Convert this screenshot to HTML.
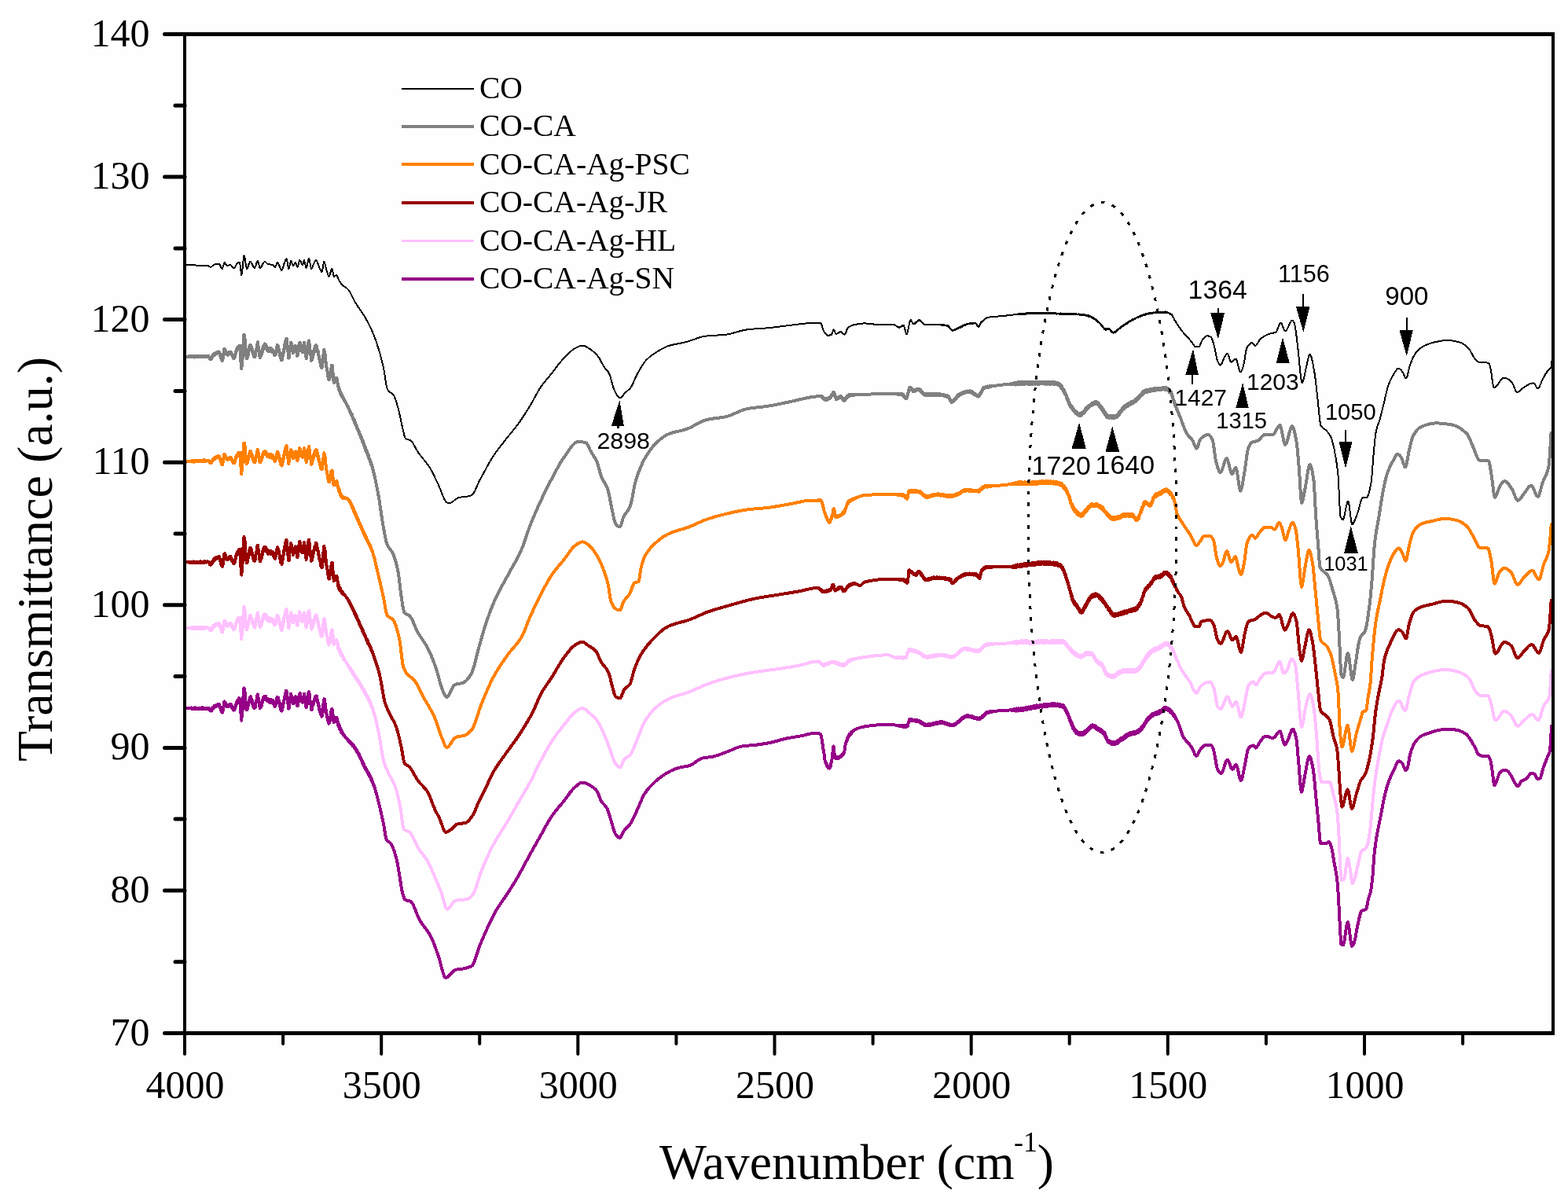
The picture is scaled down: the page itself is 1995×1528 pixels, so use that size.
<!DOCTYPE html>
<html><head><meta charset="utf-8"><title>FTIR</title>
<style>html,body{margin:0;padding:0;background:#fefefe;overflow:hidden}svg{display:block}</style>
</head><body>
<svg width="1995" height="1528" viewBox="0 0 1995 1528">
<rect width="1995" height="1528" fill="#fefefe"/>
<polyline points="235.0,900.7 236.0,900.8 237.0,900.8 238.0,900.8 238.6,900.9 239.0,900.8 239.2,901.0 239.8,900.8 240.0,901.0 240.4,900.8 241.0,901.2 241.0,900.8 241.6,901.2 242.0,900.6 242.2,901.4 242.8,900.8 243.0,901.4 243.4,900.5 244.0,901.7 244.0,900.5 244.6,901.6 245.0,900.6 245.2,901.8 245.8,900.8 246.0,901.8 246.4,900.7 247.0,902.0 247.0,900.8 247.6,901.9 248.0,900.4 248.2,901.7 248.8,900.4 249.0,902.0 249.4,900.9 250.0,902.0 250.0,900.9 250.6,901.9 251.0,900.6 251.2,901.7 251.8,900.7 252.0,902.0 252.4,900.7 253.0,901.7 253.0,900.5 253.6,901.9 254.0,900.5 254.2,901.7 254.8,900.7 255.0,902.0 255.4,900.6 256.0,901.9 256.0,900.8 256.6,901.6 257.0,900.4 257.2,901.7 257.8,900.4 258.0,901.8 258.4,900.4 259.0,901.8 259.0,900.4 259.6,901.9 260.0,900.8 260.2,902.0 260.8,900.6 261.0,901.9 261.4,900.8 262.0,901.6 262.0,900.8 262.6,901.6 262.6,900.8 263.0,901.7 263.2,901.0 263.2,901.8 263.8,901.1 263.8,901.6 264.0,900.9 264.4,901.6 264.4,901.0 265.0,901.7 265.0,900.9 265.0,901.8 265.6,901.2 265.6,902.1 266.0,901.9 266.2,903.0 266.2,901.9 266.8,903.8 266.8,902.8 267.0,904.1 267.4,903.2 267.4,904.5 267.8,903.6 268.0,904.5 268.0,903.6 268.6,904.6 269.0,902.4 269.2,904.2 269.8,901.6 270.0,903.2 270.4,900.8 271.0,901.6 271.0,899.9 271.6,900.6 272.0,899.0 272.2,900.5 272.8,897.9 273.0,899.5 273.4,897.8 274.0,898.9 274.0,897.4 274.6,898.8 275.0,897.2 275.2,898.8 275.8,896.7 276.0,898.1 276.4,896.6 277.0,897.5 277.0,896.4 277.6,897.6 278.0,895.7 278.2,897.9 278.4,896.0 278.8,897.8 279.0,896.3 279.4,899.1 280.0,898.8 280.0,900.6 280.6,900.6 281.0,903.5 281.2,902.2 281.8,905.5 282.0,904.1 282.4,906.7 282.8,905.4 283.0,906.2 283.0,905.1 283.6,904.1 284.0,900.4 284.2,900.2 284.8,895.3 285.0,895.9 285.4,892.5 285.6,894.2 286.0,892.9 286.0,894.5 286.6,893.7 287.0,896.6 287.2,894.8 287.8,898.2 288.0,896.8 288.4,899.2 289.0,897.9 289.0,899.6 289.6,897.7 290.0,899.5 290.2,897.5 290.8,898.9 291.0,897.2 291.4,898.4 292.0,896.7 292.0,897.7 292.6,896.1 293.0,897.7 293.2,895.8 293.8,897.8 294.0,896.7 294.4,898.9 295.0,898.2 295.0,900.1 295.6,899.4 296.0,901.9 296.2,900.5 296.6,902.8 296.8,901.6 297.0,903.2 297.2,901.8 297.4,903.3 297.8,902.0 297.8,903.7 298.0,901.9 298.0,903.3 298.4,901.7 298.6,902.2 299.0,900.2 299.0,900.9 299.2,899.4 299.6,899.4 299.8,897.1 300.0,897.9 300.2,895.6 300.4,896.1 300.8,893.8 301.0,895.3 301.0,893.2 301.4,894.7 301.6,892.2 302.0,893.7 302.0,891.5 302.2,894.1 302.6,890.9 302.8,893.3 303.0,890.3 303.2,892.2 303.4,889.7 303.8,891.6 304.0,888.2 304.4,891.6 305.0,888.9 305.0,891.0 305.6,893.2 306.0,901.2 306.2,901.7 306.8,913.4 307.0,911.2 307.3,916.8 307.4,913.3 308.0,912.0 308.0,908.1 308.6,902.8 309.0,892.8 309.2,893.0 309.8,880.5 310.0,881.6 310.4,875.5 310.6,878.5 311.0,876.8 311.0,879.8 311.6,880.1 312.0,887.8 312.2,887.0 312.8,897.2 313.0,895.4 313.4,902.2 314.0,900.6 314.0,903.6 314.6,900.0 315.0,901.3 315.2,898.3 315.8,898.3 316.0,895.2 316.4,895.9 317.0,890.1 317.0,892.6 317.6,888.4 318.0,890.8 318.2,887.3 318.4,889.7 318.8,886.2 319.0,889.7 319.4,887.8 320.0,892.6 320.0,889.6 320.6,893.3 321.0,891.3 321.2,895.9 321.8,894.6 322.0,898.1 322.4,896.3 323.0,901.0 323.0,896.7 323.6,900.7 324.0,898.2 324.2,900.9 324.8,896.8 325.0,899.4 325.4,893.7 326.0,893.5 326.0,890.9 326.6,890.6 327.0,885.8 327.2,888.4 327.8,883.3 327.9,886.7 328.0,883.8 328.4,887.5 329.0,888.7 329.0,892.3 329.6,892.9 330.0,898.8 330.2,896.4 330.7,901.0 330.8,897.3 331.0,900.5 331.4,897.5 332.0,900.0 332.0,896.3 332.6,898.7 333.0,894.3 333.2,896.8 333.8,891.4 334.0,894.0 334.4,889.1 335.0,890.7 335.0,887.9 335.6,889.5 336.0,886.2 336.2,889.4 336.8,885.5 336.8,889.0 337.0,886.1 337.4,889.5 338.0,885.5 338.0,889.6 338.6,887.4 339.0,891.0 339.2,888.2 339.8,891.7 340.0,889.6 340.4,892.0 341.0,890.3 341.0,892.6 341.6,889.5 342.0,893.0 342.2,889.7 342.8,892.8 343.0,890.9 343.4,893.0 344.0,889.8 344.0,894.1 344.6,891.2 345.0,894.4 345.2,891.0 345.8,893.7 346.0,890.7 346.4,893.7 347.0,890.5 347.0,894.2 347.6,891.7 348.0,895.8 348.2,893.2 348.8,897.7 349.0,893.9 349.4,898.5 350.0,896.2 350.0,899.2 350.6,894.4 351.0,896.3 351.2,892.0 351.8,892.4 352.0,888.9 352.4,890.5 352.9,887.1 353.0,889.9 353.0,887.0 353.6,890.1 354.0,887.5 354.2,891.9 354.8,890.9 355.0,894.7 355.4,892.1 356.0,898.9 356.0,894.8 356.6,900.4 357.0,898.7 357.2,902.7 357.8,901.4 358.0,904.6 358.4,901.4 358.5,904.7 359.0,900.3 359.0,903.3 359.6,898.5 360.0,899.8 360.2,895.1 360.8,894.6 361.0,891.5 361.4,892.2 362.0,886.6 362.0,889.2 362.6,884.3 363.0,885.2 363.2,882.1 363.8,883.4 364.0,878.8 364.4,882.7 364.6,878.9 365.0,882.5 365.0,880.1 365.6,887.9 366.0,888.9 366.2,894.4 366.8,896.0 367.0,901.4 367.4,898.7 367.4,901.6 368.0,896.2 368.0,900.5 368.6,892.8 369.0,891.6 369.2,887.0 369.8,887.4 370.0,882.6 370.1,885.8 370.4,883.9 371.0,888.4 371.0,885.2 371.6,891.5 372.0,889.6 372.2,893.7 372.8,892.4 373.0,895.6 373.4,891.7 374.0,894.4 374.0,891.0 374.6,891.6 375.0,887.9 375.2,890.2 375.8,886.3 376.0,888.9 376.4,886.5 377.0,893.0 377.0,890.1 377.6,896.4 378.0,894.9 378.2,897.9 378.5,895.3 378.8,898.0 379.0,894.6 379.4,895.6 380.0,887.5 380.0,890.8 380.6,884.5 381.0,885.7 381.2,882.5 381.3,885.8 381.8,882.0 382.0,886.5 382.4,884.1 383.0,889.6 383.0,886.2 383.6,891.4 384.0,890.1 384.2,892.7 384.8,890.9 385.0,894.0 385.4,889.6 386.0,890.1 386.0,886.7 386.6,887.0 387.0,882.6 387.2,885.1 387.8,886.1 388.0,890.5 388.4,891.3 389.0,898.3 389.0,895.1 389.6,900.5 389.6,897.7 390.0,899.6 390.2,896.0 390.8,896.3 391.0,891.3 391.4,891.4 392.0,882.9 392.0,886.6 392.6,880.2 393.0,882.8 393.2,880.3 393.8,885.8 394.0,883.2 394.4,890.8 395.0,892.7 395.0,895.8 395.6,896.7 396.0,901.6 396.2,899.9 396.3,903.4 396.8,898.8 397.0,902.2 397.4,897.3 398.0,897.8 398.0,895.2 398.6,896.5 399.0,892.5 399.2,894.7 399.8,889.3 400.0,892.0 400.4,888.9 401.0,889.5 401.0,886.6 401.6,889.5 402.0,885.8 402.2,888.9 402.4,885.5 402.8,888.8 403.0,885.7 403.4,890.1 404.0,890.1 404.0,893.8 404.6,893.0 405.0,898.0 405.2,895.1 405.8,901.1 406.0,898.2 406.4,903.4 407.0,902.7 407.0,905.1 407.6,904.9 408.0,908.8 408.2,906.5 408.8,910.6 409.0,908.2 409.4,911.9 409.6,908.4 410.0,910.3 410.0,907.1 410.6,906.3 411.0,898.8 411.2,899.8 411.8,891.7 412.0,893.8 412.4,889.2 412.4,891.9 413.0,889.8 413.0,893.3 413.6,894.2 414.0,899.6 414.2,898.0 414.8,905.3 415.0,903.1 415.4,908.5 416.0,909.0 416.0,912.2 416.6,911.7 417.0,916.9 417.2,914.7 417.8,919.7 418.0,916.8 418.4,920.9 418.5,918.4 419.0,920.1 419.0,917.1 419.6,917.7 420.0,913.0 420.2,915.1 420.8,908.1 421.0,910.0 421.4,904.5 422.0,905.4 422.0,902.0 422.4,904.3 422.6,902.0 423.0,906.9 423.2,905.1 423.8,912.3 424.0,912.1 424.4,917.5 425.0,916.3 425.0,919.2 425.6,916.4 426.0,918.3 426.2,914.8 426.8,917.6 427.0,913.3 427.4,915.7 428.0,913.0 428.0,916.0 428.6,913.0 429.0,917.8 429.2,914.7 429.8,920.8 430.0,918.6 430.4,923.4 431.0,921.3 431.0,924.7 431.6,923.1 432.0,927.5 432.2,923.6 432.8,928.4 433.0,926.2 433.4,929.2 434.0,928.1 434.0,931.0 434.6,929.9 435.0,932.7 435.2,930.7 435.8,933.8 436.0,932.0 436.4,934.1 437.0,934.0 437.0,935.3 437.6,935.0 438.0,936.1 438.2,935.6 438.8,937.2 439.0,937.0 439.4,937.7 440.0,938.3 440.6,939.0 441.0,939.6 441.2,939.7 441.8,940.6 442.0,940.4 442.4,941.2 443.0,941.3 443.0,942.0 443.6,941.9 444.0,943.3 444.2,942.6 444.8,944.3 445.0,943.3 445.4,944.9 446.0,944.4 446.0,945.4 446.6,944.8 447.0,946.9 447.2,945.4 447.8,947.8 448.0,946.0 448.4,948.4 449.0,947.7 449.0,949.2 449.6,947.7 450.0,950.0 450.2,948.9 450.8,951.6 451.0,949.9 451.4,951.9 452.0,951.3 452.0,952.8 452.6,952.5 453.0,954.5 453.2,953.4 453.8,955.9 454.0,954.1 454.4,956.7 455.0,955.8 455.0,957.9 455.6,957.1 456.0,959.9 456.2,958.3 456.8,961.8 457.0,959.8 457.4,962.4 458.0,961.8 458.0,963.7 458.6,963.2 459.0,965.7 459.2,964.8 459.8,967.5 460.0,966.3 460.4,968.9 461.0,968.5 461.0,970.1 461.6,969.9 462.0,972.8 462.2,971.0 462.8,974.1 463.0,972.5 463.4,975.7 463.5,973.8 464.0,976.2 464.0,974.9 464.6,977.4 465.0,976.7 465.2,979.0 465.8,977.9 466.0,979.9 466.4,979.4 467.0,981.9 467.0,980.0 467.6,983.1 468.0,982.0 468.2,984.0 468.8,983.4 469.0,985.7 469.4,984.7 470.0,987.6 470.0,985.5 470.6,988.5 471.0,987.6 471.2,989.5 471.8,989.4 472.0,991.1 472.4,990.8 473.0,993.2 473.0,991.6 473.6,994.9 474.0,994.2 474.2,996.3 474.8,996.5 475.0,997.9 475.3,997.6 475.4,999.1 476.0,999.7 476.0,1000.4 476.6,1001.7 477.0,1003.4 477.2,1003.5 477.8,1006.2 478.0,1006.4 478.4,1008.2 479.0,1010.1 479.0,1010.3 479.6,1012.4 480.0,1014.0 481.0,1017.9 482.0,1021.8 483.0,1025.8 484.0,1030.1 485.0,1034.5 486.0,1039.0 487.0,1043.7 488.0,1048.5 488.2,1049.5 489.0,1054.1 490.0,1060.6 491.0,1066.2 491.8,1068.7 492.0,1069.0 493.0,1070.1 494.0,1070.9 495.0,1071.4 496.0,1072.1 497.0,1072.9 497.3,1073.3 498.0,1074.3 499.0,1076.2 500.0,1078.5 501.0,1081.2 502.0,1084.3 503.0,1087.6 504.0,1091.2 504.6,1093.5 505.0,1095.1 506.0,1100.1 507.0,1105.9 508.0,1111.9 508.3,1113.6 509.0,1117.9 510.0,1124.6 511.0,1130.9 512.0,1135.6 513.0,1139.1 514.0,1142.1 515.0,1144.2 515.6,1144.8 516.0,1145.0 517.0,1145.4 518.0,1145.6 519.0,1145.8 520.0,1146.0 521.0,1146.2 522.0,1146.6 522.1,1146.6 523.0,1147.2 524.0,1148.4 525.0,1150.0 526.0,1151.9 527.0,1154.1 528.0,1156.5 529.0,1159.0 530.0,1161.6 531.0,1164.1 532.0,1166.4 533.0,1168.6 534.0,1170.5 535.0,1172.2 536.0,1173.7 537.0,1175.2 538.0,1176.6 539.0,1178.0 540.0,1179.3 541.0,1180.7 542.0,1182.0 543.0,1183.4 544.0,1184.8 545.0,1186.2 546.0,1187.8 547.0,1189.5 548.0,1191.3 548.6,1192.4 549.0,1193.2 550.0,1195.3 551.0,1197.7 552.0,1200.2 553.0,1202.8 554.0,1205.6 555.0,1208.4 556.0,1211.2 557.0,1214.1 557.8,1216.3 558.0,1216.9 559.0,1220.1 560.0,1223.8 561.0,1227.8 562.0,1231.7 563.0,1235.5 564.0,1238.8 565.0,1241.4 566.0,1243.2 567.0,1243.8 568.0,1243.6 569.0,1243.2 570.0,1242.5 571.0,1241.6 572.0,1240.6 573.0,1239.5 574.0,1238.4 575.0,1237.3 576.0,1236.2 577.0,1235.3 578.0,1234.5 579.0,1234.0 579.8,1233.7 580.0,1233.7 581.0,1233.5 582.0,1233.4 583.0,1233.3 584.0,1233.2 585.0,1233.1 586.0,1233.0 587.0,1232.8 587.1,1232.8 588.0,1232.6 589.0,1232.5 590.0,1232.3 591.0,1232.1 592.0,1231.9 593.0,1231.7 594.0,1231.4 595.0,1231.1 596.0,1230.8 597.0,1230.4 598.0,1230.0 599.0,1229.6 600.0,1229.1 601.0,1228.2 602.0,1226.7 603.0,1224.6 604.0,1222.1 605.0,1219.3 606.0,1216.3 607.0,1213.2 608.0,1210.0 609.0,1207.0 610.0,1204.1 611.0,1201.6 612.0,1199.3 613.0,1196.9 614.0,1194.6 615.0,1192.3 616.0,1189.9 617.0,1187.6 618.0,1185.3 619.0,1183.1 620.0,1180.8 621.0,1178.6 622.0,1176.4 623.0,1174.3 624.0,1172.2 625.0,1170.1 626.0,1168.1 627.0,1166.1 628.0,1164.2 629.0,1162.3 630.0,1160.5 631.0,1158.8 632.0,1157.1 633.0,1155.5 634.0,1153.9 635.0,1152.4 636.0,1150.9 637.0,1149.4 638.0,1148.0 639.0,1146.6 640.0,1145.1 641.0,1143.7 642.0,1142.3 643.0,1140.8 644.0,1139.3 645.0,1137.8 645.8,1136.6 646.0,1136.3 647.0,1134.7 648.0,1133.2 649.0,1131.6 650.0,1130.0 651.0,1128.5 652.0,1126.9 653.0,1125.3 654.0,1123.7 655.0,1122.0 656.0,1120.4 657.0,1118.7 658.0,1117.0 659.0,1115.3 660.0,1113.5 661.0,1111.7 662.0,1109.9 663.0,1108.1 664.0,1106.2 665.0,1104.3 666.0,1102.5 667.0,1100.6 668.0,1098.7 669.0,1096.8 670.0,1095.0 671.0,1093.1 672.0,1091.3 673.0,1089.4 673.3,1088.9 674.0,1087.6 675.0,1085.8 676.0,1084.1 677.0,1082.3 678.0,1080.5 679.0,1078.7 680.0,1076.9 681.0,1075.2 682.0,1073.4 683.0,1071.6 684.0,1069.9 685.0,1068.1 686.0,1066.4 686.5,1065.5 687.0,1064.6 688.0,1062.8 689.0,1061.0 690.0,1059.2 691.0,1057.4 692.0,1055.6 693.0,1053.7 694.0,1051.9 695.0,1050.1 696.0,1048.3 697.0,1046.6 698.0,1044.9 699.0,1043.2 700.0,1041.6 701.0,1040.0 702.0,1038.5 702.6,1037.6 703.0,1037.0 704.0,1035.6 705.0,1034.3 706.0,1033.0 707.0,1031.7 708.0,1030.4 709.0,1029.2 710.0,1028.0 711.0,1026.8 712.0,1025.7 713.0,1024.5 714.0,1023.3 715.0,1022.1 716.0,1020.9 717.0,1019.7 717.3,1019.3 718.0,1018.4 719.0,1017.1 720.0,1015.8 721.0,1014.4 722.0,1013.0 723.0,1011.6 724.0,1010.2 725.0,1008.8 726.0,1007.5 727.0,1006.2 728.0,1005.0 729.0,1003.9 730.0,1002.8 731.0,1001.9 732.0,1001.0 733.0,1000.2 734.0,999.4 735.0,998.5 736.0,997.8 737.0,997.0 738.0,996.4 739.0,995.9 740.0,995.6 741.0,995.5 741.1,995.5 742.0,995.6 743.0,995.7 744.0,996.0 745.0,996.4 746.0,996.8 747.0,997.3 748.0,997.9 749.0,998.4 750.0,998.9 750.3,999.1 751.0,999.5 752.0,1000.0 753.0,1000.6 754.0,1001.3 755.0,1002.0 756.0,1002.9 757.0,1003.8 758.0,1004.8 759.0,1005.9 759.5,1006.5 760.0,1007.2 761.0,1009.3 762.0,1011.9 763.0,1014.7 764.0,1017.3 765.0,1019.3 766.0,1020.8 767.0,1022.0 768.0,1023.1 769.0,1024.1 770.0,1025.2 771.0,1026.5 772.0,1028.0 772.3,1028.5 773.0,1030.0 774.0,1032.6 775.0,1035.8 776.0,1039.1 777.0,1042.5 777.8,1045.0 778.0,1045.6 779.0,1049.0 780.0,1052.5 781.0,1055.9 782.0,1058.9 783.0,1061.1 783.3,1061.5 784.0,1062.4 785.0,1063.6 786.0,1064.6 787.0,1065.4 788.0,1065.9 788.8,1066.0 789.0,1066.0 790.0,1064.9 791.0,1062.9 792.0,1060.6 793.0,1058.4 793.4,1057.8 794.0,1057.0 795.0,1055.8 796.0,1054.7 797.0,1053.7 798.0,1052.7 799.0,1051.7 800.0,1050.6 801.0,1049.4 801.6,1048.6 802.0,1048.0 803.0,1046.4 804.0,1044.6 805.0,1042.7 806.0,1040.6 807.0,1038.5 808.0,1036.3 809.0,1034.2 810.0,1032.0 810.8,1030.3 811.0,1029.9 812.0,1027.7 813.0,1025.3 814.0,1022.9 815.0,1020.5 816.0,1018.1 817.0,1015.9 818.0,1013.7 819.0,1011.8 820.0,1010.1 821.0,1008.6 822.0,1007.2 823.0,1005.8 824.0,1004.5 825.0,1003.3 826.0,1002.1 827.0,1001.0 828.0,999.9 829.0,998.9 830.0,997.9 831.0,996.9 832.0,995.9 833.0,995.0 834.0,994.1 834.6,993.6 835.0,993.3 836.0,992.4 837.0,991.6 838.0,990.7 839.0,989.9 840.0,989.2 841.0,988.4 842.0,987.7 843.0,987.0 844.0,986.3 845.0,985.6 846.0,985.0 847.0,984.3 848.0,983.7 849.0,983.2 850.0,982.6 851.0,982.1 852.0,981.5 853.0,981.0 854.0,980.5 855.0,980.0 856.0,979.6 857.0,979.1 858.0,978.7 859.0,978.3 860.0,977.9 861.0,977.6 862.0,977.2 862.5,977.1 863.0,977.0 864.0,976.7 865.0,976.5 866.0,976.3 867.0,976.1 868.0,975.9 869.0,975.7 870.0,975.5 871.0,975.4 872.0,975.2 873.0,975.0 874.0,974.8 875.0,974.6 876.0,974.4 877.0,974.1 877.6,973.9 878.0,973.8 879.0,973.4 880.0,972.9 881.0,972.3 882.0,971.7 883.0,971.0 884.0,970.3 885.0,969.6 886.0,968.8 887.0,968.1 888.0,967.4 889.0,966.8 890.0,966.1 891.0,965.6 892.0,965.1 893.0,964.7 893.9,964.5 894.0,964.5 895.0,964.3 896.0,964.1 897.0,963.9 898.0,963.8 899.0,963.7 900.0,963.6 901.0,963.5 902.0,963.3 903.0,963.2 904.0,963.1 905.0,962.9 906.0,962.8 906.4,962.7 907.0,962.6 908.0,962.4 909.0,962.1 910.0,961.8 911.0,961.5 912.0,961.2 913.0,960.9 914.0,960.6 915.0,960.2 916.0,959.8 917.0,959.5 918.0,959.1 919.0,958.7 920.0,958.3 921.0,957.9 922.0,957.6 923.0,957.2 924.0,956.8 925.0,956.5 925.2,956.4 926.0,956.1 927.0,955.7 928.0,955.3 929.0,954.9 930.0,954.5 931.0,954.1 932.0,953.6 933.0,953.2 934.0,952.8 935.0,952.3 936.0,951.9 937.0,951.5 938.0,951.1 939.0,950.8 940.0,950.5 941.0,950.2 942.0,949.9 943.0,949.7 944.0,949.5 945.0,949.3 946.0,949.2 947.0,949.1 948.0,949.0 949.0,948.9 950.0,948.8 951.0,948.7 952.0,948.6 953.0,948.5 954.0,948.4 955.0,948.3 956.0,948.3 957.0,948.2 958.0,948.1 959.0,948.0 960.0,947.9 961.0,947.8 962.0,947.7 962.8,947.6 963.0,947.6 964.0,947.4 965.0,947.3 966.0,947.2 967.0,947.0 968.0,946.9 969.0,946.7 970.0,946.6 971.0,946.4 972.0,946.3 973.0,946.1 974.0,945.9 975.0,945.8 976.0,945.6 977.0,945.4 978.0,945.2 979.0,945.0 980.0,944.8 981.0,944.6 981.6,944.5 982.0,944.4 983.0,944.2 984.0,944.0 985.0,943.7 986.0,943.4 987.0,943.2 988.0,942.9 989.0,942.6 990.0,942.3 991.0,942.0 992.0,941.7 993.0,941.4 994.0,941.1 995.0,940.8 996.0,940.6 997.0,940.3 998.0,940.0 999.0,939.8 1000.0,939.6 1000.4,939.5 1001.0,939.4 1002.0,939.2 1003.0,939.0 1004.0,938.8 1005.0,938.6 1006.0,938.5 1007.0,938.3 1008.0,938.1 1009.0,938.0 1010.0,937.8 1011.0,937.7 1012.0,937.5 1013.0,937.3 1014.0,937.2 1015.0,937.0 1016.0,936.9 1017.0,936.7 1018.0,936.5 1019.0,936.3 1019.2,936.3 1020.0,936.1 1021.0,935.9 1022.0,935.7 1023.0,935.5 1024.0,935.2 1025.0,935.0 1026.0,934.7 1027.0,934.4 1028.0,934.2 1029.0,933.9 1030.0,933.7 1031.0,933.5 1032.0,933.3 1033.0,933.1 1034.0,932.9 1035.0,932.8 1036.0,932.7 1037.0,932.6 1038.0,932.6 1039.0,932.6 1040.0,932.8 1040.6,933.0 1041.0,932.9 1041.2,933.2 1041.8,933.1 1042.0,933.5 1042.4,933.4 1043.0,934.1 1043.0,933.5 1043.6,934.5 1044.0,934.0 1044.2,934.7 1044.2,934.3 1044.8,936.5 1045.0,936.3 1045.4,939.5 1046.0,942.4 1046.0,943.4 1046.6,946.9 1047.0,950.8 1047.2,951.0 1047.4,953.0 1047.8,954.4 1048.0,957.1 1048.4,958.0 1049.0,963.7 1049.0,962.4 1049.6,967.6 1050.0,968.0 1050.2,970.0 1050.5,969.5 1050.8,971.3 1051.0,970.9 1051.4,972.6 1052.0,972.5 1052.0,974.0 1052.6,973.7 1053.0,975.8 1053.2,974.7 1053.8,977.1 1054.0,975.7 1054.4,977.1 1055.0,976.2 1055.0,977.4 1055.5,976.4 1055.6,977.7 1056.0,976.0 1056.2,977.0 1056.8,973.4 1057.0,974.4 1057.4,970.7 1058.0,969.3 1058.0,967.5 1058.6,965.8 1058.6,964.6 1059.0,962.6 1059.2,959.5 1059.8,954.3 1060.0,951.6 1060.4,950.8 1060.5,949.5 1061.0,953.3 1061.0,951.8 1061.6,959.4 1062.0,961.9 1062.2,964.3 1062.4,963.0 1062.8,964.3 1063.0,963.3 1063.4,964.7 1064.0,963.4 1064.0,964.8 1064.6,962.9 1065.0,964.8 1065.2,963.1 1065.5,964.8 1065.8,962.9 1066.0,964.9 1066.4,963.2 1067.0,964.5 1067.0,963.3 1067.6,964.5 1068.0,962.9 1068.2,963.9 1068.8,962.2 1069.0,963.4 1069.4,961.9 1070.0,962.7 1070.0,961.3 1070.6,962.3 1071.0,960.3 1071.2,961.7 1071.8,959.4 1072.0,960.4 1072.4,958.7 1073.0,959.6 1073.0,958.1 1073.6,958.5 1074.0,956.1 1074.2,957.0 1074.3,955.6 1074.8,954.2 1075.0,951.2 1075.4,949.6 1075.6,946.9 1076.0,946.8 1076.0,945.3 1076.6,944.8 1077.0,942.5 1077.2,943.4 1077.8,940.3 1078.0,941.3 1078.4,938.4 1079.0,938.8 1079.0,937.7 1079.6,937.7 1080.0,935.6 1080.2,936.9 1080.8,934.1 1081.0,935.4 1081.4,933.9 1081.8,934.8 1082.0,933.1 1082.0,934.5 1082.6,932.0 1083.0,933.2 1083.2,931.6 1083.8,931.9 1084.0,930.7 1084.4,931.4 1085.0,929.8 1085.0,930.7 1085.6,929.5 1086.0,930.0 1086.2,929.0 1086.8,929.3 1087.0,928.5 1087.4,928.7 1088.0,928.1 1088.0,928.4 1088.1,928.1 1088.6,928.1 1089.0,927.7 1089.2,927.7 1089.8,927.4 1090.0,927.3 1091.0,926.9 1092.0,926.5 1093.0,926.1 1094.0,925.8 1095.0,925.5 1096.0,925.2 1097.0,925.0 1098.0,924.8 1099.0,924.6 1100.0,924.4 1101.0,924.2 1102.0,924.1 1103.0,923.9 1104.0,923.8 1105.0,923.7 1106.0,923.5 1107.0,923.4 1108.0,923.3 1109.0,923.1 1110.0,923.0 1111.0,922.9 1112.0,922.8 1113.0,922.7 1114.0,922.6 1115.0,922.5 1116.0,922.4 1117.0,922.3 1118.0,922.2 1119.0,922.1 1120.0,922.0 1121.0,922.0 1122.0,921.9 1123.0,921.9 1124.0,921.8 1125.0,921.8 1126.0,921.7 1127.0,921.7 1128.0,921.7 1129.0,921.7 1129.5,921.7 1130.0,921.7 1131.0,921.7 1132.0,921.8 1133.0,921.8 1134.0,921.9 1135.0,922.0 1136.0,922.1 1137.0,922.2 1138.0,922.4 1139.0,922.5 1140.0,922.6 1140.6,922.8 1141.0,922.7 1141.2,922.9 1141.8,922.8 1142.0,923.1 1142.4,922.8 1143.0,923.4 1143.0,922.7 1143.6,923.6 1144.0,923.0 1144.2,923.5 1144.8,922.8 1145.0,923.8 1145.4,923.1 1146.0,924.0 1146.0,923.1 1146.6,924.0 1147.0,922.9 1147.2,924.4 1147.8,923.2 1148.0,924.5 1148.4,923.2 1149.0,924.8 1149.0,923.2 1149.6,924.6 1150.0,923.4 1150.2,924.6 1150.8,923.4 1151.0,924.9 1151.4,923.5 1152.0,924.8 1152.0,923.4 1152.6,925.0 1153.0,923.3 1153.2,924.8 1153.8,923.6 1154.0,924.6 1154.4,923.0 1155.0,923.3 1155.0,921.9 1155.6,920.9 1156.0,918.2 1156.2,918.5 1156.8,915.7 1157.0,916.9 1157.3,915.3 1157.4,916.9 1158.0,915.2 1158.0,916.6 1158.6,915.1 1159.0,917.0 1159.2,915.2 1159.8,916.6 1160.0,915.3 1160.4,916.6 1161.0,915.6 1161.0,916.9 1161.6,915.6 1162.0,917.2 1162.2,915.6 1162.8,917.2 1163.0,915.8 1163.4,917.4 1164.0,916.1 1164.0,917.6 1164.6,915.9 1165.0,917.8 1165.2,915.9 1165.8,917.9 1166.0,916.4 1166.4,918.1 1167.0,916.3 1167.0,917.9 1167.6,916.9 1168.0,918.4 1168.2,917.0 1168.7,918.1 1168.8,916.9 1169.0,918.6 1169.4,917.2 1170.0,918.6 1170.0,917.2 1170.6,919.1 1171.0,917.8 1171.2,919.5 1171.8,918.2 1172.0,920.1 1172.4,918.9 1173.0,920.5 1173.0,918.9 1173.6,921.2 1174.0,919.9 1174.2,921.3 1174.8,920.2 1175.0,921.8 1175.4,920.8 1176.0,922.6 1176.0,921.0 1176.6,922.9 1177.0,921.4 1177.2,922.8 1177.8,921.8 1178.0,923.3 1178.4,921.8 1178.5,923.4 1179.0,922.1 1179.0,923.5 1179.6,921.8 1180.0,923.0 1180.2,922.0 1180.8,922.8 1181.0,921.4 1181.4,923.2 1182.0,921.2 1182.0,923.1 1182.6,921.5 1183.0,922.6 1183.2,921.3 1183.8,922.5 1184.0,921.4 1184.4,922.5 1185.0,920.9 1185.0,922.6 1185.6,920.6 1186.0,921.8 1186.2,920.9 1186.8,922.0 1187.0,920.4 1187.4,922.1 1188.0,920.2 1188.0,921.6 1188.6,920.4 1189.0,921.3 1189.2,919.7 1189.8,920.9 1190.0,919.7 1190.4,921.3 1191.0,919.2 1191.0,920.6 1191.6,919.5 1192.0,920.5 1192.2,918.9 1192.8,920.7 1193.0,919.2 1193.4,920.3 1194.0,918.8 1194.0,920.0 1194.6,919.0 1195.0,920.3 1195.2,918.8 1195.8,919.9 1196.0,918.4 1196.4,920.1 1197.0,918.3 1197.0,920.1 1197.6,918.5 1198.0,919.7 1198.2,918.4 1198.2,919.9 1198.8,918.4 1199.0,920.0 1199.4,918.4 1200.0,919.8 1200.0,918.9 1200.6,920.4 1201.0,918.8 1201.2,920.6 1201.8,919.4 1202.0,920.6 1202.4,919.6 1203.0,920.7 1203.0,919.8 1203.6,920.9 1204.0,920.0 1204.2,921.1 1204.8,920.1 1205.0,921.7 1205.4,920.3 1206.0,922.3 1206.0,920.7 1206.6,922.1 1207.0,921.1 1207.2,922.6 1207.8,921.1 1208.0,922.8 1208.4,921.5 1209.0,922.7 1209.0,921.5 1209.6,923.3 1210.0,921.9 1210.2,923.3 1210.8,921.7 1211.0,923.1 1211.3,921.7 1211.4,923.5 1212.0,921.9 1212.0,923.0 1212.6,921.7 1213.0,922.8 1213.2,921.6 1213.8,922.8 1214.0,921.0 1214.4,922.5 1215.0,920.7 1215.0,922.4 1215.6,920.6 1216.0,921.7 1216.2,920.1 1216.8,921.3 1217.0,919.7 1217.4,920.4 1218.0,918.9 1218.0,920.1 1218.6,918.1 1219.0,919.2 1219.2,917.5 1219.8,918.8 1220.0,917.2 1220.4,918.2 1221.0,916.1 1221.0,917.4 1221.6,915.6 1222.0,916.8 1222.2,914.9 1222.8,915.9 1223.0,914.7 1223.4,915.6 1224.0,913.4 1224.0,914.8 1224.6,913.4 1225.0,914.0 1225.2,912.4 1225.8,913.9 1226.0,912.4 1226.4,913.5 1227.0,911.6 1227.0,912.7 1227.6,911.5 1228.0,912.3 1228.2,911.3 1228.8,912.0 1229.0,911.0 1229.4,911.8 1230.0,910.7 1230.0,911.8 1230.6,910.2 1230.9,912.0 1231.0,910.4 1231.2,911.5 1231.8,910.2 1232.0,911.6 1232.4,910.8 1233.0,912.1 1233.0,910.5 1233.6,912.2 1234.0,910.9 1234.2,912.4 1234.8,910.7 1235.0,912.1 1235.4,910.8 1236.0,912.8 1236.0,911.1 1236.6,912.9 1237.0,911.4 1237.2,913.3 1237.8,911.6 1238.0,913.2 1238.4,912.2 1239.0,913.7 1239.0,912.3 1239.6,914.1 1240.0,912.6 1240.2,913.8 1240.8,912.9 1241.0,914.5 1241.4,912.8 1242.0,914.3 1242.0,913.3 1242.6,914.6 1243.0,913.1 1243.2,914.8 1243.8,913.6 1244.0,914.7 1244.4,913.7 1245.0,915.0 1245.0,913.8 1245.6,914.8 1245.6,913.4 1246.0,915.1 1246.2,913.5 1246.8,914.6 1247.0,913.3 1247.4,914.7 1248.0,912.9 1248.0,914.1 1248.6,912.6 1249.0,913.4 1249.2,912.1 1249.8,912.9 1250.0,910.9 1250.4,911.9 1251.0,910.3 1251.0,911.9 1251.6,909.8 1252.0,910.8 1252.2,909.2 1252.8,909.8 1253.0,908.0 1253.4,909.4 1254.0,907.1 1254.0,908.6 1254.6,906.8 1255.0,907.7 1255.2,906.1 1255.8,907.5 1256.0,906.0 1256.4,907.1 1257.0,905.5 1257.0,906.8 1257.1,905.6 1257.6,907.0 1258.0,905.6 1258.2,906.8 1258.8,905.3 1259.0,906.3 1259.4,905.3 1260.0,905.9 1260.0,905.3 1260.6,905.9 1261.0,905.3 1261.2,905.7 1261.8,905.2 1262.0,905.6 1262.4,905.2 1263.0,905.4 1263.0,905.0 1263.6,905.3 1264.0,905.0 1264.2,905.1 1264.8,905.0 1265.0,904.9 1266.0,904.8 1267.0,904.7 1268.0,904.6 1269.0,904.5 1270.0,904.4 1271.0,904.4 1272.0,904.3 1273.0,904.2 1274.0,904.1 1275.0,904.1 1276.0,904.0 1277.0,903.9 1278.0,903.8 1279.0,903.8 1280.0,903.7 1281.0,903.6 1282.0,903.6 1283.0,903.5 1284.0,903.5 1285.0,903.4 1285.6,903.5 1286.0,903.2 1286.2,903.5 1286.8,903.1 1287.0,903.6 1287.4,903.1 1288.0,903.8 1288.0,902.9 1288.6,904.0 1289.0,902.5 1289.2,904.0 1289.8,902.3 1290.0,904.2 1290.4,902.1 1291.0,903.7 1291.0,902.4 1291.6,904.4 1292.0,902.0 1292.2,904.6 1292.8,901.9 1293.0,904.1 1293.4,901.5 1294.0,904.0 1294.0,901.9 1294.6,904.5 1295.0,901.9 1295.2,904.3 1295.8,902.1 1296.0,903.8 1296.4,901.2 1297.0,903.7 1297.0,902.0 1297.6,903.5 1298.0,902.0 1298.2,903.8 1298.8,901.4 1299.0,904.3 1299.4,901.0 1300.0,903.6 1300.0,901.4 1300.6,903.6 1301.0,901.3 1301.2,904.0 1301.8,901.3 1302.0,903.8 1302.4,900.7 1303.0,903.3 1303.0,901.2 1303.6,902.8 1304.0,900.6 1304.2,903.4 1304.8,900.5 1305.0,902.7 1305.4,900.3 1306.0,902.5 1306.0,900.1 1306.6,903.1 1307.0,900.3 1307.2,902.6 1307.8,900.0 1308.0,902.1 1308.4,899.4 1309.0,901.9 1309.0,899.4 1309.6,902.2 1310.0,899.8 1310.2,902.1 1310.8,899.4 1311.0,901.5 1311.4,899.2 1312.0,901.3 1312.0,899.1 1312.6,901.5 1313.0,899.0 1313.1,900.8 1313.2,898.5 1313.8,901.0 1314.0,898.6 1314.4,900.6 1315.0,898.3 1315.0,901.0 1315.6,898.2 1316.0,901.1 1316.2,898.7 1316.8,900.6 1317.0,898.6 1317.4,900.3 1318.0,897.8 1318.0,900.7 1318.6,898.1 1319.0,900.6 1319.2,897.3 1319.8,900.5 1320.0,897.7 1320.4,900.1 1321.0,897.5 1321.0,899.4 1321.6,897.6 1322.0,900.1 1322.2,897.6 1322.8,899.6 1323.0,897.0 1323.4,899.4 1324.0,897.0 1324.0,899.5 1324.6,897.4 1325.0,898.9 1325.2,896.9 1325.8,899.4 1326.0,896.8 1326.2,899.7 1326.4,897.1 1327.0,898.7 1327.0,896.4 1327.6,899.4 1328.0,896.1 1328.2,899.4 1328.8,896.6 1329.0,898.9 1329.4,896.3 1330.0,898.8 1330.0,896.5 1330.6,899.0 1331.0,896.0 1331.2,898.1 1331.8,895.8 1332.0,898.5 1332.4,895.9 1333.0,898.9 1333.0,895.9 1333.6,898.1 1334.0,895.8 1334.2,898.2 1334.8,896.2 1335.0,897.9 1335.4,895.6 1336.0,898.1 1336.0,895.8 1336.6,898.0 1337.0,895.6 1337.2,898.2 1337.8,895.3 1338.0,897.8 1338.4,895.5 1339.0,898.0 1339.0,896.0 1339.6,898.3 1340.0,895.4 1340.2,897.9 1340.8,895.5 1341.0,897.9 1341.4,895.6 1341.9,897.9 1342.0,895.2 1342.0,897.8 1342.6,895.3 1343.0,897.4 1343.2,895.7 1343.8,898.2 1344.0,895.4 1344.4,897.6 1345.0,895.8 1345.0,898.0 1345.6,895.4 1346.0,897.8 1346.2,896.2 1346.8,898.1 1347.0,896.1 1347.4,898.6 1348.0,896.3 1348.0,898.8 1348.6,896.6 1349.0,898.6 1349.2,896.2 1349.8,898.9 1350.0,896.6 1350.4,899.1 1351.0,897.4 1351.0,899.3 1351.6,897.6 1352.0,899.3 1352.2,897.1 1352.4,900.0 1352.8,897.1 1353.0,900.4 1353.4,898.2 1354.0,900.9 1354.0,899.1 1354.6,901.8 1355.0,899.9 1355.2,903.0 1355.8,901.8 1356.0,904.6 1356.4,903.4 1357.0,906.6 1357.0,904.7 1357.6,907.8 1357.6,905.6 1358.0,909.0 1358.2,906.4 1358.8,910.3 1359.0,908.8 1359.4,911.6 1360.0,911.3 1360.0,913.9 1360.6,912.7 1361.0,916.2 1361.2,914.4 1361.8,918.2 1362.0,916.3 1362.4,919.8 1362.8,918.3 1363.0,921.5 1363.0,918.7 1363.6,922.3 1364.0,920.8 1364.2,923.7 1364.8,923.0 1365.0,926.4 1365.4,924.0 1366.0,928.0 1366.0,925.7 1366.6,929.4 1367.0,927.8 1367.2,930.2 1367.8,928.5 1368.0,930.9 1368.1,928.6 1368.4,932.0 1369.0,930.1 1369.0,932.5 1369.6,930.1 1370.0,933.1 1370.2,930.5 1370.8,933.3 1371.0,931.5 1371.4,933.5 1372.0,932.1 1372.0,934.1 1372.6,931.8 1373.0,934.4 1373.2,931.8 1373.8,935.3 1374.0,932.8 1374.4,934.8 1375.0,933.0 1375.0,934.8 1375.6,932.6 1375.9,935.5 1376.0,932.3 1376.2,935.2 1376.8,932.8 1377.0,935.5 1377.4,932.9 1378.0,934.6 1378.0,932.4 1378.6,934.5 1379.0,931.7 1379.2,933.4 1379.8,930.5 1380.0,933.7 1380.4,930.1 1381.0,932.1 1381.0,930.2 1381.6,931.8 1382.0,929.4 1382.2,931.5 1382.5,928.6 1382.8,931.6 1383.0,928.3 1383.4,930.8 1384.0,927.6 1384.0,929.8 1384.6,926.5 1385.0,928.8 1385.2,925.8 1385.8,928.2 1386.0,925.6 1386.4,927.0 1387.0,924.1 1387.0,926.8 1387.6,923.6 1388.0,925.8 1388.2,923.4 1388.8,925.6 1389.0,922.7 1389.4,925.3 1390.0,922.0 1390.0,925.0 1390.3,922.7 1390.6,924.3 1391.0,922.5 1391.2,925.3 1391.8,923.0 1392.0,924.7 1392.4,923.3 1393.0,925.5 1393.0,923.2 1393.6,925.7 1394.0,923.8 1394.2,926.7 1394.8,924.6 1395.0,927.5 1395.4,925.3 1396.0,928.4 1396.0,925.6 1396.6,928.6 1396.9,925.9 1397.0,928.5 1397.2,926.1 1397.8,928.7 1398.0,926.8 1398.4,929.5 1399.0,927.8 1399.0,929.9 1399.6,927.3 1400.0,930.6 1400.2,928.3 1400.8,930.9 1401.0,928.3 1401.4,931.5 1402.0,929.0 1402.0,931.9 1402.6,929.7 1403.0,932.6 1403.2,930.1 1403.8,932.9 1404.0,930.9 1404.4,934.1 1404.7,931.3 1405.0,934.3 1405.0,931.4 1405.6,935.4 1406.0,933.7 1406.2,936.7 1406.8,935.8 1407.0,938.1 1407.4,937.3 1408.0,940.9 1408.0,938.3 1408.6,942.7 1409.0,941.2 1409.2,943.2 1409.8,942.3 1409.9,944.6 1410.0,941.7 1410.4,944.4 1411.0,942.9 1411.0,944.7 1411.6,942.8 1412.0,945.1 1412.2,943.6 1412.8,945.6 1413.0,943.0 1413.4,945.7 1414.0,943.7 1414.0,946.7 1414.6,943.7 1415.0,946.8 1415.2,944.3 1415.8,947.0 1416.0,944.1 1416.4,946.8 1417.0,944.5 1417.0,947.0 1417.6,945.1 1417.8,947.4 1418.0,944.3 1418.2,947.4 1418.8,944.8 1419.0,946.6 1419.4,944.3 1420.0,946.3 1420.0,944.4 1420.6,945.7 1421.0,943.9 1421.2,945.5 1421.8,943.1 1422.0,945.7 1422.4,943.1 1423.0,944.1 1423.0,941.7 1423.6,943.6 1424.0,941.8 1424.2,943.9 1424.8,940.7 1425.0,943.0 1425.4,939.9 1426.0,941.9 1426.0,939.9 1426.6,942.3 1427.0,938.9 1427.2,941.2 1427.8,938.7 1428.0,940.8 1428.4,938.6 1429.0,940.0 1429.0,938.4 1429.6,940.5 1430.0,937.5 1430.2,939.5 1430.8,936.6 1431.0,939.4 1431.4,936.0 1432.0,938.4 1432.0,935.5 1432.6,937.7 1433.0,934.9 1433.2,937.1 1433.8,934.5 1434.0,937.2 1434.4,934.1 1435.0,936.5 1435.0,933.5 1435.6,935.7 1436.0,933.4 1436.2,935.5 1436.8,933.1 1437.0,935.6 1437.4,932.5 1437.4,935.1 1438.0,933.0 1438.0,934.7 1438.6,932.3 1439.0,934.8 1439.2,931.9 1439.8,934.3 1440.0,931.9 1440.4,934.1 1441.0,931.5 1441.0,933.8 1441.6,931.7 1442.0,934.3 1442.2,931.3 1442.8,933.8 1443.0,931.3 1443.4,933.2 1444.0,931.5 1444.0,933.9 1444.6,931.2 1445.0,933.3 1445.2,931.0 1445.8,933.4 1446.0,930.4 1446.4,932.4 1446.6,930.1 1447.0,932.2 1447.0,930.3 1447.6,931.7 1448.0,929.6 1448.2,932.2 1448.8,928.9 1449.0,931.1 1449.4,928.5 1450.0,929.9 1450.0,927.6 1450.6,929.9 1451.0,927.2 1451.2,929.1 1451.8,925.9 1452.0,928.5 1452.4,925.8 1453.0,927.0 1453.0,924.5 1453.1,927.3 1453.6,924.1 1454.0,926.1 1454.2,923.6 1454.8,924.7 1455.0,922.2 1455.4,924.3 1456.0,920.9 1456.0,922.9 1456.6,919.3 1457.0,920.7 1457.2,918.8 1457.8,919.7 1458.0,917.0 1458.4,918.9 1459.0,915.3 1459.0,917.6 1459.6,914.5 1459.7,917.0 1460.0,914.4 1460.2,916.1 1460.8,912.9 1461.0,915.5 1461.4,912.9 1462.0,914.9 1462.0,912.3 1462.6,913.6 1463.0,911.5 1463.2,913.2 1463.8,910.3 1464.0,912.5 1464.4,909.6 1465.0,911.6 1465.0,909.6 1465.6,911.7 1466.0,908.4 1466.2,911.4 1466.8,908.5 1467.0,910.4 1467.4,908.5 1467.5,910.0 1468.0,908.0 1468.0,910.2 1468.6,907.8 1469.0,909.1 1469.2,906.8 1469.8,908.7 1470.0,906.6 1470.4,908.4 1471.0,906.4 1471.0,909.2 1471.6,906.3 1472.0,908.8 1472.2,905.7 1472.8,908.3 1473.0,905.8 1473.4,907.8 1474.0,905.3 1474.0,907.2 1474.6,904.5 1475.0,907.7 1475.2,904.8 1475.8,906.6 1476.0,904.1 1476.4,906.1 1476.7,904.4 1477.0,905.8 1477.0,903.7 1477.6,906.3 1478.0,903.1 1478.2,905.0 1478.8,902.5 1479.0,905.1 1479.4,902.4 1480.0,903.9 1480.0,901.7 1480.6,903.4 1481.0,900.4 1481.2,903.4 1481.8,900.4 1482.0,902.3 1482.4,900.5 1483.0,902.4 1483.0,900.1 1483.2,902.5 1483.6,900.2 1484.0,902.8 1484.2,900.3 1484.8,902.7 1485.0,900.9 1485.4,903.5 1486.0,901.0 1486.0,903.0 1486.6,901.7 1487.0,904.2 1487.2,901.8 1487.8,904.2 1488.0,902.1 1488.4,905.0 1489.0,902.9 1489.0,906.1 1489.6,903.4 1489.8,906.1 1490.0,904.1 1490.2,906.4 1490.8,904.8 1491.0,907.9 1491.4,905.7 1492.0,908.5 1492.0,906.9 1492.6,909.9 1493.0,908.3 1493.2,910.4 1493.8,909.0 1494.0,911.2 1494.4,910.5 1495.0,912.7 1495.0,911.2 1495.6,914.0 1496.0,913.3 1496.2,914.7 1496.3,913.8 1496.8,915.5 1497.0,915.3 1497.4,916.8 1498.0,917.4 1498.0,917.8 1498.6,918.7 1499.0,919.9 1499.2,920.2 1499.8,921.7 1500.0,922.2 1501.0,924.9 1502.0,928.0 1503.0,931.2 1504.0,934.1 1505.0,936.4 1505.1,936.6 1506.0,938.2 1507.0,939.7 1508.0,941.1 1509.0,942.4 1510.0,943.5 1511.0,944.6 1512.0,945.7 1513.0,946.8 1514.0,948.0 1515.0,949.2 1516.0,950.7 1516.1,950.8 1517.0,952.4 1518.0,954.6 1519.0,956.9 1520.0,959.1 1521.0,960.8 1522.0,961.7 1522.4,961.8 1523.0,961.5 1524.0,960.1 1525.0,958.0 1526.0,955.7 1527.0,954.0 1527.1,953.9 1528.0,952.8 1529.0,951.6 1530.0,950.5 1531.0,949.5 1532.0,948.8 1533.0,948.4 1533.4,948.4 1534.0,948.4 1535.0,948.4 1536.0,948.4 1537.0,948.4 1538.0,948.4 1539.0,948.4 1540.0,948.4 1541.0,948.4 1541.3,948.4 1542.0,948.9 1543.0,951.2 1544.0,954.2 1544.4,955.5 1545.0,957.8 1546.0,963.3 1547.0,969.6 1548.0,975.3 1549.0,978.8 1549.1,979.0 1550.0,980.5 1551.0,981.9 1552.0,982.9 1553.0,983.6 1553.8,983.8 1554.0,983.8 1555.0,982.7 1556.0,980.5 1557.0,977.6 1558.0,974.3 1559.0,971.2 1560.0,968.6 1561.0,966.9 1561.7,966.5 1562.0,966.6 1563.0,967.9 1564.0,970.3 1565.0,973.2 1566.0,976.0 1567.0,978.2 1568.0,979.0 1569.0,978.3 1570.0,976.6 1571.0,974.6 1572.0,973.2 1572.7,972.8 1573.0,972.9 1574.0,975.1 1575.0,979.1 1576.0,984.0 1577.0,988.6 1578.0,992.0 1578.9,993.2 1579.0,993.2 1580.0,991.5 1581.0,987.7 1582.0,982.8 1583.0,977.6 1583.7,974.3 1584.0,972.9 1585.0,967.6 1586.0,961.7 1587.0,956.5 1588.0,953.0 1588.4,952.3 1589.0,951.6 1590.0,950.7 1591.0,949.8 1592.0,949.2 1593.0,948.7 1594.0,948.5 1594.7,948.4 1595.0,948.5 1596.0,949.6 1597.0,951.1 1597.8,951.6 1598.0,951.6 1599.0,950.7 1600.0,949.1 1601.0,947.1 1602.0,945.2 1602.5,944.5 1603.0,943.9 1604.0,942.5 1605.0,941.2 1606.0,939.9 1607.0,938.7 1608.0,937.7 1609.0,937.0 1610.0,936.6 1610.4,936.6 1611.0,936.6 1612.0,936.8 1613.0,937.0 1614.0,937.4 1615.0,937.8 1616.0,938.1 1617.0,938.5 1618.0,938.8 1619.0,939.0 1619.8,939.0 1620.0,939.0 1621.0,938.5 1622.0,937.6 1623.0,936.3 1624.0,934.8 1625.0,933.4 1626.0,932.0 1627.0,931.0 1628.0,930.5 1628.4,930.4 1629.0,930.8 1630.0,933.2 1631.0,936.8 1632.0,940.8 1633.0,944.5 1634.0,947.0 1634.7,947.6 1635.0,947.5 1636.0,946.5 1637.0,944.7 1638.0,942.6 1638.6,941.4 1639.0,940.6 1640.0,938.1 1641.0,935.2 1642.0,932.4 1643.0,929.9 1644.0,928.3 1644.8,927.8 1645.0,927.8 1646.0,928.8 1647.0,931.1 1648.0,934.3 1649.0,938.2 1649.2,939.0 1650.0,944.5 1651.0,955.4 1652.0,967.6 1652.4,972.0 1653.0,979.1 1654.0,992.8 1655.0,1004.0 1655.8,1007.5 1656.0,1007.4 1657.0,1004.9 1658.0,999.7 1659.0,993.5 1660.0,987.6 1660.4,985.6 1661.0,982.7 1662.0,977.2 1663.0,971.5 1664.0,966.6 1665.0,963.2 1665.9,962.1 1666.0,962.1 1667.0,963.3 1668.0,966.1 1669.0,970.1 1670.0,974.8 1670.6,977.8 1671.0,980.2 1672.0,988.7 1673.0,999.5 1674.0,1010.8 1674.6,1017.1 1675.0,1021.1 1676.0,1031.1 1677.0,1041.3 1677.7,1048.5 1678.0,1052.0 1679.0,1065.7 1680.0,1073.0 1681.0,1073.0 1682.0,1073.0 1683.0,1073.0 1684.0,1073.0 1685.0,1073.0 1686.0,1072.9 1687.0,1072.9 1687.4,1072.9 1688.0,1072.8 1689.0,1072.1 1690.0,1071.4 1691.0,1071.0 1691.1,1071.0 1692.0,1071.9 1693.0,1074.6 1694.0,1078.1 1694.5,1080.0 1695.0,1082.2 1696.0,1088.3 1697.0,1094.7 1697.1,1095.3 1698.0,1100.1 1699.0,1105.0 1700.0,1110.4 1701.0,1117.3 1701.2,1118.9 1702.0,1127.6 1703.0,1142.4 1704.0,1162.3 1704.2,1166.0 1705.0,1181.6 1706.0,1198.2 1706.5,1201.3 1707.0,1201.7 1708.0,1202.3 1708.9,1202.5 1709.0,1202.5 1710.0,1199.8 1711.0,1194.0 1712.0,1186.7 1713.0,1179.6 1714.0,1174.6 1714.8,1173.1 1715.0,1173.2 1716.0,1177.1 1717.0,1184.5 1718.0,1193.1 1719.0,1200.3 1720.0,1203.7 1720.1,1203.7 1721.0,1203.1 1722.0,1201.3 1723.0,1199.0 1724.0,1195.5 1725.0,1190.3 1726.0,1184.4 1727.0,1178.7 1727.7,1175.4 1728.0,1174.1 1729.0,1169.7 1730.0,1165.4 1731.0,1161.7 1732.0,1159.4 1732.4,1158.9 1733.0,1158.5 1734.0,1158.1 1735.0,1157.9 1736.0,1157.7 1737.0,1157.4 1738.0,1156.8 1738.3,1156.6 1739.0,1154.5 1740.0,1148.5 1740.7,1144.8 1741.0,1143.7 1742.0,1140.5 1743.0,1137.7 1744.0,1133.9 1744.2,1133.0 1745.0,1127.9 1746.0,1119.1 1746.6,1113.0 1747.0,1108.0 1748.0,1093.0 1748.3,1089.4 1749.0,1082.7 1750.0,1074.7 1751.0,1067.8 1751.3,1065.9 1752.0,1061.7 1753.0,1056.2 1754.0,1051.3 1755.0,1046.5 1756.0,1041.6 1756.2,1040.6 1757.0,1036.5 1758.0,1031.2 1759.0,1025.9 1760.0,1020.7 1761.0,1015.8 1762.0,1011.3 1762.5,1009.2 1763.0,1007.3 1764.0,1003.6 1765.0,1000.1 1766.0,996.9 1767.0,994.0 1767.2,993.5 1768.0,991.4 1769.0,988.9 1770.0,986.6 1771.0,984.5 1772.0,982.4 1773.0,980.4 1773.5,979.4 1774.0,978.4 1775.0,976.1 1776.0,973.8 1777.0,971.6 1778.0,969.8 1779.0,968.6 1779.8,968.3 1780.0,968.3 1781.0,968.6 1782.0,969.2 1783.0,970.1 1784.0,971.1 1784.2,971.3 1785.0,972.6 1786.0,975.1 1787.0,977.8 1788.0,979.5 1788.5,979.8 1789.0,979.6 1790.0,978.2 1791.0,976.1 1792.0,971.8 1793.0,965.4 1794.0,960.1 1795.0,956.6 1796.0,953.6 1797.0,951.1 1798.0,948.9 1799.0,946.9 1800.0,945.1 1801.0,943.6 1802.0,942.2 1802.1,942.1 1803.0,941.1 1804.0,940.0 1805.0,939.0 1806.0,938.1 1807.0,937.3 1808.0,936.6 1809.0,936.1 1809.1,936.0 1810.0,935.5 1811.0,935.1 1812.0,934.7 1813.0,934.3 1814.0,933.9 1815.0,933.6 1816.0,933.3 1817.0,933.0 1818.0,932.7 1819.0,932.4 1820.0,932.0 1820.1,932.0 1821.0,931.7 1822.0,931.4 1823.0,931.0 1824.0,930.7 1825.0,930.3 1826.0,930.0 1827.0,929.7 1828.0,929.5 1829.0,929.2 1830.0,929.0 1830.1,929.0 1831.0,928.8 1832.0,928.7 1833.0,928.5 1834.0,928.3 1835.0,928.2 1836.0,928.0 1837.0,927.9 1838.0,927.7 1839.0,927.6 1840.0,927.6 1841.0,927.5 1842.0,927.5 1842.2,927.5 1843.0,927.5 1844.0,927.5 1845.0,927.6 1846.0,927.7 1847.0,927.8 1848.0,927.9 1849.0,928.1 1850.0,928.2 1851.0,928.4 1852.0,928.6 1853.0,928.8 1854.0,929.0 1854.2,929.0 1855.0,929.2 1856.0,929.4 1857.0,929.7 1858.0,930.1 1859.0,930.5 1860.0,931.0 1861.0,931.4 1862.0,932.0 1863.0,932.6 1864.0,933.2 1865.0,933.9 1865.2,934.0 1866.0,934.6 1867.0,935.7 1868.0,936.9 1869.0,938.3 1870.0,939.7 1871.0,941.3 1872.0,942.8 1872.2,943.1 1873.0,944.4 1874.0,946.1 1875.0,947.9 1876.0,949.8 1877.0,951.7 1877.2,952.1 1878.0,953.8 1879.0,956.2 1880.0,958.3 1881.0,959.9 1881.3,960.1 1882.0,960.5 1883.0,961.0 1884.0,961.3 1885.0,961.6 1885.3,961.6 1886.0,961.7 1887.0,961.7 1888.0,961.8 1889.0,961.8 1890.0,961.8 1891.0,961.9 1892.0,962.0 1893.0,962.1 1893.3,962.1 1894.0,962.5 1895.0,964.0 1896.0,966.3 1896.3,967.1 1897.0,970.1 1898.0,976.6 1898.8,982.2 1899.0,983.6 1900.0,992.3 1901.0,998.7 1901.3,999.2 1902.0,998.6 1903.0,996.5 1904.0,993.9 1904.3,993.2 1905.0,991.4 1906.0,988.5 1907.0,985.6 1908.0,983.6 1908.3,983.2 1909.0,982.5 1910.0,981.6 1911.0,980.8 1912.0,980.2 1913.0,979.8 1914.0,979.6 1914.3,979.6 1915.0,979.7 1916.0,980.0 1917.0,980.4 1918.0,981.0 1918.3,981.2 1919.0,981.7 1920.0,982.9 1921.0,984.3 1922.0,985.9 1923.0,987.5 1923.4,988.2 1924.0,989.3 1925.0,991.4 1926.0,993.7 1927.0,995.6 1927.4,996.2 1928.0,997.0 1929.0,998.4 1930.0,999.5 1931.0,1000.1 1931.4,1000.2 1932.0,999.9 1933.0,998.4 1934.0,996.4 1935.0,994.6 1935.4,994.2 1936.0,993.7 1937.0,993.1 1938.0,992.5 1939.0,992.1 1940.0,991.6 1941.0,991.1 1942.0,990.5 1942.4,990.2 1943.0,989.7 1944.0,988.4 1945.0,987.0 1946.0,985.6 1947.0,984.4 1948.0,983.8 1948.4,983.7 1949.0,983.7 1950.0,983.9 1951.0,984.2 1952.0,984.5 1952.4,984.7 1953.0,985.3 1954.0,987.2 1955.0,989.5 1956.0,991.0 1956.4,991.2 1957.0,991.2 1958.0,990.9 1959.0,990.4 1959.4,990.2 1960.0,989.4 1961.0,986.5 1962.0,982.6 1963.0,978.7 1963.5,977.1 1964.0,975.7 1965.0,973.0 1966.0,970.4 1967.0,967.9 1968.0,965.4 1968.5,964.1 1969.0,962.9 1970.0,961.0 1971.0,958.8 1972.0,955.1 1973.0,943.4 1974.0,924.0" fill="none" stroke="#960088" stroke-width="4" stroke-linejoin="round" stroke-linecap="round" shape-rendering="crispEdges"/>
<polyline points="235.0,798.9 236.0,798.9 237.0,798.9 238.0,799.0 238.6,799.0 239.0,798.9 239.2,799.1 239.8,798.9 240.0,799.2 240.4,798.8 241.0,799.3 241.0,798.8 241.6,799.4 242.0,798.7 242.2,799.5 242.8,798.7 243.0,799.4 243.4,798.5 244.0,799.7 244.0,798.6 244.6,799.8 245.0,798.3 245.2,799.5 245.8,798.4 246.0,799.8 246.4,798.2 247.0,799.8 247.0,798.6 247.6,799.7 248.0,798.4 248.2,799.7 248.8,798.2 249.0,799.6 249.4,798.6 250.0,799.7 250.0,798.4 250.6,799.9 251.0,798.4 251.2,799.6 251.8,798.2 252.0,799.7 252.4,798.3 253.0,799.7 253.0,798.6 253.6,799.8 254.0,798.2 254.2,799.5 254.8,798.4 255.0,799.5 255.4,798.5 256.0,799.4 256.0,798.1 256.6,799.8 257.0,798.4 257.2,799.7 257.8,798.5 258.0,799.8 258.4,798.2 259.0,799.7 259.0,798.4 259.6,799.4 260.0,798.3 260.2,799.7 260.8,798.3 261.0,799.4 261.4,798.1 262.0,799.4 262.0,798.4 262.6,799.1 262.6,798.3 263.0,799.0 263.2,798.4 263.2,799.3 263.8,798.3 263.8,799.0 264.0,798.6 264.4,799.1 264.4,798.5 265.0,799.0 265.0,798.5 265.0,799.0 265.6,798.7 265.6,799.5 266.0,799.1 266.2,800.2 266.2,799.4 266.8,801.3 266.8,800.3 267.0,801.5 267.4,800.9 267.4,802.1 267.8,801.0 268.0,802.0 268.0,801.2 268.6,801.7 269.0,800.2 269.2,801.3 269.8,799.2 270.0,800.4 270.4,797.9 271.0,798.7 271.0,796.9 271.6,798.2 272.0,795.8 272.2,797.1 272.8,795.6 273.0,797.0 273.4,795.1 274.0,796.4 274.0,794.6 274.6,795.8 275.0,793.8 275.2,795.3 275.8,793.8 276.0,795.1 276.4,793.4 277.0,795.2 277.0,793.0 277.6,795.0 278.0,792.9 278.2,794.3 278.4,793.1 278.8,794.9 279.0,793.2 279.4,795.8 280.0,795.8 280.0,797.7 280.6,797.8 281.0,800.8 281.2,799.5 281.8,802.9 282.0,801.5 282.4,803.8 282.8,802.7 283.0,804.2 283.0,801.9 283.6,801.8 284.0,797.5 284.2,797.8 284.8,791.9 285.0,792.5 285.4,789.6 285.6,791.0 286.0,789.5 286.0,791.3 286.6,790.4 287.0,793.2 287.2,792.1 287.8,795.6 288.0,793.7 288.4,796.6 289.0,795.0 289.0,796.9 289.6,794.9 290.0,796.5 290.2,794.5 290.8,796.2 291.0,794.3 291.4,795.7 292.0,793.8 292.0,795.4 292.6,793.0 293.0,794.7 293.2,793.0 293.8,795.5 294.0,793.7 294.4,796.3 295.0,795.5 295.0,797.0 295.6,796.7 296.0,798.9 296.2,797.8 296.6,800.2 296.8,798.5 297.0,800.6 297.2,799.0 297.4,801.0 297.8,799.5 297.8,800.6 298.0,799.4 298.0,800.5 298.4,798.8 298.6,799.8 299.0,797.2 299.0,798.6 299.2,796.7 299.6,796.6 299.8,794.2 300.0,795.1 300.2,792.6 300.4,793.5 300.8,790.9 301.0,791.8 301.0,790.0 301.4,791.9 301.6,789.5 302.0,791.0 302.0,788.7 302.2,791.0 302.6,787.9 302.8,790.0 303.0,786.4 303.2,789.5 303.4,786.1 303.8,789.4 304.0,785.4 304.4,789.1 305.0,785.7 305.0,789.1 305.6,789.6 306.0,799.3 306.2,798.5 306.8,811.1 307.0,808.9 307.3,813.4 307.4,810.1 308.0,809.1 308.0,805.7 308.6,800.1 309.0,790.3 309.2,789.5 309.8,777.0 310.0,777.9 310.4,772.1 310.6,775.2 311.0,772.8 311.0,776.4 311.6,777.0 312.0,785.0 312.2,783.1 312.8,794.1 313.0,791.9 313.4,798.5 314.0,797.6 314.0,801.5 314.6,796.3 315.0,798.6 315.2,795.4 315.8,795.3 316.0,791.3 316.4,792.3 317.0,786.4 317.0,789.7 317.6,784.1 318.0,786.5 318.2,782.8 318.4,786.3 318.8,784.1 319.0,786.4 319.4,783.8 320.0,788.4 320.0,786.0 320.6,791.2 321.0,788.7 321.2,792.6 321.8,791.0 322.0,794.9 322.4,792.2 323.0,796.7 323.0,794.3 323.6,798.1 324.0,794.9 324.2,798.6 324.8,794.2 325.0,795.3 325.4,791.1 326.0,790.3 326.0,786.9 326.6,787.5 327.0,781.5 327.2,784.4 327.8,780.2 327.9,782.8 328.0,779.5 328.4,785.0 329.0,784.3 329.0,788.5 329.6,789.0 330.0,795.5 330.2,792.8 330.7,797.5 330.8,794.1 331.0,798.0 331.4,793.9 332.0,796.7 332.0,792.8 332.6,794.4 333.0,791.0 333.2,792.8 333.8,788.3 334.0,791.1 334.4,786.0 335.0,787.9 335.0,783.8 335.6,786.6 336.0,781.8 336.2,785.3 336.8,781.3 336.8,785.5 337.0,781.8 337.4,785.4 338.0,781.8 338.0,785.3 338.6,783.9 339.0,787.1 339.2,783.7 339.8,788.3 340.0,785.7 340.4,789.7 341.0,786.3 341.0,789.4 341.6,787.0 342.0,789.7 342.2,786.0 342.8,789.9 343.0,786.4 343.4,790.6 344.0,787.6 344.0,790.4 344.6,787.5 345.0,790.3 345.2,786.6 345.8,790.3 346.0,787.0 346.4,790.4 347.0,787.5 347.0,791.2 347.6,788.3 348.0,792.1 348.2,789.2 348.8,793.5 349.0,791.4 349.4,795.5 350.0,792.3 350.0,794.9 350.6,791.0 351.0,793.5 351.2,789.3 351.8,789.7 352.0,785.8 352.4,787.5 352.9,782.8 353.0,785.8 353.0,783.4 353.6,786.7 354.0,784.6 354.2,788.3 354.8,787.0 355.0,790.5 355.4,789.7 356.0,794.6 356.0,791.4 356.6,797.0 357.0,795.4 357.2,798.9 357.8,797.5 358.0,801.1 358.4,798.3 358.5,801.9 359.0,797.8 359.0,801.0 359.6,794.3 360.0,796.2 360.2,791.4 360.8,791.8 361.0,786.9 361.4,788.3 362.0,782.4 362.0,786.2 362.6,779.8 363.0,781.2 363.2,778.2 363.8,779.3 364.0,775.5 364.4,778.9 364.6,775.2 365.0,779.0 365.0,775.9 365.6,783.7 366.0,784.7 366.2,790.3 366.8,793.8 367.0,797.8 367.4,795.9 367.4,799.3 368.0,794.1 368.0,796.7 368.6,788.7 369.0,788.6 369.2,784.3 369.8,783.3 370.0,780.1 370.1,782.1 370.4,779.2 371.0,784.5 371.0,782.2 371.6,786.9 372.0,785.7 372.2,790.8 372.8,788.3 373.0,792.4 373.4,788.8 374.0,790.5 374.0,786.9 374.6,788.3 375.0,783.9 375.2,787.4 375.8,782.7 376.0,786.1 376.4,784.0 377.0,789.1 377.0,786.3 377.6,792.4 378.0,790.6 378.2,795.7 378.5,792.8 378.8,795.1 379.0,791.5 379.4,792.3 380.0,784.0 380.0,787.4 380.6,780.8 381.0,782.0 381.2,778.3 381.3,782.2 381.8,779.7 382.0,782.3 382.4,780.8 383.0,786.7 383.0,782.4 383.6,788.5 384.0,785.8 384.2,790.1 384.8,787.7 385.0,791.1 385.4,787.6 386.0,787.5 386.0,783.2 386.6,783.5 387.0,779.6 387.2,782.4 387.8,782.1 388.0,787.5 388.4,788.6 389.0,795.6 389.0,792.6 389.6,798.6 389.6,795.0 390.0,797.1 390.2,793.0 390.8,792.6 391.0,788.4 391.4,788.2 392.0,780.3 392.0,784.1 392.6,777.3 393.0,779.9 393.2,776.8 393.8,783.0 394.0,780.5 394.4,787.2 395.0,789.6 395.0,793.9 395.6,795.1 396.0,799.3 396.2,797.3 396.3,800.7 396.8,797.2 397.0,799.1 397.4,795.3 398.0,796.6 398.0,792.7 398.6,794.2 399.0,789.4 399.2,792.5 399.8,787.5 400.0,790.1 400.4,786.3 401.0,788.2 401.0,784.8 401.6,786.8 402.0,782.5 402.2,786.2 402.4,782.5 402.8,786.3 403.0,783.7 403.4,787.5 404.0,787.5 404.0,791.0 404.6,790.7 405.0,795.9 405.2,792.2 405.8,798.2 406.0,796.1 406.4,800.5 407.0,799.9 407.0,803.0 407.6,802.9 408.0,807.8 408.2,805.1 408.8,809.8 409.0,806.3 409.4,809.6 409.6,806.4 410.0,809.1 410.0,805.4 410.6,804.1 411.0,797.1 411.2,797.4 411.8,789.7 412.0,791.2 412.4,787.0 412.4,789.5 413.0,788.7 413.0,791.5 413.6,792.4 414.0,797.3 414.2,796.0 414.8,803.0 415.0,801.5 415.4,807.4 416.0,807.6 416.0,810.1 416.6,810.9 417.0,816.2 417.2,813.5 417.8,818.5 418.0,816.0 418.4,820.6 418.5,816.5 419.0,819.0 419.0,815.5 419.6,817.2 420.0,811.8 420.2,813.1 420.8,806.7 421.0,808.2 421.4,804.0 422.0,804.8 422.0,801.0 422.4,804.2 422.6,801.2 423.0,806.7 423.2,804.0 423.8,812.4 424.0,811.3 424.4,818.4 425.0,816.8 425.0,820.1 425.6,816.3 426.0,818.8 426.2,815.4 426.8,818.3 427.0,814.7 427.4,817.8 428.0,814.1 428.0,817.0 428.6,815.1 429.0,818.7 429.2,817.3 429.8,822.8 430.0,819.3 430.4,825.1 431.0,823.8 431.0,826.6 431.6,824.5 432.0,829.0 432.2,826.5 432.8,831.0 433.0,828.5 433.4,831.3 434.0,830.6 434.0,833.3 434.6,831.3 435.0,834.4 435.2,832.8 435.8,835.7 436.0,834.6 436.4,836.7 437.0,836.8 437.0,838.0 437.6,837.9 438.0,839.3 438.2,839.0 438.8,840.6 439.0,840.3 439.4,841.3 440.0,842.1 440.6,843.0 441.0,843.8 441.2,843.9 441.8,845.1 442.0,844.9 442.4,846.2 443.0,846.5 443.0,847.1 443.6,847.3 444.0,848.8 444.2,848.3 444.8,850.1 445.0,849.2 445.4,851.1 446.0,850.6 446.0,852.1 446.6,851.3 447.0,853.4 447.2,852.5 447.8,854.9 447.8,853.3 448.0,855.5 448.4,854.4 449.0,857.3 449.0,855.6 449.6,857.8 450.0,857.1 450.2,858.7 450.8,858.0 451.0,860.4 451.4,859.1 452.0,861.9 452.0,860.1 452.6,862.8 453.0,861.8 453.2,863.5 453.8,863.1 454.0,865.0 454.4,863.5 455.0,866.6 455.0,864.3 455.6,867.3 456.0,866.4 456.2,868.1 456.8,867.2 457.0,869.6 457.4,868.2 458.0,870.8 458.0,869.6 458.6,872.3 459.0,871.2 459.2,873.1 459.8,872.3 460.0,874.7 460.4,873.6 460.9,876.2 461.0,874.5 461.0,876.3 461.6,875.7 462.0,878.0 462.2,876.3 462.8,879.5 463.0,877.6 463.4,880.4 464.0,879.6 464.0,881.5 464.6,880.9 465.0,883.3 465.2,881.9 465.8,884.5 466.0,883.1 466.4,885.3 467.0,885.1 467.0,886.9 467.6,885.9 468.0,888.6 468.2,887.0 468.8,890.1 469.0,888.7 469.4,891.3 470.0,890.6 470.0,892.3 470.6,891.8 471.0,894.4 471.2,893.5 471.8,897.0 472.0,895.5 472.4,897.9 473.0,898.1 473.0,899.7 473.6,899.7 474.0,901.9 474.2,901.3 474.8,904.1 475.0,903.7 475.4,906.0 476.0,907.0 476.0,908.0 476.6,909.3 477.0,911.5 477.2,911.7 477.8,914.7 478.0,915.1 478.4,917.1 479.0,919.4 479.0,919.6 479.6,922.1 480.0,923.9 481.0,928.5 481.9,932.7 482.0,933.2 483.0,938.5 484.0,944.7 485.0,951.2 486.0,957.5 487.0,963.2 488.0,967.9 488.4,969.4 489.0,971.3 490.0,974.2 491.0,976.6 492.0,978.9 493.0,980.9 494.0,983.0 495.0,985.1 496.0,987.2 497.0,989.0 498.0,990.8 499.0,992.6 500.0,994.5 501.0,996.5 502.0,998.8 502.8,1000.8 503.0,1001.4 504.0,1004.4 505.0,1007.9 506.0,1011.9 507.0,1016.1 508.0,1020.7 509.0,1025.5 509.3,1027.0 510.0,1031.2 511.0,1038.8 512.0,1046.6 513.0,1052.7 513.8,1055.0 514.0,1055.2 515.0,1056.0 516.0,1056.5 517.0,1056.9 518.0,1057.2 519.0,1057.6 520.0,1058.0 521.0,1058.6 521.1,1058.7 522.0,1059.6 523.0,1060.9 524.0,1062.5 525.0,1064.3 526.0,1066.3 527.0,1068.5 528.0,1070.7 529.0,1072.8 530.0,1074.9 531.0,1076.9 532.0,1078.6 532.1,1078.8 533.0,1080.2 534.0,1081.7 535.0,1083.1 536.0,1084.4 537.0,1085.7 538.0,1087.0 539.0,1088.2 540.0,1089.5 541.0,1090.9 542.0,1092.3 543.0,1093.8 544.0,1095.4 545.0,1097.1 546.0,1099.0 547.0,1101.1 548.0,1103.3 549.0,1105.7 550.0,1108.1 551.0,1110.5 552.0,1112.9 552.3,1113.6 553.0,1115.2 554.0,1117.5 555.0,1119.8 556.0,1122.1 557.0,1124.5 558.0,1126.9 559.0,1129.3 560.0,1131.8 561.0,1134.3 561.5,1135.6 562.0,1137.0 563.0,1140.4 564.0,1144.2 565.0,1148.0 566.0,1151.5 567.0,1154.4 568.0,1156.2 568.8,1156.7 569.0,1156.7 570.0,1156.4 571.0,1155.6 572.0,1154.6 573.0,1153.3 574.0,1151.9 575.0,1150.5 576.0,1149.1 577.0,1147.8 578.0,1146.8 579.0,1146.0 579.8,1145.7 580.0,1145.7 581.0,1145.5 582.0,1145.3 583.0,1145.2 584.0,1145.1 585.0,1145.0 586.0,1144.9 587.0,1144.8 588.0,1144.8 589.0,1144.7 590.0,1144.6 591.0,1144.5 592.0,1144.4 593.0,1144.2 594.0,1144.0 594.5,1143.9 595.0,1143.8 596.0,1143.3 597.0,1142.7 598.0,1141.9 599.0,1140.9 600.0,1139.9 601.0,1138.7 601.2,1138.5 602.0,1137.4 603.0,1135.5 604.0,1133.3 605.0,1130.6 606.0,1127.8 607.0,1124.7 608.0,1121.5 609.0,1118.3 610.0,1115.2 611.0,1112.2 612.0,1109.3 612.8,1107.3 613.0,1106.8 614.0,1104.4 615.0,1102.0 616.0,1099.6 617.0,1097.3 618.0,1095.0 619.0,1092.7 620.0,1090.5 621.0,1088.3 622.0,1086.1 623.0,1084.0 624.0,1081.9 625.0,1079.9 626.0,1077.9 627.0,1076.0 627.5,1075.0 628.0,1074.1 629.0,1072.2 630.0,1070.5 631.0,1068.7 632.0,1067.0 633.0,1065.4 634.0,1063.8 635.0,1062.2 636.0,1060.6 637.0,1059.0 638.0,1057.5 639.0,1055.9 640.0,1054.3 641.0,1052.8 642.0,1051.2 643.0,1049.6 644.0,1048.0 645.0,1046.3 645.8,1045.0 646.0,1044.7 647.0,1043.0 648.0,1041.2 649.0,1039.5 650.0,1037.8 651.0,1036.0 652.0,1034.2 653.0,1032.5 654.0,1030.7 655.0,1029.0 656.0,1027.2 657.0,1025.4 658.0,1023.7 659.0,1021.9 660.0,1020.2 660.5,1019.3 661.0,1018.4 662.0,1016.7 663.0,1015.0 664.0,1013.3 665.0,1011.7 666.0,1010.0 667.0,1008.3 668.0,1006.6 669.0,1004.9 670.0,1003.2 671.0,1001.4 672.0,999.7 673.0,997.9 673.3,997.3 674.0,996.0 675.0,994.1 676.0,992.1 677.0,990.2 678.0,988.1 679.0,986.1 680.0,984.0 681.0,982.0 682.0,979.9 683.0,977.9 684.0,975.8 685.0,973.8 686.0,971.8 687.0,969.9 688.0,968.0 689.0,966.1 690.0,964.3 691.0,962.4 692.0,960.5 693.0,958.7 694.0,956.9 695.0,955.1 696.0,953.3 697.0,951.5 698.0,949.8 699.0,948.1 700.0,946.4 701.0,944.8 702.0,943.2 702.6,942.3 703.0,941.7 704.0,940.2 705.0,938.7 706.0,937.3 707.0,935.9 708.0,934.5 709.0,933.1 710.0,931.8 711.0,930.5 712.0,929.2 713.0,927.9 714.0,926.6 715.0,925.4 716.0,924.1 717.0,922.9 718.0,921.6 719.0,920.4 719.1,920.3 720.0,919.2 721.0,917.9 722.0,916.6 723.0,915.3 724.0,914.1 725.0,912.8 726.0,911.6 727.0,910.4 728.0,909.3 729.0,908.3 730.0,907.3 731.0,906.4 732.0,905.7 733.0,905.0 734.0,904.3 735.0,903.6 736.0,903.0 737.0,902.4 738.0,901.9 739.0,901.5 740.0,901.2 741.0,901.1 741.1,901.1 742.0,901.2 743.0,901.6 744.0,902.1 745.0,902.8 746.0,903.6 747.0,904.5 748.0,905.4 749.0,906.4 750.0,907.2 750.3,907.5 751.0,908.1 752.0,908.9 753.0,909.8 754.0,910.7 755.0,911.6 756.0,912.6 757.0,913.7 758.0,914.8 759.0,916.1 759.5,916.7 760.0,917.4 761.0,918.9 762.0,920.5 763.0,922.4 764.0,924.3 765.0,926.3 766.0,928.5 767.0,930.7 768.0,932.9 769.0,935.2 770.0,937.5 770.5,938.7 771.0,939.9 772.0,942.4 773.0,945.1 774.0,947.9 775.0,950.6 776.0,953.3 777.0,956.0 778.0,958.9 779.0,961.8 780.0,964.7 781.0,967.3 782.0,969.5 783.0,971.2 783.3,971.6 784.0,972.5 785.0,973.6 786.0,974.7 787.0,975.5 788.0,976.1 788.8,976.2 789.0,976.2 790.0,975.2 791.0,973.2 792.0,970.8 793.0,968.4 794.0,966.5 794.3,966.1 795.0,965.4 796.0,964.6 797.0,963.9 798.0,963.3 799.0,962.7 800.0,962.1 801.0,961.2 801.6,960.6 802.0,960.1 803.0,958.7 804.0,956.8 805.0,954.7 806.0,952.4 807.0,949.9 808.0,947.4 809.0,944.9 810.0,942.4 810.8,940.5 811.0,940.0 812.0,937.6 813.0,935.1 814.0,932.5 815.0,929.9 816.0,927.3 817.0,924.8 818.0,922.5 819.0,920.3 820.0,918.5 821.0,916.8 822.0,915.3 823.0,913.7 824.0,912.3 825.0,910.9 826.0,909.6 827.0,908.3 828.0,907.0 829.0,905.9 830.0,904.8 831.0,903.7 832.0,902.7 833.0,901.7 834.0,900.7 834.6,900.2 835.0,899.8 836.0,899.0 837.0,898.1 838.0,897.3 839.0,896.5 840.0,895.8 841.0,895.0 842.0,894.3 843.0,893.6 844.0,893.0 845.0,892.3 846.0,891.7 847.0,891.2 848.0,890.6 849.0,890.1 850.0,889.6 851.0,889.1 852.0,888.7 853.0,888.3 854.0,887.8 855.0,887.4 856.0,887.1 857.0,886.7 858.0,886.3 859.0,886.0 860.0,885.7 861.0,885.3 862.0,885.0 863.0,884.7 864.0,884.4 865.0,884.1 866.0,883.8 867.0,883.5 868.0,883.2 869.0,882.9 870.0,882.6 871.0,882.3 872.0,881.9 873.0,881.6 874.0,881.3 875.0,880.9 876.0,880.6 877.0,880.2 877.5,880.0 878.0,879.8 879.0,879.4 880.0,879.0 881.0,878.6 882.0,878.2 883.0,877.7 884.0,877.3 885.0,876.8 886.0,876.4 887.0,875.9 888.0,875.5 889.0,875.0 890.0,874.6 891.0,874.1 892.0,873.7 893.0,873.3 894.0,872.8 895.0,872.4 896.0,872.0 897.0,871.5 898.0,871.1 899.0,870.8 900.0,870.4 901.0,870.0 901.3,869.9 902.0,869.7 903.0,869.3 904.0,869.0 905.0,868.6 906.0,868.3 907.0,867.9 908.0,867.6 909.0,867.3 910.0,867.0 911.0,866.6 912.0,866.3 913.0,866.0 914.0,865.7 915.0,865.4 916.0,865.1 917.0,864.8 918.0,864.5 919.0,864.2 920.0,863.9 921.0,863.6 922.0,863.4 923.0,863.1 924.0,862.8 925.0,862.6 926.0,862.3 927.0,862.0 928.0,861.8 928.8,861.6 929.0,861.6 930.0,861.3 931.0,861.1 932.0,860.8 933.0,860.6 934.0,860.4 935.0,860.1 936.0,859.9 937.0,859.7 938.0,859.5 939.0,859.2 940.0,859.0 941.0,858.8 942.0,858.6 943.0,858.4 944.0,858.2 945.0,858.0 946.0,857.8 947.0,857.6 948.0,857.4 949.0,857.2 950.0,857.0 951.0,856.8 952.0,856.6 953.0,856.4 954.0,856.2 955.0,856.1 956.0,855.9 957.0,855.7 958.0,855.5 959.0,855.4 960.0,855.2 961.0,855.0 962.0,854.9 963.0,854.7 964.0,854.6 965.0,854.4 966.0,854.3 967.0,854.1 968.0,854.0 969.0,853.8 970.0,853.7 971.0,853.6 972.0,853.4 973.0,853.3 974.0,853.2 975.0,853.0 976.0,852.9 977.0,852.8 978.0,852.6 979.0,852.5 980.0,852.4 981.0,852.3 982.0,852.1 983.0,852.0 984.0,851.9 985.0,851.7 986.0,851.6 987.0,851.5 988.0,851.3 989.0,851.2 990.0,851.0 991.0,850.9 992.0,850.7 993.0,850.6 994.0,850.4 995.0,850.3 996.0,850.1 997.0,850.0 998.0,849.8 999.0,849.7 1000.0,849.5 1001.0,849.4 1002.0,849.2 1003.0,849.1 1004.0,848.9 1005.0,848.7 1006.0,848.6 1007.0,848.4 1008.0,848.2 1009.0,848.1 1010.0,847.9 1011.0,847.7 1012.0,847.5 1013.0,847.4 1014.0,847.2 1015.0,847.0 1016.0,846.8 1017.0,846.6 1018.0,846.4 1019.0,846.1 1020.0,845.9 1021.0,845.6 1022.0,845.3 1023.0,845.0 1024.0,844.7 1025.0,844.5 1026.0,844.2 1027.0,843.9 1028.0,843.6 1029.0,843.3 1030.0,843.1 1031.0,842.8 1032.0,842.6 1033.0,842.4 1034.0,842.2 1035.0,842.0 1036.0,841.8 1037.0,841.7 1038.0,841.6 1039.0,841.5 1040.0,841.5 1040.6,841.6 1041.0,841.4 1041.2,841.7 1041.8,841.6 1042.0,842.2 1042.4,842.0 1043.0,843.0 1043.0,842.3 1043.6,843.3 1044.0,843.2 1044.2,844.0 1044.8,843.7 1045.0,844.8 1045.4,844.2 1046.0,845.7 1046.0,844.6 1046.6,846.1 1047.0,845.4 1047.2,846.7 1047.8,845.3 1048.0,846.4 1048.4,845.5 1049.0,846.9 1049.0,844.9 1049.6,846.5 1050.0,845.1 1050.2,846.3 1050.8,844.8 1051.0,846.0 1051.4,844.4 1052.0,845.4 1052.0,843.9 1052.6,845.1 1053.0,844.0 1053.2,845.1 1053.8,843.4 1054.0,844.8 1054.4,843.2 1055.0,844.2 1055.0,843.0 1055.6,844.1 1056.0,842.5 1056.2,843.9 1056.8,842.2 1057.0,843.4 1057.4,841.9 1058.0,843.4 1058.0,841.9 1058.6,843.2 1058.9,841.5 1059.0,842.9 1059.2,841.7 1059.8,843.4 1060.0,841.9 1060.4,843.0 1061.0,841.8 1061.0,843.5 1061.6,841.8 1062.0,843.5 1062.2,842.3 1062.8,843.4 1063.0,842.4 1063.4,843.7 1064.0,842.6 1064.0,844.2 1064.6,842.8 1065.0,844.3 1065.2,842.8 1065.8,844.9 1066.0,843.3 1066.4,845.1 1067.0,843.5 1067.0,845.1 1067.6,843.8 1068.0,845.5 1068.2,844.3 1068.8,846.1 1069.0,844.7 1069.4,846.0 1070.0,844.6 1070.0,846.3 1070.6,845.0 1071.0,846.6 1071.2,845.2 1071.8,846.6 1072.0,845.2 1072.4,846.4 1073.0,845.5 1073.0,846.9 1073.6,845.5 1073.6,847.0 1074.0,845.3 1074.2,846.9 1074.8,844.8 1075.0,846.3 1075.4,844.4 1076.0,845.3 1076.0,844.1 1076.6,845.1 1077.0,843.0 1077.2,844.3 1077.8,842.6 1078.0,843.8 1078.4,841.5 1079.0,842.4 1079.0,840.9 1079.6,841.8 1080.0,840.4 1080.2,841.9 1080.8,840.1 1080.9,841.3 1081.0,839.6 1081.4,841.2 1082.0,839.1 1082.0,840.5 1082.6,839.1 1083.0,840.4 1083.2,839.1 1083.8,839.9 1084.0,838.7 1084.4,839.7 1085.0,838.6 1085.0,839.5 1085.6,838.5 1086.0,839.3 1086.2,838.5 1086.8,838.9 1087.0,838.3 1087.4,838.7 1088.0,838.0 1088.0,838.4 1088.6,837.9 1089.0,838.1 1089.2,837.8 1089.8,837.8 1090.0,837.7 1091.0,837.5 1092.0,837.3 1093.0,837.1 1094.0,836.9 1095.0,836.8 1096.0,836.6 1097.0,836.4 1098.0,836.3 1099.0,836.1 1100.0,836.0 1101.0,835.9 1102.0,835.7 1103.0,835.6 1104.0,835.5 1105.0,835.3 1106.0,835.2 1107.0,835.1 1108.0,834.9 1109.0,834.8 1110.0,834.7 1111.0,834.6 1112.0,834.4 1113.0,834.3 1114.0,834.2 1115.0,834.1 1116.0,834.0 1117.0,833.9 1118.0,833.8 1119.0,833.8 1120.0,833.7 1121.0,833.6 1122.0,833.5 1123.0,833.5 1124.0,833.4 1125.0,833.4 1126.0,833.4 1127.0,833.3 1128.0,833.3 1129.0,833.3 1129.5,833.3 1130.0,833.3 1131.0,833.5 1132.0,833.8 1133.0,834.3 1134.0,834.7 1135.0,835.3 1136.0,835.7 1137.0,836.1 1138.0,836.4 1139.0,836.6 1139.3,836.6 1140.0,836.6 1140.6,836.5 1141.0,836.7 1141.2,836.5 1141.8,836.8 1142.0,836.4 1142.4,836.8 1143.0,836.2 1143.0,836.9 1143.6,836.2 1144.0,836.8 1144.2,836.3 1144.8,836.9 1145.0,836.1 1145.4,837.0 1146.0,835.9 1146.0,837.1 1146.6,836.1 1147.0,837.1 1147.2,836.1 1147.8,837.3 1148.0,835.9 1148.4,837.6 1149.0,836.0 1149.0,837.1 1149.6,835.7 1150.0,837.6 1150.2,835.9 1150.8,837.1 1151.0,835.9 1151.4,837.1 1152.0,836.0 1152.0,837.3 1152.4,836.2 1152.6,837.2 1153.0,835.3 1153.2,836.1 1153.8,833.4 1154.0,833.9 1154.4,830.9 1155.0,830.6 1155.0,828.8 1155.6,828.3 1156.0,826.5 1156.2,827.3 1156.4,826.3 1156.8,827.7 1157.0,826.4 1157.4,827.5 1158.0,826.4 1158.0,827.7 1158.6,826.1 1159.0,827.8 1159.2,826.2 1159.8,827.6 1160.0,826.7 1160.4,827.7 1161.0,826.9 1161.0,827.9 1161.6,826.7 1162.0,828.6 1162.2,826.9 1162.8,828.5 1163.0,827.4 1163.4,828.9 1164.0,827.8 1164.0,828.9 1164.6,827.7 1165.0,829.4 1165.2,828.1 1165.8,829.5 1166.0,828.2 1166.4,829.8 1167.0,828.8 1167.0,830.2 1167.6,829.2 1168.0,830.8 1168.2,829.3 1168.7,831.0 1168.8,829.3 1169.0,830.7 1169.4,830.0 1170.0,831.4 1170.0,829.9 1170.6,831.6 1171.0,830.5 1171.2,832.1 1171.8,831.4 1172.0,832.6 1172.4,832.0 1173.0,833.7 1173.0,832.1 1173.6,833.8 1174.0,832.8 1174.2,834.6 1174.8,833.6 1175.0,835.1 1175.4,834.2 1176.0,836.0 1176.0,834.1 1176.6,835.8 1177.0,834.9 1177.2,836.1 1177.8,835.1 1178.0,836.4 1178.4,834.8 1178.5,836.6 1179.0,834.8 1179.0,836.7 1179.6,835.3 1180.0,836.6 1180.2,835.0 1180.8,836.2 1181.0,835.0 1181.4,836.5 1182.0,835.1 1182.0,836.5 1182.6,834.5 1183.0,836.5 1183.2,835.0 1183.8,836.0 1184.0,834.8 1184.4,835.7 1185.0,834.4 1185.0,835.8 1185.6,834.3 1186.0,835.9 1186.2,834.3 1186.8,835.7 1187.0,833.9 1187.4,835.7 1188.0,834.2 1188.0,835.2 1188.6,833.5 1189.0,835.3 1189.2,833.9 1189.8,835.2 1190.0,833.3 1190.4,835.0 1191.0,833.6 1191.0,834.9 1191.6,833.6 1192.0,834.6 1192.2,833.1 1192.8,834.6 1193.0,833.1 1193.4,834.4 1194.0,833.0 1194.0,834.0 1194.6,832.9 1195.0,834.3 1195.2,832.6 1195.8,833.9 1196.0,833.0 1196.4,834.3 1197.0,832.5 1197.0,833.8 1197.6,832.6 1198.0,833.8 1198.2,832.5 1198.2,834.2 1198.8,832.7 1199.0,834.2 1199.4,832.9 1200.0,834.0 1200.0,832.8 1200.6,834.2 1201.0,832.9 1201.2,834.6 1201.8,833.2 1202.0,834.3 1202.4,833.0 1203.0,834.8 1203.0,833.3 1203.6,834.9 1204.0,833.6 1204.2,835.3 1204.8,834.0 1205.0,835.3 1205.4,834.2 1206.0,835.6 1206.0,834.3 1206.6,835.7 1207.0,834.6 1207.2,835.8 1207.8,834.6 1208.0,835.9 1208.4,834.9 1209.0,836.0 1209.0,835.0 1209.6,836.2 1210.0,835.0 1210.2,836.3 1210.8,834.8 1211.0,836.6 1211.3,835.3 1211.4,836.8 1212.0,834.8 1212.0,836.2 1212.6,834.8 1213.0,836.4 1213.2,835.0 1213.8,835.6 1214.0,834.5 1214.4,835.6 1215.0,833.7 1215.0,834.9 1215.6,833.5 1216.0,834.1 1216.2,832.8 1216.8,833.6 1217.0,832.2 1217.4,833.4 1218.0,831.2 1218.0,832.5 1218.6,830.7 1219.0,831.7 1219.2,829.8 1219.8,830.8 1220.0,829.1 1220.4,830.4 1221.0,828.2 1221.0,829.8 1221.6,827.7 1222.0,828.8 1222.2,827.4 1222.8,828.2 1223.0,826.8 1223.4,827.8 1224.0,826.0 1224.0,827.3 1224.6,825.4 1225.0,826.6 1225.2,825.0 1225.8,826.6 1226.0,824.8 1226.4,826.1 1227.0,824.5 1227.0,825.7 1227.6,824.7 1227.6,826.1 1228.0,824.7 1228.2,825.8 1228.8,824.3 1229.0,826.3 1229.4,824.6 1230.0,825.9 1230.0,824.5 1230.6,826.5 1231.0,824.9 1231.2,826.5 1231.8,825.2 1232.0,826.7 1232.4,825.5 1233.0,827.0 1233.0,825.3 1233.6,826.9 1234.0,825.5 1234.2,827.0 1234.8,825.9 1235.0,827.1 1235.4,825.9 1236.0,827.8 1236.0,826.0 1236.6,827.6 1237.0,826.3 1237.2,828.1 1237.8,826.9 1238.0,828.1 1238.4,826.8 1239.0,828.5 1239.0,827.2 1239.6,828.5 1240.0,827.2 1240.2,828.8 1240.8,827.3 1241.0,829.0 1241.4,827.5 1242.0,829.0 1242.0,827.8 1242.6,829.2 1243.0,827.4 1243.2,829.2 1243.8,827.6 1244.0,829.1 1244.4,827.4 1245.0,829.1 1245.0,827.3 1245.6,828.4 1246.0,827.0 1246.2,828.2 1246.8,826.8 1247.0,827.7 1247.4,826.0 1248.0,826.7 1248.0,825.8 1248.6,826.5 1249.0,824.6 1249.2,825.8 1249.8,824.0 1250.0,824.7 1250.4,823.2 1251.0,824.1 1251.0,822.6 1251.6,823.4 1252.0,821.7 1252.2,822.6 1252.8,820.8 1253.0,822.0 1253.4,820.4 1254.0,821.3 1254.0,820.2 1254.6,820.9 1255.0,819.8 1255.2,821.1 1255.4,819.6 1255.8,821.0 1256.0,819.4 1256.4,821.2 1257.0,819.4 1257.0,820.8 1257.6,819.2 1258.0,820.3 1258.2,819.4 1258.8,820.4 1259.0,819.3 1259.4,820.1 1260.0,819.4 1260.0,820.4 1260.6,819.4 1261.0,820.1 1261.2,819.3 1261.8,819.8 1262.0,819.4 1262.4,819.8 1263.0,819.4 1263.0,819.6 1263.6,819.3 1264.0,819.5 1264.2,819.4 1264.8,819.4 1265.0,819.4 1266.0,819.3 1267.0,819.3 1268.0,819.2 1269.0,819.2 1270.0,819.1 1271.0,819.1 1272.0,819.1 1273.0,819.0 1274.0,819.0 1275.0,818.9 1276.0,818.9 1277.0,818.8 1278.0,818.7 1279.0,818.7 1280.0,818.6 1281.0,818.5 1282.0,818.4 1283.0,818.3 1284.0,818.2 1285.0,818.1 1285.6,818.0 1286.0,818.2 1286.2,817.8 1286.8,818.2 1287.0,817.7 1287.4,818.1 1288.0,817.3 1288.0,818.4 1288.6,817.3 1289.0,818.3 1289.2,817.0 1289.8,818.4 1290.0,816.8 1290.4,818.5 1291.0,816.5 1291.0,818.5 1291.6,816.6 1292.0,818.7 1292.2,815.8 1292.8,818.5 1293.0,816.3 1293.4,818.0 1294.0,815.7 1294.0,818.7 1294.6,816.3 1295.0,818.1 1295.2,816.1 1295.8,818.1 1296.0,816.0 1296.4,817.7 1297.0,815.5 1297.0,817.6 1297.6,816.0 1298.0,818.0 1298.2,815.4 1298.8,818.2 1299.0,815.4 1299.4,817.9 1300.0,815.0 1300.0,818.3 1300.6,815.0 1301.0,818.2 1301.2,815.5 1301.8,817.7 1302.0,815.5 1302.4,817.5 1303.0,815.5 1303.0,817.2 1303.6,815.3 1304.0,817.8 1304.2,815.0 1304.5,817.8 1304.8,815.6 1305.0,817.7 1305.4,815.3 1306.0,817.5 1306.0,815.1 1306.6,817.5 1307.0,815.7 1307.2,818.4 1307.8,815.4 1308.0,818.4 1308.4,815.9 1309.0,818.5 1309.0,816.1 1309.6,818.3 1310.0,816.0 1310.2,818.7 1310.8,816.5 1311.0,819.0 1311.4,816.6 1312.0,819.0 1312.0,816.5 1312.6,818.3 1313.0,815.9 1313.1,818.6 1313.2,816.0 1313.8,818.5 1314.0,816.6 1314.4,818.4 1315.0,816.2 1315.0,819.1 1315.6,816.3 1316.0,818.5 1316.2,816.6 1316.8,818.4 1317.0,816.2 1317.4,818.2 1318.0,815.8 1318.0,818.6 1318.6,816.1 1319.0,818.0 1319.2,815.7 1319.8,818.4 1320.0,815.5 1320.4,817.5 1321.0,815.0 1321.0,817.6 1321.6,815.2 1322.0,818.1 1322.2,815.8 1322.8,817.8 1323.0,814.9 1323.4,817.7 1324.0,815.0 1324.0,817.2 1324.6,814.6 1325.0,816.9 1325.2,814.6 1325.8,817.7 1326.0,814.6 1326.2,816.9 1326.4,814.6 1327.0,817.7 1327.0,814.7 1327.6,817.2 1328.0,815.3 1328.2,817.0 1328.8,814.8 1329.0,817.8 1329.4,815.5 1330.0,817.1 1330.0,815.3 1330.6,817.2 1331.0,815.2 1331.2,817.8 1331.8,814.9 1332.0,817.3 1332.4,815.4 1333.0,817.3 1333.0,815.5 1333.6,817.4 1334.0,815.8 1334.2,817.6 1334.8,815.8 1335.0,817.4 1335.4,815.9 1336.0,818.0 1336.0,815.9 1336.6,817.6 1337.0,815.2 1337.2,817.8 1337.8,815.9 1338.0,818.5 1338.4,815.1 1339.0,818.0 1339.0,815.8 1339.3,818.3 1339.6,815.2 1340.0,817.9 1340.2,815.3 1340.8,818.4 1341.0,816.1 1341.4,818.4 1342.0,816.0 1342.0,817.8 1342.6,815.1 1343.0,818.3 1343.2,815.8 1343.8,817.7 1344.0,815.2 1344.4,818.2 1345.0,815.1 1345.0,817.7 1345.6,814.9 1346.0,817.6 1346.2,815.4 1346.8,818.1 1347.0,815.5 1347.4,817.1 1348.0,815.4 1348.0,817.8 1348.6,815.1 1349.0,817.0 1349.2,815.4 1349.8,817.8 1350.0,814.7 1350.4,817.4 1351.0,815.3 1351.0,817.5 1351.6,815.5 1352.0,817.3 1352.2,814.8 1352.4,817.7 1352.8,815.3 1353.0,817.0 1353.4,815.4 1354.0,818.1 1354.0,815.7 1354.6,818.3 1355.0,816.9 1355.2,819.3 1355.8,818.0 1356.0,820.2 1356.4,818.9 1357.0,821.6 1357.0,819.3 1357.6,822.8 1358.0,820.1 1358.2,822.6 1358.8,821.6 1358.9,823.5 1359.0,821.8 1359.4,824.2 1360.0,823.1 1360.0,824.8 1360.6,823.5 1361.0,826.5 1361.2,823.8 1361.8,827.1 1362.0,825.3 1362.4,828.1 1363.0,826.5 1363.0,828.9 1363.6,826.3 1364.0,829.1 1364.2,827.8 1364.8,830.4 1365.0,828.0 1365.4,830.9 1366.0,828.9 1366.0,831.8 1366.6,830.1 1367.0,832.4 1367.2,830.5 1367.8,833.4 1368.0,830.3 1368.1,833.2 1368.4,831.0 1369.0,833.8 1369.0,831.7 1369.6,834.1 1370.0,832.2 1370.2,834.2 1370.8,832.4 1371.0,835.1 1371.4,832.9 1372.0,835.2 1372.0,833.1 1372.6,835.6 1373.0,833.8 1373.2,836.0 1373.8,834.0 1374.0,836.2 1374.4,833.5 1375.0,836.7 1375.0,834.3 1375.6,836.6 1375.9,834.0 1376.0,835.9 1376.2,834.4 1376.8,835.7 1377.0,833.9 1377.4,835.6 1378.0,832.9 1378.0,835.3 1378.6,832.5 1379.0,834.7 1379.2,831.5 1379.8,834.1 1380.0,831.0 1380.4,833.3 1381.0,830.7 1381.0,832.7 1381.2,830.7 1381.6,832.8 1382.0,830.2 1382.2,833.5 1382.8,831.0 1383.0,833.2 1383.4,830.5 1384.0,833.3 1384.0,830.6 1384.6,833.1 1385.0,830.3 1385.2,833.0 1385.8,831.2 1386.0,833.4 1386.4,830.4 1387.0,832.6 1387.0,830.8 1387.6,833.2 1388.0,831.0 1388.2,833.4 1388.8,831.1 1389.0,833.1 1389.4,830.4 1390.0,834.0 1390.0,831.7 1390.6,834.2 1391.0,833.2 1391.2,835.4 1391.8,833.8 1392.0,836.6 1392.4,835.7 1393.0,839.0 1393.0,836.7 1393.6,839.9 1394.0,838.1 1394.2,840.5 1394.2,838.3 1394.8,841.5 1395.0,839.2 1395.4,842.3 1396.0,840.3 1396.0,842.4 1396.6,840.4 1397.0,843.2 1397.2,841.1 1397.8,844.0 1398.0,841.9 1398.4,844.6 1399.0,842.8 1399.0,845.2 1399.6,842.6 1400.0,845.2 1400.2,843.0 1400.8,846.5 1401.0,844.0 1401.4,846.9 1402.0,845.5 1402.0,847.4 1402.1,844.6 1402.6,847.7 1403.0,846.6 1403.2,849.4 1403.8,848.2 1404.0,850.3 1404.4,849.4 1405.0,853.5 1405.0,850.4 1405.6,854.9 1406.0,853.4 1406.2,855.5 1406.8,854.1 1407.0,857.8 1407.4,855.6 1408.0,858.3 1408.0,856.3 1408.6,859.7 1408.6,857.0 1409.0,859.9 1409.2,857.7 1409.8,860.2 1410.0,858.1 1410.4,860.7 1411.0,858.2 1411.0,860.8 1411.6,858.9 1412.0,861.1 1412.2,859.1 1412.8,861.2 1413.0,858.9 1413.4,861.7 1414.0,859.3 1414.0,861.2 1414.6,859.2 1415.0,861.3 1415.2,859.8 1415.8,861.9 1416.0,859.5 1416.4,861.5 1416.5,859.9 1417.0,862.1 1417.0,859.3 1417.6,861.5 1418.0,858.7 1418.2,861.0 1418.8,858.3 1419.0,860.4 1419.4,857.7 1420.0,860.1 1420.0,857.8 1420.6,859.1 1421.0,857.1 1421.2,858.8 1421.8,855.7 1422.0,858.3 1422.4,855.5 1423.0,857.0 1423.0,854.6 1423.6,856.7 1424.0,854.6 1424.2,856.9 1424.3,854.1 1424.8,856.3 1425.0,854.1 1425.4,856.6 1426.0,853.5 1426.0,855.5 1426.6,853.5 1427.0,856.0 1427.2,853.5 1427.8,855.3 1428.0,853.3 1428.4,855.4 1429.0,852.7 1429.0,855.2 1429.6,852.1 1430.0,854.8 1430.2,852.8 1430.8,854.5 1430.9,852.4 1431.0,855.0 1431.4,852.6 1432.0,854.4 1432.0,852.6 1432.6,854.7 1433.0,852.0 1433.2,855.1 1433.8,852.2 1434.0,855.0 1434.4,851.9 1435.0,854.8 1435.0,851.9 1435.6,854.7 1436.0,852.3 1436.2,854.7 1436.8,852.7 1437.0,854.3 1437.4,852.1 1438.0,854.2 1438.0,852.3 1438.6,855.2 1439.0,852.4 1439.2,854.9 1439.8,852.4 1440.0,854.5 1440.4,852.1 1441.0,855.0 1441.0,852.6 1441.6,854.9 1442.0,852.5 1442.2,854.2 1442.8,852.4 1443.0,854.9 1443.4,852.4 1444.0,854.9 1444.0,852.1 1444.6,854.6 1445.0,852.0 1445.2,854.3 1445.8,851.3 1446.0,854.3 1446.4,851.9 1447.0,853.8 1447.0,850.7 1447.6,853.3 1448.0,850.2 1448.2,851.9 1448.8,849.2 1449.0,851.5 1449.4,848.9 1450.0,850.3 1450.0,847.7 1450.5,850.0 1450.6,847.9 1451.0,849.6 1451.2,846.5 1451.8,848.7 1452.0,845.4 1452.4,848.0 1453.0,843.8 1453.0,846.9 1453.6,842.8 1454.0,844.8 1454.2,841.9 1454.8,843.4 1455.0,840.7 1455.4,842.6 1456.0,839.3 1456.0,841.6 1456.6,838.4 1457.0,839.6 1457.1,837.2 1457.2,839.7 1457.8,836.1 1458.0,838.2 1458.4,835.1 1459.0,837.4 1459.0,834.7 1459.6,836.3 1460.0,832.8 1460.2,835.5 1460.8,831.9 1461.0,833.9 1461.4,831.9 1462.0,833.6 1462.0,830.8 1462.6,832.5 1463.0,829.7 1463.2,831.6 1463.8,828.8 1464.0,831.5 1464.4,827.7 1465.0,829.7 1465.0,827.6 1465.6,829.6 1466.0,827.3 1466.2,828.9 1466.2,827.0 1466.8,828.5 1467.0,826.0 1467.4,828.9 1468.0,825.7 1468.0,828.7 1468.6,825.1 1469.0,827.5 1469.2,825.2 1469.8,827.2 1470.0,824.9 1470.4,827.2 1471.0,824.5 1471.0,827.4 1471.6,824.0 1472.0,826.4 1472.2,824.6 1472.8,826.5 1473.0,824.0 1473.4,826.2 1474.0,823.5 1474.0,825.5 1474.6,823.5 1475.0,825.2 1475.2,822.6 1475.4,825.0 1475.8,822.1 1476.0,825.1 1476.4,821.8 1477.0,824.1 1477.0,821.8 1477.6,823.2 1478.0,820.9 1478.2,823.6 1478.8,820.7 1479.0,822.5 1479.4,819.5 1480.0,822.1 1480.0,819.2 1480.6,821.2 1481.0,818.9 1481.2,820.7 1481.8,818.6 1482.0,820.7 1482.4,818.1 1483.0,820.5 1483.0,817.5 1483.5,819.7 1483.6,818.0 1484.0,820.3 1484.2,817.9 1484.8,820.6 1485.0,817.7 1485.4,820.4 1486.0,818.7 1486.0,820.7 1486.6,819.2 1487.0,821.9 1487.2,820.2 1487.8,822.5 1488.0,820.2 1488.4,823.4 1489.0,821.7 1489.0,824.0 1489.6,822.1 1490.0,824.8 1490.2,823.1 1490.8,825.8 1491.0,823.9 1491.4,827.0 1491.5,825.1 1492.0,827.8 1492.0,825.4 1492.6,829.3 1493.0,827.4 1493.2,830.5 1493.8,829.8 1494.0,831.7 1494.4,831.2 1495.0,834.1 1495.0,833.1 1495.6,835.9 1496.0,835.4 1496.2,837.4 1496.8,837.9 1497.0,839.3 1497.3,838.8 1497.4,839.9 1498.0,840.5 1498.0,841.1 1498.6,841.9 1499.0,843.1 1499.2,843.3 1499.8,844.7 1500.0,845.1 1501.0,847.2 1502.0,849.3 1503.0,851.2 1504.0,853.1 1505.0,854.8 1505.1,855.0 1506.0,856.4 1507.0,857.9 1508.0,859.3 1509.0,860.6 1510.0,861.9 1511.0,863.2 1512.0,864.5 1513.0,866.0 1514.0,867.7 1515.0,869.7 1516.0,871.9 1517.0,874.1 1518.0,876.3 1519.0,878.2 1520.0,879.8 1521.0,881.0 1522.0,881.6 1522.4,881.7 1523.0,881.4 1524.0,880.0 1525.0,877.8 1526.0,875.6 1527.0,873.9 1527.1,873.8 1528.0,872.9 1529.0,872.0 1530.0,871.1 1531.0,870.4 1532.0,869.8 1533.0,869.3 1533.4,869.1 1534.0,868.9 1535.0,868.5 1536.0,868.2 1537.0,867.9 1538.0,867.7 1539.0,867.5 1539.7,867.5 1540.0,867.5 1541.0,868.3 1542.0,869.9 1543.0,872.0 1544.0,874.4 1544.4,875.4 1545.0,877.5 1546.0,883.0 1547.0,889.4 1548.0,895.2 1549.0,898.7 1549.1,898.9 1550.0,900.1 1551.0,901.1 1552.0,901.8 1553.0,902.1 1554.0,901.5 1555.0,900.0 1556.0,897.8 1557.0,895.2 1558.0,892.5 1559.0,890.0 1560.0,888.0 1561.0,886.7 1561.7,886.4 1562.0,886.5 1563.0,887.8 1564.0,890.2 1565.0,893.1 1566.0,895.9 1567.0,898.1 1568.0,898.9 1569.0,898.2 1570.0,896.5 1571.0,894.5 1572.0,893.1 1572.7,892.7 1573.0,892.8 1574.0,894.9 1575.0,898.8 1576.0,903.4 1577.0,907.9 1578.0,911.2 1578.9,912.3 1579.0,912.3 1580.0,910.7 1581.0,907.1 1582.0,902.4 1583.0,897.4 1583.7,894.2 1584.0,892.9 1585.0,887.6 1586.0,881.8 1587.0,876.6 1588.0,873.0 1588.4,872.2 1589.0,871.4 1590.0,870.3 1591.0,869.3 1592.0,868.5 1593.0,867.9 1594.0,867.6 1594.7,867.5 1595.0,867.6 1596.0,869.0 1597.0,870.8 1597.8,871.5 1598.0,871.5 1599.0,870.6 1600.0,869.0 1601.0,867.0 1602.0,865.1 1602.5,864.4 1603.0,863.8 1604.0,862.5 1605.0,861.2 1606.0,859.9 1607.0,858.8 1608.0,857.8 1609.0,857.0 1610.0,856.6 1610.4,856.5 1611.0,856.4 1612.0,856.3 1613.0,856.3 1614.0,856.2 1615.0,856.2 1616.0,856.1 1617.0,856.1 1618.0,856.0 1619.0,855.9 1619.8,855.8 1620.0,855.7 1621.0,854.9 1622.0,853.3 1623.0,851.2 1624.0,848.8 1625.0,846.4 1626.0,844.2 1627.0,842.6 1628.0,841.7 1628.4,841.6 1629.0,842.3 1630.0,845.6 1631.0,850.2 1632.0,854.4 1633.0,856.5 1633.1,856.5 1634.0,856.3 1635.0,855.6 1636.0,854.6 1637.0,853.5 1637.1,853.4 1638.0,851.8 1639.0,849.0 1640.0,845.7 1641.0,842.5 1642.0,839.9 1643.0,838.6 1643.3,838.5 1644.0,838.7 1645.0,839.5 1646.0,840.9 1647.0,842.8 1648.0,845.2 1648.1,845.5 1649.0,851.0 1650.0,861.8 1651.0,873.4 1651.2,875.4 1652.0,884.3 1653.0,897.3 1654.0,909.9 1655.0,919.9 1656.0,924.8 1656.2,925.0 1657.0,923.6 1658.0,919.0 1659.0,912.5 1660.0,905.7 1661.0,900.1 1661.2,899.3 1662.0,896.1 1663.0,892.1 1664.0,888.3 1665.0,885.2 1666.0,883.2 1666.7,882.8 1667.0,882.9 1668.0,884.5 1669.0,887.8 1670.0,892.1 1671.0,897.2 1671.4,899.3 1672.0,903.2 1673.0,912.1 1674.0,923.1 1675.0,935.0 1675.3,938.5 1676.0,948.1 1677.0,964.3 1678.0,978.2 1678.5,982.5 1679.0,985.6 1680.0,991.0 1681.0,994.5 1681.6,995.1 1682.0,995.1 1683.0,995.1 1684.0,995.1 1685.0,995.1 1686.0,995.1 1687.0,995.1 1688.0,995.1 1689.0,995.1 1690.0,995.1 1691.0,995.1 1691.8,995.1 1692.0,995.2 1693.0,996.8 1694.0,1000.1 1695.0,1004.3 1696.0,1008.8 1696.5,1010.8 1697.0,1012.7 1698.0,1016.3 1699.0,1020.2 1700.0,1024.8 1701.0,1030.7 1701.3,1032.8 1702.0,1039.5 1703.0,1053.8 1703.6,1064.2 1704.0,1073.5 1704.4,1083.6 1705.0,1098.0 1705.5,1107.1 1706.0,1113.0 1707.0,1120.0 1707.1,1120.1 1708.0,1120.0 1709.0,1119.5 1710.0,1118.9 1711.0,1115.4 1712.0,1108.2 1713.0,1100.1 1714.0,1093.7 1714.8,1091.8 1715.0,1091.9 1716.0,1095.1 1717.0,1100.7 1717.7,1104.8 1718.0,1106.7 1719.0,1115.1 1720.0,1122.6 1720.6,1124.2 1721.0,1124.0 1722.0,1122.3 1723.0,1119.3 1724.0,1116.0 1724.2,1115.4 1725.0,1112.6 1726.0,1108.4 1727.0,1103.8 1728.0,1099.1 1728.9,1095.3 1729.0,1094.9 1730.0,1090.5 1731.0,1086.1 1732.0,1083.0 1732.4,1082.4 1733.0,1081.9 1734.0,1081.4 1735.0,1081.1 1736.0,1080.7 1737.0,1080.1 1737.1,1080.0 1738.0,1078.9 1739.0,1076.8 1740.0,1074.1 1740.7,1071.8 1741.0,1070.6 1742.0,1064.8 1743.0,1057.3 1743.3,1055.0 1744.0,1048.9 1745.0,1038.3 1746.0,1026.7 1747.0,1015.1 1748.0,1004.9 1748.4,1001.4 1749.0,996.6 1750.0,989.3 1751.0,982.6 1752.0,976.4 1753.0,970.5 1753.1,969.9 1754.0,964.8 1755.0,959.2 1756.0,953.9 1757.0,948.9 1758.0,944.3 1759.0,940.0 1759.4,938.5 1760.0,936.3 1761.0,933.0 1762.0,929.9 1763.0,927.0 1764.0,924.2 1765.0,921.4 1765.6,919.7 1766.0,918.5 1767.0,915.5 1768.0,912.5 1769.0,909.5 1770.0,906.7 1771.0,904.2 1771.9,902.4 1772.0,902.2 1773.0,900.4 1774.0,898.5 1775.0,896.7 1776.0,895.1 1777.0,893.7 1778.0,892.6 1779.0,892.0 1779.8,891.8 1780.0,891.8 1781.0,892.5 1782.0,894.0 1783.0,895.9 1784.0,898.1 1785.0,900.3 1786.0,902.2 1787.0,903.5 1788.0,904.0 1789.0,902.4 1790.0,898.4 1791.0,893.3 1792.0,888.5 1792.5,886.5 1793.0,884.7 1794.0,881.0 1795.0,877.4 1796.0,873.9 1797.0,870.8 1798.0,868.4 1798.8,867.0 1799.0,866.7 1800.0,865.5 1801.0,864.4 1802.0,863.5 1803.0,862.6 1804.0,861.8 1805.0,861.1 1806.0,860.5 1807.0,859.9 1808.0,859.4 1809.0,858.9 1809.3,858.8 1810.0,858.5 1811.0,858.0 1812.0,857.6 1813.0,857.3 1814.0,856.9 1815.0,856.6 1816.0,856.2 1817.0,855.9 1818.0,855.7 1819.0,855.4 1820.0,855.1 1821.0,854.9 1821.9,854.7 1822.0,854.7 1823.0,854.4 1824.0,854.2 1825.0,854.0 1826.0,853.8 1827.0,853.5 1828.0,853.3 1829.0,853.1 1830.0,852.9 1831.0,852.7 1832.0,852.5 1833.0,852.4 1834.0,852.2 1835.0,852.1 1836.0,852.0 1837.0,851.9 1838.0,851.9 1838.6,851.9 1839.0,851.9 1840.0,851.9 1841.0,852.0 1842.0,852.1 1843.0,852.1 1844.0,852.3 1845.0,852.4 1846.0,852.6 1847.0,852.7 1848.0,852.9 1849.0,853.1 1850.0,853.4 1851.0,853.6 1852.0,853.8 1853.0,854.1 1854.0,854.3 1855.0,854.6 1855.4,854.7 1856.0,854.9 1857.0,855.2 1858.0,855.6 1859.0,856.0 1860.0,856.5 1861.0,857.0 1862.0,857.5 1863.0,858.2 1864.0,858.8 1865.0,859.5 1866.0,860.3 1867.0,861.1 1868.0,862.0 1869.0,863.1 1870.0,864.7 1871.0,866.6 1872.0,868.7 1873.0,870.9 1874.0,873.1 1875.0,875.3 1876.0,877.3 1877.0,879.0 1878.0,880.4 1878.4,880.8 1879.0,881.4 1880.0,882.3 1881.0,883.2 1882.0,884.0 1883.0,884.6 1884.0,884.9 1884.7,885.0 1885.0,885.0 1886.0,885.0 1887.0,885.0 1888.0,885.0 1889.0,885.0 1890.0,885.0 1891.0,885.0 1892.0,885.0 1893.0,885.0 1893.1,885.0 1894.0,885.8 1895.0,888.1 1896.0,891.2 1897.0,894.6 1897.3,895.5 1898.0,898.1 1899.0,903.1 1900.0,908.5 1901.0,913.1 1902.0,916.0 1902.5,916.4 1903.0,916.3 1904.0,915.9 1905.0,915.0 1906.0,913.9 1907.0,912.5 1908.0,911.0 1909.0,909.5 1910.0,908.1 1911.0,906.8 1912.0,905.8 1913.0,905.1 1914.0,904.9 1915.0,905.0 1916.0,905.3 1917.0,905.8 1918.0,906.5 1919.0,907.2 1920.0,908.0 1921.0,908.9 1922.0,909.8 1922.4,910.2 1923.0,910.9 1924.0,912.4 1925.0,914.4 1926.0,916.6 1927.0,918.8 1928.0,920.8 1929.0,922.5 1930.0,923.5 1930.8,923.8 1931.0,923.8 1932.0,923.5 1933.0,922.9 1934.0,922.0 1935.0,920.9 1936.0,919.8 1937.0,918.6 1938.0,917.5 1939.0,916.6 1939.2,916.4 1940.0,915.7 1941.0,914.9 1942.0,913.9 1943.0,913.0 1944.0,912.1 1945.0,911.2 1946.0,910.5 1947.0,909.9 1948.0,909.4 1949.0,909.1 1949.6,909.1 1950.0,909.2 1951.0,909.8 1952.0,910.9 1953.0,912.3 1954.0,913.8 1955.0,915.1 1956.0,916.0 1957.0,916.4 1958.0,915.7 1959.0,913.8 1960.0,911.0 1961.0,907.7 1962.0,904.3 1963.0,901.0 1964.0,898.3 1964.3,897.6 1965.0,896.3 1966.0,894.9 1967.0,893.8 1968.0,892.7 1969.0,891.3 1970.0,889.5 1971.0,887.0 1971.6,885.0 1972.0,882.2 1973.0,866.7 1973.7,853.6" fill="none" stroke="#FFC0FF" stroke-width="4" stroke-linejoin="round" stroke-linecap="round" shape-rendering="crispEdges"/>
<polyline points="235.0,715.4 236.0,715.4 237.0,715.4 238.0,715.4 238.6,715.4 239.0,715.3 239.2,715.5 239.8,715.3 240.0,715.5 240.4,715.2 241.0,715.6 241.0,715.2 241.6,715.7 242.0,715.2 242.2,715.7 242.8,715.0 243.0,715.8 243.4,714.9 244.0,716.0 244.0,714.7 244.6,715.8 245.0,714.8 245.2,716.1 245.8,714.9 246.0,715.8 246.4,714.5 247.0,715.9 247.0,714.9 247.6,716.2 248.0,714.7 248.2,716.0 248.8,714.6 249.0,715.8 249.4,714.7 250.0,716.0 250.0,715.0 250.6,716.1 251.0,714.5 251.2,715.9 251.8,714.7 252.0,715.9 252.4,714.6 253.0,716.1 253.0,714.9 253.6,716.1 254.0,714.6 254.2,716.0 254.8,714.5 255.0,715.9 255.4,714.5 256.0,716.0 256.0,714.8 256.6,716.0 257.0,714.6 257.2,715.8 257.8,714.7 258.0,715.8 258.4,714.6 259.0,715.9 259.0,714.5 259.6,715.7 260.0,714.4 260.2,715.7 260.8,714.5 261.0,715.4 261.4,714.3 262.0,715.5 262.0,714.4 262.6,715.5 262.6,714.6 263.0,715.4 263.2,714.6 263.2,715.4 263.8,714.5 263.8,715.2 264.0,714.4 264.4,715.2 264.4,714.5 265.0,715.0 265.0,714.6 265.0,715.1 265.6,715.0 265.6,715.5 266.0,715.3 266.2,716.5 266.2,715.8 266.8,717.8 266.8,716.6 267.0,718.3 267.4,717.4 267.4,718.5 267.8,717.6 268.0,719.0 268.0,717.9 268.6,718.6 269.0,716.6 269.2,717.8 269.8,715.0 270.0,716.5 270.4,713.9 271.0,714.5 271.0,713.0 271.6,713.6 272.0,711.7 272.2,713.0 272.8,710.8 273.0,712.6 273.4,710.5 274.0,711.3 274.0,709.9 274.6,711.0 275.0,709.1 275.2,710.7 275.8,708.9 276.0,710.7 276.4,708.6 277.0,709.9 277.0,708.4 277.6,709.8 278.0,708.4 278.2,709.8 278.4,707.8 278.8,710.1 279.0,708.5 279.4,711.6 280.0,711.2 280.0,713.3 280.6,713.5 281.0,717.2 281.2,716.2 281.8,719.6 282.0,718.5 282.4,720.7 282.8,719.4 283.0,720.7 283.0,719.1 283.6,718.1 284.0,713.7 284.2,713.4 284.8,707.2 285.0,707.7 285.4,704.6 285.6,705.5 286.0,704.3 286.0,705.9 286.6,705.4 287.0,708.1 287.2,707.4 287.8,710.9 288.0,709.6 288.4,711.7 289.0,711.0 289.0,712.4 289.6,710.9 290.0,712.1 290.2,710.0 290.8,711.1 291.0,709.6 291.4,710.9 292.0,708.4 292.0,710.7 292.6,708.6 293.0,709.9 293.2,708.0 293.8,710.1 294.0,709.0 294.4,711.2 295.0,710.8 295.0,713.0 295.6,712.4 296.0,714.6 296.2,714.0 296.6,716.0 296.8,714.7 297.0,716.5 297.2,715.3 297.4,717.0 297.8,716.0 297.8,717.2 298.0,715.9 298.0,716.9 298.4,714.9 298.6,715.7 299.0,712.9 299.0,714.2 299.2,712.3 299.6,711.6 299.8,709.0 300.0,710.0 300.2,707.1 300.4,708.0 300.8,705.4 301.0,707.0 301.0,704.6 301.4,706.1 301.6,703.3 302.0,705.4 302.0,702.4 302.2,704.8 302.6,701.4 302.8,704.0 303.0,701.0 303.2,703.5 303.4,700.0 303.8,703.1 304.0,699.4 304.4,701.6 305.0,698.8 305.0,702.6 305.6,703.8 306.0,714.4 306.2,715.1 306.8,728.4 307.0,727.3 307.3,731.7 307.4,728.4 308.0,727.4 308.0,723.0 308.6,715.7 309.0,705.1 309.2,704.2 309.8,689.4 310.0,689.3 310.4,683.0 310.6,685.8 311.0,684.0 311.0,686.7 311.6,688.6 312.0,697.4 312.2,697.2 312.8,708.3 313.0,707.1 313.4,714.1 314.0,713.5 314.0,716.5 314.6,712.2 315.0,714.2 315.2,710.4 315.8,710.2 316.0,706.1 316.4,707.8 317.0,700.2 317.0,703.4 317.6,698.0 318.0,700.8 318.2,697.2 318.4,699.8 318.8,696.6 319.0,700.7 319.4,698.0 320.0,703.0 320.0,699.3 320.6,704.6 321.0,702.9 321.2,707.2 321.8,705.9 322.0,710.2 322.4,708.5 323.0,713.1 323.0,709.4 323.6,713.7 324.0,711.6 324.2,713.6 324.8,708.7 325.0,712.1 325.4,706.3 326.0,704.8 326.0,702.3 326.6,701.3 327.0,695.8 327.2,698.5 327.8,693.8 327.9,697.1 328.0,693.5 328.4,698.5 329.0,698.9 329.0,703.1 329.6,704.8 330.0,711.4 330.2,709.2 330.7,713.6 330.8,710.8 331.0,714.5 331.4,709.7 332.0,711.6 332.0,708.8 332.6,710.3 333.0,706.4 333.2,707.9 333.8,702.6 334.0,706.1 334.4,700.8 335.0,701.9 335.0,698.8 335.6,700.8 336.0,696.0 336.2,698.6 336.8,696.0 336.8,699.3 337.0,695.7 337.4,699.3 338.0,696.2 338.0,700.0 338.6,697.2 339.0,701.5 339.2,699.0 339.8,702.4 340.0,699.2 340.4,703.0 341.0,700.7 341.0,704.7 341.6,701.5 342.0,703.9 342.2,701.4 342.8,704.4 343.0,701.5 343.4,704.6 344.0,701.0 344.0,704.3 344.6,701.1 345.0,704.4 345.2,701.2 345.8,704.9 346.0,701.7 346.4,704.7 347.0,702.4 347.0,705.8 347.6,702.9 348.0,707.6 348.2,704.9 348.8,709.1 349.0,706.3 349.4,709.8 350.0,707.3 350.0,710.8 350.6,706.8 351.0,707.5 351.2,703.3 351.8,702.7 352.0,699.4 352.4,700.3 352.9,696.8 353.0,700.0 353.0,696.3 353.6,701.0 354.0,698.0 354.2,701.9 354.8,701.5 355.0,704.9 355.4,704.4 356.0,710.3 356.0,706.6 356.6,712.7 357.0,711.6 357.2,715.7 357.8,713.2 358.0,716.8 358.4,715.1 358.5,718.1 359.0,713.6 359.0,716.7 359.6,710.3 360.0,711.3 360.2,706.9 360.8,706.3 361.0,700.8 361.4,702.6 362.0,696.2 362.0,699.1 362.6,692.8 363.0,693.7 363.2,689.9 363.8,691.4 364.0,687.1 364.4,690.2 364.6,686.9 365.0,691.5 365.0,688.3 365.6,696.4 366.0,698.3 366.2,704.2 366.8,708.5 367.0,712.1 367.4,710.4 367.4,713.4 368.0,709.0 368.0,712.2 368.6,702.4 369.0,701.6 369.2,697.0 369.8,696.0 370.0,691.3 370.1,695.1 370.4,691.9 371.0,697.4 371.0,693.4 371.6,700.6 372.0,700.1 372.2,703.1 372.8,702.2 373.0,706.1 373.4,702.0 374.0,704.1 374.0,700.8 374.6,701.4 375.0,697.2 375.2,699.3 375.8,695.3 376.0,698.6 376.4,696.2 377.0,701.6 377.0,698.5 377.6,705.7 378.0,704.9 378.2,709.3 378.5,705.3 378.8,708.2 379.0,704.9 379.4,705.0 380.0,696.6 380.0,699.7 380.6,691.7 381.0,693.2 381.2,688.9 381.3,692.1 381.8,689.6 382.0,692.9 382.4,692.3 383.0,696.9 383.0,694.8 383.6,700.7 384.0,698.9 384.2,702.6 384.8,700.7 385.0,703.6 385.4,700.2 386.0,698.1 386.0,694.8 386.6,694.0 387.0,690.0 387.2,693.1 387.8,693.8 388.0,699.6 388.4,700.5 389.0,709.3 389.0,706.3 389.6,712.0 389.6,708.5 390.0,711.1 390.2,706.3 390.8,706.2 391.0,701.1 391.4,699.7 392.0,691.9 392.0,694.3 392.6,687.1 393.0,690.1 393.2,686.8 393.8,692.9 394.0,691.6 394.4,699.5 395.0,703.1 395.0,706.4 395.6,709.0 396.0,713.5 396.2,710.8 396.3,713.8 396.8,711.0 397.0,713.1 397.4,707.9 398.0,708.4 398.0,705.7 398.6,704.9 399.0,700.1 399.2,702.8 399.8,698.0 400.0,699.4 400.4,695.8 401.0,697.3 401.0,694.2 401.6,695.4 402.0,690.9 402.2,694.8 402.4,691.5 402.8,695.2 403.0,692.8 403.4,697.2 404.0,697.5 404.0,700.9 404.6,700.0 405.0,705.9 405.2,703.3 405.8,709.4 406.0,706.0 406.4,711.7 407.0,711.4 407.0,714.2 407.6,714.7 408.0,719.2 408.2,717.0 408.8,721.3 409.0,718.9 409.4,722.2 409.6,718.5 410.0,721.3 410.0,717.7 410.6,714.9 411.0,706.9 411.2,707.7 411.8,697.1 412.0,698.7 412.4,694.9 412.4,697.3 413.0,696.9 413.0,700.1 413.6,700.4 414.0,708.6 414.2,707.2 414.8,715.0 415.0,712.8 415.4,719.2 416.0,720.7 416.0,724.1 416.6,724.5 417.0,730.5 417.2,729.0 417.8,734.7 418.0,733.1 418.4,736.6 418.5,733.7 419.0,736.2 419.0,732.7 419.6,732.7 420.0,727.4 420.2,729.2 420.8,722.9 421.0,724.9 421.4,719.1 422.0,719.1 422.0,716.4 422.4,718.4 422.6,715.8 423.0,721.2 423.2,721.0 423.8,730.8 424.0,729.1 424.4,736.8 425.0,735.1 425.0,739.2 425.6,736.0 426.0,738.3 426.2,735.2 426.8,736.4 427.0,733.1 427.4,736.1 428.0,732.5 428.0,736.1 428.6,733.4 429.0,738.8 429.2,735.7 429.8,742.8 430.0,740.2 430.4,746.3 431.0,744.6 431.0,748.0 431.6,746.2 432.0,750.3 432.2,747.7 432.8,751.3 433.0,748.7 433.4,752.1 434.0,751.0 434.0,752.7 434.6,751.4 435.0,754.6 435.2,752.3 435.8,755.3 436.0,753.6 436.4,755.4 437.0,754.8 437.0,756.2 437.6,755.7 438.0,757.0 438.2,756.5 438.8,757.8 439.0,757.5 439.4,758.4 440.0,759.0 440.6,759.6 441.0,760.4 441.2,760.4 441.8,761.6 442.0,761.5 442.4,762.5 442.6,762.4 443.0,763.5 443.0,763.0 443.6,764.6 444.0,764.8 444.2,765.8 444.8,765.7 445.0,767.6 445.4,767.1 446.0,769.3 446.0,768.3 446.6,770.7 447.0,769.9 447.2,772.3 447.8,771.6 448.0,774.0 448.4,772.5 449.0,776.1 449.0,774.2 449.6,777.1 450.0,776.4 450.2,778.5 450.8,778.2 451.0,780.1 451.4,779.4 452.0,782.3 452.0,780.7 452.6,783.2 453.0,782.7 453.2,784.8 453.8,784.3 454.0,786.3 454.4,785.6 455.0,788.6 455.0,787.2 455.6,790.0 456.0,789.0 456.2,791.3 456.8,790.8 457.0,793.4 457.4,792.7 458.0,795.3 458.0,793.8 458.6,796.9 459.0,796.0 459.2,798.3 459.8,798.1 460.0,799.9 460.4,799.4 461.0,802.5 461.0,800.4 461.6,803.6 462.0,802.5 462.2,804.8 462.8,805.0 463.0,806.8 463.4,805.8 463.5,808.4 464.0,807.3 464.0,808.8 464.6,808.5 465.0,810.9 465.2,809.7 465.8,812.9 466.0,811.9 466.4,814.0 467.0,813.5 467.0,815.9 467.6,815.2 468.0,818.1 468.2,816.0 468.8,819.2 469.0,818.3 469.4,820.4 470.0,820.2 470.0,821.7 470.6,821.7 471.0,824.0 471.2,822.6 471.8,825.7 472.0,824.4 472.4,827.4 473.0,827.1 473.0,828.9 473.6,828.6 474.0,831.1 474.2,830.6 474.8,833.3 475.0,832.7 475.4,834.8 476.0,835.6 476.0,836.2 476.6,837.2 477.0,839.2 477.2,838.9 477.8,841.3 478.0,841.3 478.4,843.1 479.0,844.6 479.0,844.7 479.6,846.5 480.0,847.9 481.0,851.2 482.0,854.8 483.0,858.6 483.2,859.4 484.0,863.0 485.0,868.4 486.0,874.3 487.0,880.3 488.0,886.0 489.0,890.8 489.7,893.5 490.0,894.5 491.0,897.4 492.0,899.9 493.0,902.2 494.0,904.3 495.0,906.5 496.0,908.6 497.0,910.6 498.0,912.4 499.0,914.2 500.0,916.0 501.0,917.8 502.0,919.9 503.0,922.1 504.0,924.6 504.1,924.9 505.0,927.6 506.0,931.0 507.0,934.9 508.0,939.0 509.0,943.4 510.0,947.9 510.7,951.0 511.0,952.4 512.0,958.3 513.0,964.4 514.0,969.2 514.6,970.7 515.0,971.3 516.0,972.3 517.0,973.1 518.0,973.7 519.0,974.3 520.0,974.9 521.0,975.8 521.1,975.9 522.0,976.9 523.0,978.3 524.0,979.9 525.0,981.5 526.0,983.3 527.0,985.1 528.0,987.0 529.0,988.8 530.0,990.5 531.0,992.0 531.6,992.9 532.0,993.4 533.0,994.7 534.0,995.9 535.0,997.0 536.0,998.1 537.0,999.1 538.0,1000.1 539.0,1001.2 540.0,1002.3 541.0,1003.4 542.0,1004.6 543.0,1006.0 544.0,1007.5 544.7,1008.6 545.0,1009.1 546.0,1011.2 547.0,1013.5 548.0,1016.2 549.0,1018.9 550.0,1021.7 551.0,1024.4 552.0,1026.8 552.3,1027.5 553.0,1029.0 554.0,1031.1 555.0,1033.1 556.0,1035.0 557.0,1037.0 558.0,1038.9 559.0,1040.9 559.6,1042.2 560.0,1043.1 561.0,1045.7 562.0,1048.6 563.0,1051.6 564.0,1054.3 565.0,1056.6 566.0,1058.1 567.0,1058.7 568.0,1058.6 569.0,1058.3 570.0,1057.8 571.0,1057.2 572.0,1056.6 573.0,1055.9 574.0,1055.2 574.3,1055.0 575.0,1054.5 576.0,1053.6 577.0,1052.5 578.0,1051.4 579.0,1050.4 580.0,1049.5 581.0,1048.8 581.6,1048.6 582.0,1048.5 583.0,1048.2 584.0,1048.0 585.0,1047.9 586.0,1047.8 587.0,1047.7 588.0,1047.6 589.0,1047.4 590.0,1047.3 591.0,1047.1 592.0,1046.9 592.6,1046.7 593.0,1046.6 594.0,1046.0 595.0,1045.3 596.0,1044.4 597.0,1043.3 598.0,1042.1 599.0,1040.8 600.0,1039.3 601.0,1037.9 601.8,1036.7 602.0,1036.4 603.0,1034.6 604.0,1032.5 605.0,1030.1 606.0,1027.7 607.0,1025.1 608.0,1022.7 609.0,1020.4 609.1,1020.2 610.0,1018.3 611.0,1016.3 612.0,1014.3 613.0,1012.3 614.0,1010.3 615.0,1008.4 616.0,1006.4 617.0,1004.4 618.0,1002.4 618.3,1001.8 619.0,1000.3 620.0,998.2 621.0,996.0 622.0,993.9 623.0,991.7 624.0,989.5 625.0,987.4 626.0,985.4 627.0,983.5 627.5,982.6 628.0,981.7 629.0,980.0 630.0,978.4 631.0,976.8 632.0,975.2 633.0,973.7 634.0,972.3 635.0,970.8 636.0,969.4 637.0,968.0 638.0,966.6 639.0,965.1 640.0,963.7 641.0,962.3 642.0,960.9 642.2,960.6 643.0,959.4 644.0,958.0 645.0,956.6 646.0,955.2 647.0,953.9 648.0,952.5 649.0,951.2 650.0,949.8 651.0,948.4 652.0,947.1 653.0,945.7 654.0,944.4 655.0,943.0 656.0,941.6 657.0,940.2 658.0,938.7 659.0,937.3 660.0,935.8 660.5,935.0 661.0,934.2 662.0,932.7 663.0,931.2 664.0,929.6 665.0,928.0 666.0,926.5 667.0,924.9 668.0,923.2 669.0,921.6 670.0,919.9 671.0,918.3 672.0,916.5 673.0,914.8 674.0,913.0 675.0,911.2 676.0,909.4 677.0,907.5 678.0,905.5 679.0,903.4 680.0,901.2 681.0,899.0 682.0,896.7 683.0,894.3 684.0,892.0 685.0,889.7 686.0,887.5 687.0,885.4 688.0,883.4 689.0,881.5 690.0,879.7 691.0,878.1 692.0,876.5 693.0,874.9 694.0,873.4 695.0,871.9 696.0,870.5 697.0,869.0 698.0,867.6 699.0,866.2 700.0,864.7 701.0,863.2 702.0,861.7 702.6,860.8 703.0,860.2 704.0,858.6 705.0,856.9 706.0,855.2 707.0,853.5 708.0,851.8 709.0,850.1 710.0,848.4 711.0,846.7 712.0,845.0 713.0,843.4 714.0,841.8 715.0,840.3 716.0,838.8 717.0,837.4 717.3,837.0 718.0,836.1 719.0,834.7 720.0,833.4 721.0,832.0 722.0,830.7 723.0,829.4 724.0,828.2 725.0,827.0 726.0,825.8 727.0,824.7 728.0,823.7 729.0,822.7 730.0,821.9 731.0,821.1 732.0,820.5 733.0,819.9 734.0,819.3 735.0,818.8 736.0,818.3 737.0,817.8 738.0,817.4 739.0,817.1 740.0,816.9 741.0,816.8 741.1,816.8 742.0,816.9 743.0,817.3 744.0,817.9 745.0,818.6 746.0,819.5 747.0,820.3 748.0,821.1 748.5,821.4 749.0,821.7 750.0,822.3 751.0,822.9 752.0,823.5 753.0,824.1 754.0,824.8 755.0,825.5 756.0,826.3 757.0,827.2 757.6,827.8 758.0,828.3 759.0,829.8 760.0,831.7 761.0,833.9 762.0,836.1 763.0,838.4 764.0,840.6 765.0,842.4 766.0,843.9 767.0,845.3 768.0,846.5 769.0,847.7 770.0,848.9 771.0,850.1 772.0,851.5 773.0,853.2 774.0,855.1 774.1,855.3 775.0,857.7 776.0,861.2 777.0,865.2 778.0,869.4 779.0,873.3 779.6,875.4 780.0,876.8 781.0,880.5 782.0,883.9 783.0,886.1 783.3,886.4 784.0,886.8 785.0,887.4 786.0,887.8 787.0,888.1 788.0,888.3 788.8,888.3 789.0,888.3 790.0,887.2 791.0,885.1 792.0,882.5 793.0,879.9 794.0,877.8 794.3,877.3 795.0,876.4 796.0,875.4 797.0,874.6 798.0,873.8 799.0,873.0 800.0,872.1 801.0,870.9 801.6,870.0 802.0,869.3 803.0,866.5 804.0,862.9 805.0,859.0 806.0,855.1 807.0,851.9 807.1,851.6 808.0,849.2 809.0,846.7 810.0,844.2 811.0,841.9 812.0,839.7 813.0,837.6 814.0,835.6 815.0,833.7 816.0,832.0 816.3,831.5 817.0,830.4 818.0,828.8 819.0,827.3 820.0,825.9 821.0,824.5 822.0,823.2 823.0,821.9 824.0,820.7 825.0,819.5 826.0,818.4 827.0,817.3 828.0,816.2 829.0,815.1 829.1,815.0 830.0,814.1 831.0,813.0 832.0,812.0 833.0,810.9 834.0,809.9 835.0,808.9 836.0,807.9 837.0,806.9 838.0,805.9 839.0,805.0 840.0,804.1 841.0,803.2 842.0,802.4 843.0,801.5 844.0,800.8 845.0,800.0 846.0,799.3 847.0,798.7 848.0,798.1 849.0,797.5 850.0,797.0 851.0,796.5 852.0,796.1 853.0,795.7 854.0,795.3 855.0,794.9 856.0,794.6 857.0,794.2 858.0,793.9 859.0,793.6 860.0,793.3 861.0,793.0 862.0,792.7 863.0,792.5 864.0,792.2 865.0,791.9 866.0,791.7 867.0,791.4 868.0,791.2 869.0,790.9 870.0,790.6 871.0,790.4 872.0,790.1 873.0,789.8 874.0,789.5 875.0,789.2 876.0,788.8 877.0,788.5 877.5,788.3 878.0,788.1 879.0,787.7 880.0,787.3 881.0,786.9 882.0,786.5 883.0,786.1 884.0,785.7 885.0,785.2 886.0,784.8 887.0,784.3 888.0,783.9 889.0,783.4 890.0,782.9 891.0,782.5 892.0,782.0 893.0,781.6 894.0,781.1 895.0,780.7 896.0,780.3 897.0,779.9 898.0,779.4 899.0,779.1 900.0,778.7 901.0,778.3 901.3,778.2 902.0,778.0 903.0,777.6 904.0,777.3 905.0,776.9 906.0,776.6 907.0,776.3 908.0,776.0 909.0,775.7 910.0,775.4 911.0,775.1 912.0,774.8 913.0,774.5 914.0,774.2 915.0,773.9 916.0,773.6 917.0,773.3 918.0,773.0 919.0,772.7 920.0,772.5 921.0,772.2 922.0,771.9 923.0,771.6 924.0,771.3 925.0,771.1 926.0,770.8 927.0,770.5 928.0,770.2 928.8,770.0 929.0,769.9 930.0,769.7 931.0,769.4 932.0,769.1 933.0,768.8 934.0,768.5 935.0,768.2 936.0,767.9 937.0,767.7 938.0,767.4 939.0,767.1 940.0,766.8 941.0,766.5 942.0,766.2 943.0,765.9 944.0,765.7 945.0,765.4 946.0,765.1 947.0,764.8 948.0,764.6 949.0,764.3 950.0,764.0 951.0,763.8 952.0,763.5 953.0,763.3 954.0,763.0 955.0,762.8 956.0,762.6 957.0,762.3 958.0,762.1 959.0,761.9 960.0,761.7 961.0,761.5 962.0,761.3 963.0,761.1 964.0,760.9 965.0,760.7 966.0,760.5 967.0,760.4 968.0,760.2 969.0,760.0 970.0,759.8 971.0,759.7 972.0,759.5 973.0,759.3 974.0,759.2 975.0,759.0 976.0,758.9 977.0,758.7 978.0,758.5 979.0,758.4 980.0,758.2 981.0,758.1 982.0,757.9 983.0,757.8 984.0,757.6 985.0,757.5 986.0,757.3 987.0,757.2 988.0,757.0 989.0,756.8 990.0,756.7 991.0,756.5 992.0,756.4 993.0,756.2 994.0,756.0 995.0,755.9 996.0,755.7 997.0,755.5 998.0,755.4 999.0,755.2 1000.0,755.1 1001.0,754.9 1002.0,754.7 1003.0,754.6 1004.0,754.4 1005.0,754.3 1006.0,754.1 1007.0,753.9 1008.0,753.8 1009.0,753.6 1010.0,753.4 1011.0,753.3 1012.0,753.1 1013.0,752.9 1014.0,752.8 1015.0,752.6 1016.0,752.4 1017.0,752.2 1018.0,752.0 1019.0,751.8 1020.0,751.6 1021.0,751.4 1022.0,751.1 1023.0,750.9 1024.0,750.6 1025.0,750.4 1026.0,750.2 1027.0,749.9 1028.0,749.7 1029.0,749.5 1030.0,749.3 1031.0,749.1 1032.0,748.9 1033.0,748.7 1034.0,748.5 1035.0,748.4 1036.0,748.3 1037.0,748.2 1038.0,748.1 1039.0,748.0 1040.0,748.0 1040.6,748.1 1041.0,747.9 1041.2,748.2 1041.8,748.2 1042.0,748.6 1042.4,748.6 1043.0,749.4 1043.0,748.8 1043.6,749.9 1044.0,749.8 1044.2,750.4 1044.8,750.3 1045.0,751.4 1045.4,750.8 1046.0,752.5 1046.0,751.2 1046.6,752.8 1047.0,751.7 1047.2,753.1 1047.8,752.2 1048.0,753.1 1048.4,751.8 1049.0,753.1 1049.0,751.9 1049.6,753.3 1050.0,751.7 1050.2,753.0 1050.8,751.8 1051.0,752.8 1051.4,751.4 1052.0,752.9 1052.0,751.6 1052.6,752.4 1053.0,751.3 1053.2,752.4 1053.8,750.9 1054.0,752.3 1054.4,750.6 1055.0,751.7 1055.0,750.2 1055.6,751.6 1056.0,749.6 1056.2,751.3 1056.8,749.2 1057.0,750.3 1057.1,749.2 1057.4,750.3 1058.0,747.6 1058.0,749.0 1058.6,746.1 1059.0,746.3 1059.2,744.4 1059.8,745.3 1059.9,743.9 1060.0,744.9 1060.4,744.0 1061.0,747.3 1061.0,745.9 1061.6,749.3 1062.0,749.4 1062.2,750.9 1062.6,749.8 1062.8,751.6 1063.0,750.1 1063.4,751.4 1064.0,749.5 1064.0,751.2 1064.6,749.6 1065.0,750.3 1065.2,748.7 1065.8,749.8 1066.0,748.3 1066.4,749.6 1067.0,747.5 1067.0,748.8 1067.6,747.0 1068.0,748.7 1068.2,747.1 1068.8,748.2 1069.0,746.9 1069.4,748.1 1070.0,746.5 1070.0,747.9 1070.6,746.6 1071.0,748.4 1071.2,747.3 1071.8,749.8 1072.0,749.2 1072.4,751.1 1073.0,750.7 1073.0,752.1 1073.6,751.1 1073.6,752.4 1074.0,750.7 1074.2,752.5 1074.8,750.5 1075.0,751.6 1075.4,749.9 1076.0,750.8 1076.0,749.0 1076.6,750.0 1077.0,748.0 1077.2,749.0 1077.8,746.7 1078.0,748.0 1078.4,746.3 1079.0,746.5 1079.0,745.4 1079.6,746.0 1080.0,744.2 1080.2,745.2 1080.8,743.6 1080.9,745.1 1081.0,743.7 1081.4,745.0 1082.0,743.4 1082.0,744.3 1082.6,742.9 1083.0,744.2 1083.2,742.7 1083.8,744.0 1084.0,742.7 1084.4,743.7 1085.0,742.4 1085.0,743.4 1085.6,742.4 1086.0,743.2 1086.2,742.4 1086.8,742.9 1087.0,742.3 1087.4,742.8 1088.0,742.4 1088.0,742.7 1088.3,742.4 1088.6,742.6 1089.0,742.5 1089.2,742.8 1089.8,743.0 1090.0,743.1 1091.0,743.8 1092.0,744.5 1093.0,745.0 1093.8,745.2 1094.0,745.2 1095.0,744.8 1096.0,744.0 1097.0,743.0 1098.0,742.0 1099.0,741.1 1100.0,740.6 1101.0,740.3 1102.0,740.1 1103.0,739.9 1104.0,739.6 1105.0,739.4 1106.0,739.2 1107.0,739.0 1108.0,738.8 1109.0,738.6 1110.0,738.5 1111.0,738.3 1112.0,738.1 1113.0,738.0 1114.0,737.8 1115.0,737.7 1116.0,737.6 1117.0,737.5 1118.0,737.4 1119.0,737.3 1120.0,737.2 1121.0,737.1 1122.0,737.0 1123.0,737.0 1124.0,736.9 1125.0,736.9 1126.0,736.9 1127.0,736.8 1128.0,736.8 1129.0,736.8 1129.5,736.8 1130.0,736.8 1131.0,736.8 1132.0,736.8 1133.0,736.8 1134.0,736.8 1135.0,736.9 1136.0,736.9 1137.0,736.9 1138.0,736.9 1139.0,737.0 1140.0,737.0 1140.6,737.1 1141.0,737.0 1141.2,737.1 1141.8,736.9 1142.0,737.3 1142.4,736.9 1143.0,737.4 1143.0,736.9 1143.6,737.6 1144.0,736.7 1144.2,737.4 1144.8,737.0 1145.0,737.6 1145.4,737.0 1146.0,737.7 1146.0,736.6 1146.6,737.8 1147.0,736.8 1147.2,738.3 1147.8,736.8 1148.0,738.1 1148.4,737.0 1149.0,738.2 1149.0,737.0 1149.1,738.3 1149.6,737.1 1150.0,738.3 1150.2,737.1 1150.8,739.4 1151.0,737.8 1151.4,739.3 1152.0,738.4 1152.0,740.0 1152.6,739.2 1153.0,740.7 1153.2,739.3 1153.8,741.5 1154.0,740.2 1154.4,741.5 1154.8,740.2 1155.0,740.9 1155.0,739.5 1155.6,734.5 1156.0,728.1 1156.2,727.7 1156.4,725.3 1156.8,726.8 1157.0,725.3 1157.4,727.3 1158.0,725.8 1158.0,727.1 1158.6,726.3 1159.0,728.0 1159.2,726.6 1159.8,728.2 1160.0,727.1 1160.4,728.9 1161.0,728.2 1161.0,729.3 1161.6,728.8 1162.0,730.1 1162.2,729.3 1162.8,731.1 1163.0,729.8 1163.4,731.1 1164.0,730.2 1164.0,731.5 1164.6,730.4 1165.0,732.0 1165.2,730.6 1165.4,732.1 1165.8,730.3 1166.0,731.8 1166.4,729.8 1167.0,730.0 1167.0,728.6 1167.6,729.2 1168.0,727.3 1168.2,728.9 1168.7,727.3 1168.8,728.4 1169.0,727.1 1169.4,728.9 1170.0,727.4 1170.0,729.0 1170.6,728.0 1171.0,730.0 1171.2,728.9 1171.8,731.1 1172.0,729.5 1172.4,731.5 1173.0,731.0 1173.0,732.6 1173.6,731.9 1174.0,733.7 1174.2,733.2 1174.8,735.0 1175.0,734.3 1175.4,736.0 1176.0,735.2 1176.0,736.8 1176.6,735.7 1177.0,737.7 1177.2,736.5 1177.8,737.9 1178.0,736.6 1178.4,738.4 1178.5,736.6 1179.0,738.5 1179.0,737.1 1179.6,738.3 1180.0,736.8 1180.2,738.3 1180.8,736.8 1181.0,738.0 1181.4,736.3 1182.0,737.5 1182.0,736.4 1182.6,737.5 1183.0,736.1 1183.2,737.1 1183.8,735.9 1184.0,736.8 1184.4,735.5 1185.0,736.6 1185.0,735.0 1185.6,736.5 1186.0,734.9 1186.2,736.4 1186.8,734.6 1187.0,736.1 1187.4,734.4 1188.0,736.2 1188.0,734.5 1188.4,736.2 1188.6,734.4 1189.0,735.8 1189.2,734.5 1189.8,736.0 1190.0,734.6 1190.4,736.2 1191.0,734.6 1191.0,736.0 1191.6,734.3 1192.0,736.1 1192.2,734.4 1192.8,736.1 1193.0,734.4 1193.4,736.0 1194.0,734.6 1194.0,736.2 1194.6,734.8 1195.0,735.8 1195.2,734.8 1195.8,735.9 1196.0,734.4 1196.4,736.1 1197.0,734.5 1197.0,736.2 1197.6,735.0 1198.0,736.5 1198.2,734.6 1198.8,736.1 1199.0,734.8 1199.4,736.4 1200.0,735.2 1200.0,736.3 1200.6,735.0 1201.0,736.4 1201.2,735.1 1201.8,736.7 1202.0,735.3 1202.4,736.6 1203.0,735.2 1203.0,736.9 1203.6,735.4 1204.0,737.1 1204.2,735.7 1204.8,737.3 1205.0,735.8 1205.4,737.5 1206.0,736.0 1206.0,737.2 1206.6,736.1 1207.0,737.6 1207.2,736.0 1207.8,737.7 1208.0,736.2 1208.4,737.7 1209.0,736.9 1209.0,738.0 1209.6,736.8 1209.6,738.4 1210.0,737.6 1210.2,739.5 1210.8,740.0 1211.0,741.9 1211.3,740.8 1211.4,742.3 1212.0,740.8 1212.0,742.5 1212.6,740.7 1213.0,741.6 1213.2,740.4 1213.8,741.1 1214.0,739.9 1214.4,740.6 1215.0,738.6 1215.0,740.0 1215.6,737.8 1216.0,739.3 1216.2,737.2 1216.8,738.3 1217.0,736.7 1217.4,737.7 1218.0,735.8 1218.0,736.7 1218.6,735.3 1219.0,736.0 1219.2,734.5 1219.4,735.6 1219.8,734.3 1220.0,735.6 1220.4,733.7 1221.0,735.0 1221.0,733.7 1221.6,734.4 1222.0,733.0 1222.2,734.4 1222.8,732.3 1223.0,733.9 1223.4,732.4 1224.0,733.0 1224.0,732.1 1224.6,732.8 1225.0,731.3 1225.2,732.4 1225.8,730.9 1226.0,732.1 1226.4,730.5 1227.0,731.8 1227.0,730.3 1227.6,731.5 1228.0,730.0 1228.2,731.6 1228.8,730.1 1229.0,731.5 1229.4,729.7 1230.0,731.3 1230.0,729.8 1230.6,731.0 1230.9,729.5 1231.0,731.1 1231.2,729.5 1231.8,731.2 1232.0,729.8 1232.4,731.1 1233.0,729.7 1233.0,731.3 1233.6,729.4 1234.0,731.0 1234.2,729.7 1234.8,731.3 1235.0,729.4 1235.4,731.3 1236.0,729.5 1236.0,731.4 1236.6,729.8 1237.0,731.1 1237.2,730.1 1237.8,731.2 1238.0,730.1 1238.4,731.5 1239.0,729.9 1239.0,731.6 1239.6,729.9 1240.0,731.3 1240.2,730.2 1240.8,731.6 1241.0,730.2 1241.4,731.9 1242.0,730.3 1242.0,731.7 1242.3,730.5 1242.6,731.9 1243.0,731.0 1243.2,732.4 1243.8,731.5 1244.0,733.7 1244.4,732.6 1245.0,734.9 1245.0,733.5 1245.6,735.6 1246.0,734.4 1246.2,736.0 1246.4,734.2 1246.8,735.5 1247.0,733.5 1247.4,732.8 1248.0,728.5 1248.0,730.3 1248.6,726.1 1248.9,727.1 1249.0,725.5 1249.2,726.4 1249.8,724.2 1250.0,725.9 1250.4,723.9 1251.0,724.9 1251.0,723.3 1251.6,724.4 1252.0,722.5 1252.2,723.9 1252.8,721.7 1253.0,723.2 1253.4,721.5 1254.0,723.0 1254.0,721.6 1254.6,722.3 1255.0,721.0 1255.2,722.3 1255.8,720.8 1256.0,722.4 1256.4,720.8 1257.0,721.9 1257.0,720.9 1257.1,721.8 1257.6,720.6 1258.0,721.7 1258.2,720.5 1258.8,722.0 1259.0,721.0 1259.4,721.9 1260.0,721.0 1260.0,721.7 1260.6,721.0 1261.0,721.6 1261.2,721.0 1261.8,721.7 1262.0,721.1 1262.4,721.5 1263.0,721.1 1263.0,721.5 1263.6,721.2 1264.0,721.4 1264.2,721.2 1264.8,721.3 1265.0,721.3 1266.0,721.3 1267.0,721.3 1268.0,721.3 1269.0,721.3 1270.0,721.3 1271.0,721.3 1272.0,721.3 1273.0,721.3 1274.0,721.3 1275.0,721.3 1276.0,721.3 1277.0,721.3 1278.0,721.3 1279.0,721.3 1280.0,721.3 1281.0,721.3 1282.0,721.3 1283.0,721.2 1284.0,721.2 1285.0,721.1 1285.6,721.0 1286.0,721.2 1286.2,720.9 1286.8,721.2 1287.0,720.7 1287.4,721.5 1288.0,720.6 1288.0,721.2 1288.6,720.3 1289.0,721.6 1289.2,720.1 1289.8,721.7 1290.0,720.1 1290.4,721.8 1291.0,719.9 1291.0,721.7 1291.6,719.7 1292.0,721.8 1292.2,719.8 1292.8,721.3 1293.0,718.7 1293.4,721.7 1294.0,719.0 1294.0,721.3 1294.6,718.5 1295.0,720.9 1295.2,719.2 1295.8,720.7 1296.0,718.6 1296.4,721.5 1297.0,719.0 1297.0,721.3 1297.6,718.3 1298.0,720.5 1298.2,718.4 1298.8,720.8 1299.0,718.8 1299.4,721.1 1300.0,718.6 1300.0,720.2 1300.6,717.9 1301.0,720.4 1301.2,717.7 1301.8,720.5 1302.0,718.3 1302.4,720.2 1303.0,717.3 1303.0,720.0 1303.6,718.0 1304.0,720.4 1304.2,718.1 1304.5,719.9 1304.8,717.1 1305.0,720.3 1305.4,717.9 1306.0,719.4 1306.0,717.4 1306.6,719.9 1307.0,717.0 1307.2,719.3 1307.8,717.2 1308.0,719.5 1308.4,717.3 1309.0,719.5 1309.0,716.9 1309.6,719.2 1310.0,716.5 1310.2,719.0 1310.8,716.6 1311.0,719.3 1311.4,716.8 1312.0,718.4 1312.0,717.1 1312.6,719.1 1313.0,716.1 1313.1,719.0 1313.2,716.9 1313.8,718.5 1314.0,715.8 1314.4,718.7 1315.0,716.3 1315.0,719.0 1315.6,715.6 1316.0,718.2 1316.2,715.8 1316.8,718.7 1317.0,715.6 1317.4,718.7 1318.0,715.6 1318.0,717.8 1318.6,715.9 1319.0,717.8 1319.2,715.5 1319.8,718.0 1320.0,715.1 1320.4,717.7 1321.0,715.9 1321.0,717.4 1321.6,715.7 1322.0,718.2 1322.2,715.3 1322.8,717.4 1323.0,715.2 1323.4,717.8 1324.0,715.4 1324.0,717.1 1324.6,715.0 1325.0,717.6 1325.2,715.6 1325.8,717.5 1326.0,715.5 1326.4,717.4 1327.0,714.9 1327.0,717.6 1327.5,715.3 1327.6,717.8 1328.0,715.4 1328.2,717.6 1328.8,715.3 1329.0,717.6 1329.4,715.1 1330.0,717.6 1330.0,714.8 1330.6,717.9 1331.0,714.7 1331.2,717.3 1331.8,714.7 1332.0,717.8 1332.4,715.6 1333.0,717.1 1333.0,715.5 1333.6,717.6 1334.0,715.2 1334.2,718.1 1334.8,715.0 1335.0,718.2 1335.4,715.0 1336.0,718.2 1336.0,714.9 1336.6,718.1 1337.0,715.9 1337.2,718.0 1337.8,715.6 1338.0,718.1 1338.4,715.8 1339.0,718.5 1339.0,715.9 1339.6,718.1 1340.0,716.1 1340.2,718.6 1340.6,715.4 1340.8,718.7 1341.0,716.1 1341.4,718.1 1342.0,715.6 1342.0,718.8 1342.6,716.5 1343.0,718.5 1343.2,716.7 1343.8,719.1 1344.0,716.1 1344.4,719.4 1345.0,716.4 1345.0,719.1 1345.6,717.1 1346.0,719.7 1346.2,717.3 1346.8,720.3 1347.0,717.6 1347.4,720.1 1348.0,717.6 1348.0,720.2 1348.6,718.5 1349.0,720.5 1349.2,718.3 1349.7,721.4 1349.8,719.1 1350.0,722.0 1350.4,719.2 1351.0,722.5 1351.0,720.8 1351.6,724.1 1352.0,721.6 1352.2,724.9 1352.8,723.5 1353.0,726.0 1353.4,725.0 1354.0,728.4 1354.0,726.8 1354.6,729.8 1355.0,728.8 1355.2,731.8 1355.8,731.0 1356.0,734.1 1356.4,733.2 1357.0,736.8 1357.0,735.0 1357.6,739.2 1358.0,737.9 1358.2,741.0 1358.8,740.7 1359.0,744.0 1359.4,743.5 1360.0,747.4 1360.0,745.0 1360.2,747.8 1360.6,747.3 1361.0,750.8 1361.2,749.3 1361.8,753.8 1362.0,752.7 1362.4,755.8 1363.0,755.5 1363.0,758.4 1363.6,757.6 1364.0,762.1 1364.2,759.8 1364.8,764.3 1365.0,762.1 1365.4,765.1 1365.4,762.6 1366.0,766.3 1366.0,764.3 1366.6,767.5 1367.0,765.8 1367.2,768.9 1367.8,766.5 1368.0,769.8 1368.4,767.3 1369.0,770.6 1369.0,768.7 1369.6,771.5 1370.0,769.7 1370.2,771.9 1370.7,771.1 1370.8,773.0 1371.0,771.5 1371.4,773.9 1372.0,773.1 1372.0,774.9 1372.6,773.8 1373.0,776.8 1373.2,774.4 1373.8,777.8 1374.0,776.0 1374.4,779.2 1375.0,777.5 1375.0,779.4 1375.6,777.7 1375.9,779.2 1376.0,776.9 1376.2,779.8 1376.8,776.9 1377.0,779.4 1377.4,775.8 1378.0,777.8 1378.0,775.4 1378.6,776.1 1379.0,773.0 1379.2,775.8 1379.8,772.3 1380.0,773.8 1380.4,771.0 1381.0,772.6 1381.0,769.9 1381.2,771.4 1381.6,768.4 1382.0,770.3 1382.2,768.2 1382.8,768.7 1383.0,766.7 1383.4,768.0 1384.0,764.8 1384.0,767.1 1384.6,763.1 1385.0,764.8 1385.2,762.9 1385.8,764.1 1386.0,760.9 1386.4,763.2 1387.0,760.0 1387.0,762.2 1387.6,759.1 1388.0,760.5 1388.2,758.3 1388.8,760.5 1389.0,757.3 1389.4,760.1 1390.0,757.3 1390.0,759.4 1390.6,757.1 1391.0,758.7 1391.2,756.1 1391.8,758.2 1392.0,755.7 1392.4,758.9 1393.0,755.9 1393.0,758.3 1393.6,755.3 1394.0,758.3 1394.2,755.4 1394.2,758.3 1394.8,756.2 1395.0,758.5 1395.4,755.7 1396.0,758.4 1396.0,756.6 1396.6,758.7 1397.0,756.7 1397.2,759.2 1397.8,757.3 1398.0,759.8 1398.4,757.7 1399.0,761.3 1399.0,759.0 1399.6,761.6 1400.0,759.2 1400.2,761.6 1400.8,760.3 1401.0,763.2 1401.4,760.7 1402.0,763.8 1402.0,761.7 1402.1,763.5 1402.6,762.1 1403.0,765.3 1403.2,762.5 1403.8,766.2 1404.0,763.9 1404.4,766.6 1405.0,765.6 1405.0,767.4 1405.6,766.5 1406.0,768.8 1406.2,767.3 1406.8,770.8 1407.0,768.6 1407.4,771.8 1408.0,769.9 1408.0,772.6 1408.6,770.2 1408.6,772.7 1409.0,771.3 1409.2,773.5 1409.8,772.7 1410.0,775.2 1410.4,773.7 1411.0,776.6 1411.0,773.7 1411.6,777.4 1412.0,775.5 1412.2,778.0 1412.8,776.6 1413.0,779.8 1413.4,777.6 1414.0,781.3 1414.0,778.4 1414.6,781.7 1415.0,780.1 1415.2,782.5 1415.8,780.5 1416.0,783.1 1416.4,780.8 1417.0,783.1 1417.0,781.1 1417.6,784.0 1417.8,781.1 1418.0,783.2 1418.2,781.2 1418.8,784.0 1419.0,781.6 1419.4,783.0 1420.0,780.7 1420.0,783.5 1420.6,780.6 1421.0,783.0 1421.2,780.7 1421.8,782.6 1422.0,781.0 1422.4,782.9 1423.0,779.9 1423.0,782.7 1423.6,780.6 1424.0,781.8 1424.2,779.6 1424.8,781.9 1425.0,779.9 1425.4,781.6 1426.0,778.9 1426.0,781.7 1426.6,779.5 1427.0,781.0 1427.2,779.4 1427.8,781.6 1428.0,778.7 1428.3,780.9 1428.4,779.0 1429.0,780.6 1429.0,778.1 1429.6,781.0 1430.0,778.2 1430.2,780.3 1430.8,777.5 1431.0,780.1 1431.4,778.0 1432.0,779.6 1432.0,777.6 1432.6,780.2 1433.0,777.3 1433.2,780.0 1433.8,777.3 1434.0,779.6 1434.4,777.2 1435.0,779.1 1435.0,776.9 1435.6,778.7 1436.0,776.2 1436.2,778.5 1436.8,776.2 1437.0,778.4 1437.4,775.6 1437.4,778.1 1438.0,776.0 1438.0,778.4 1438.6,775.9 1439.0,778.2 1439.2,775.0 1439.8,777.6 1440.0,775.3 1440.4,777.1 1441.0,774.7 1441.0,777.3 1441.6,774.8 1442.0,776.8 1442.2,774.5 1442.8,776.9 1443.0,773.9 1443.4,777.1 1444.0,774.0 1444.0,776.1 1444.6,774.0 1445.0,776.0 1445.2,773.2 1445.3,776.2 1445.8,772.7 1446.0,775.6 1446.4,772.6 1447.0,774.4 1447.0,772.2 1447.6,773.7 1448.0,770.8 1448.2,772.8 1448.8,770.0 1449.0,771.2 1449.4,768.4 1450.0,769.8 1450.0,767.8 1450.6,769.3 1451.0,766.2 1451.2,768.2 1451.8,763.9 1451.8,766.1 1452.0,763.4 1452.4,765.5 1453.0,761.6 1453.0,763.9 1453.6,759.1 1454.0,760.2 1454.2,757.9 1454.8,757.8 1455.0,754.8 1455.4,755.9 1456.0,752.6 1456.0,754.2 1456.6,750.4 1457.0,752.1 1457.1,749.3 1457.2,751.5 1457.8,748.7 1458.0,750.4 1458.4,748.2 1459.0,749.2 1459.0,747.0 1459.6,748.5 1460.0,746.1 1460.2,748.5 1460.8,745.0 1461.0,746.8 1461.4,744.8 1462.0,746.4 1462.0,744.1 1462.6,745.3 1463.0,743.3 1463.2,744.9 1463.8,741.9 1464.0,744.1 1464.4,741.6 1464.9,742.6 1465.0,740.7 1465.0,743.2 1465.6,739.9 1466.0,740.6 1466.2,738.7 1466.8,739.4 1467.0,737.1 1467.4,738.0 1468.0,735.1 1468.0,737.2 1468.6,734.3 1468.8,736.8 1469.0,734.2 1469.2,736.0 1469.8,733.4 1470.0,735.7 1470.4,733.9 1471.0,735.2 1471.0,732.9 1471.6,735.8 1472.0,733.0 1472.2,735.1 1472.8,732.7 1473.0,734.9 1473.4,732.7 1474.0,735.5 1474.0,732.9 1474.6,734.8 1475.0,732.1 1475.2,734.5 1475.8,732.6 1476.0,734.9 1476.4,732.1 1476.7,734.2 1477.0,732.2 1477.0,734.3 1477.6,731.1 1478.0,734.1 1478.2,731.5 1478.8,733.2 1479.0,730.3 1479.4,731.9 1480.0,729.2 1480.0,731.1 1480.6,728.3 1481.0,730.8 1481.2,728.3 1481.8,729.6 1482.0,727.4 1482.4,730.4 1482.6,727.9 1483.0,730.4 1483.0,727.5 1483.6,729.8 1484.0,727.5 1484.2,730.6 1484.8,728.4 1485.0,730.8 1485.4,728.9 1486.0,731.6 1486.0,729.4 1486.6,731.9 1487.0,729.7 1487.2,732.9 1487.8,730.6 1488.0,733.8 1488.4,731.1 1488.5,734.0 1489.0,731.9 1489.0,734.1 1489.6,733.5 1490.0,735.9 1490.2,733.9 1490.8,738.3 1491.0,736.2 1491.4,739.7 1492.0,737.9 1492.0,740.2 1492.6,739.6 1493.0,742.5 1493.2,740.9 1493.7,743.9 1493.8,742.5 1494.0,744.6 1494.4,743.8 1495.0,746.6 1495.0,744.9 1495.6,747.3 1496.0,747.1 1496.2,748.6 1496.8,748.6 1497.0,750.3 1497.4,750.2 1498.0,751.9 1498.0,751.2 1498.6,752.9 1499.0,753.2 1499.2,753.8 1499.8,754.6 1500.0,754.9 1501.0,756.1 1502.0,757.2 1502.5,758.0 1503.0,759.1 1504.0,762.3 1505.0,766.2 1506.0,769.8 1506.7,771.8 1507.0,772.5 1508.0,774.5 1509.0,776.3 1510.0,778.0 1511.0,779.5 1512.0,781.1 1513.0,782.8 1514.0,784.8 1515.0,787.1 1516.0,789.5 1517.0,791.8 1518.0,793.9 1519.0,795.6 1520.0,796.6 1520.8,796.9 1521.0,796.9 1522.0,796.9 1523.0,796.9 1524.0,796.9 1525.0,796.9 1525.5,796.9 1526.0,796.5 1527.0,794.2 1528.0,791.5 1528.7,790.6 1529.0,790.5 1530.0,790.2 1531.0,790.0 1532.0,789.8 1533.0,789.6 1534.0,789.5 1535.0,789.3 1536.0,789.2 1537.0,789.2 1538.0,789.1 1539.0,789.1 1539.7,789.1 1540.0,789.1 1541.0,789.7 1542.0,791.0 1543.0,792.6 1544.0,794.5 1544.4,795.3 1545.0,796.9 1546.0,801.1 1547.0,806.1 1548.0,810.8 1549.0,814.0 1549.1,814.2 1550.0,815.8 1551.0,817.4 1552.0,818.5 1553.0,818.9 1554.0,818.3 1555.0,816.8 1556.0,814.6 1557.0,812.0 1558.0,809.3 1559.0,806.8 1560.0,804.8 1561.0,803.5 1561.7,803.2 1562.0,803.3 1563.0,804.4 1564.0,806.5 1565.0,809.1 1566.0,811.6 1567.0,813.5 1568.0,814.2 1569.0,813.7 1570.0,812.6 1571.0,811.4 1572.0,810.4 1572.7,810.2 1573.0,810.3 1574.0,812.4 1575.0,816.3 1576.0,821.0 1577.0,825.5 1578.0,828.8 1578.9,829.9 1579.0,829.9 1580.0,827.5 1581.0,822.4 1582.0,815.9 1583.0,809.7 1583.7,806.3 1584.0,805.1 1585.0,800.8 1586.0,796.7 1587.0,793.2 1588.0,791.0 1588.4,790.6 1589.0,790.3 1590.0,789.9 1591.0,789.6 1592.0,789.4 1593.0,789.2 1594.0,789.0 1595.0,788.7 1596.0,788.4 1596.2,788.3 1597.0,787.9 1598.0,787.2 1599.0,786.4 1600.0,785.5 1601.0,784.7 1602.0,783.9 1602.5,783.6 1603.0,783.3 1604.0,782.6 1605.0,781.9 1606.0,781.3 1607.0,780.7 1608.0,780.2 1609.0,779.8 1610.0,779.6 1610.4,779.6 1611.0,779.7 1612.0,780.0 1613.0,780.6 1614.0,781.3 1615.0,782.1 1616.0,782.9 1617.0,783.6 1618.0,784.2 1618.2,784.3 1619.0,784.7 1620.0,785.1 1621.0,785.5 1622.0,785.8 1622.9,785.9 1623.0,785.9 1624.0,785.4 1625.0,784.3 1626.0,783.0 1627.0,782.2 1627.6,782.0 1628.0,782.2 1629.0,784.0 1630.0,787.2 1631.0,791.2 1632.0,795.3 1633.0,798.8 1634.0,801.1 1634.7,801.6 1635.0,801.5 1636.0,800.5 1637.0,798.7 1638.0,796.5 1638.6,795.3 1639.0,794.5 1640.0,791.8 1641.0,788.7 1642.0,785.6 1643.0,782.9 1644.0,781.0 1644.9,780.4 1645.0,780.4 1646.0,781.1 1647.0,782.8 1648.0,785.3 1649.0,788.5 1649.6,790.6 1650.0,792.8 1651.0,802.4 1652.0,814.3 1652.8,822.0 1653.0,823.5 1654.0,831.7 1655.0,838.4 1655.9,840.9 1656.0,840.9 1657.0,838.9 1658.0,834.6 1659.0,829.1 1660.0,823.8 1660.4,822.0 1661.0,819.3 1662.0,814.1 1663.0,808.8 1664.0,804.3 1665.0,801.7 1665.5,801.3 1666.0,801.6 1667.0,803.7 1668.0,807.4 1669.0,811.9 1669.8,815.7 1670.0,816.7 1671.0,823.2 1672.0,831.5 1673.0,840.7 1674.0,849.8 1675.0,859.0 1676.0,868.8 1677.0,878.4 1677.5,883.0 1678.0,887.9 1679.0,898.1 1680.0,904.0 1681.0,905.6 1682.0,906.7 1683.0,907.5 1684.0,908.1 1685.0,908.7 1686.0,909.3 1687.0,910.2 1687.1,910.3 1688.0,911.2 1689.0,912.3 1690.0,913.5 1691.0,915.0 1691.8,916.5 1692.0,916.9 1693.0,920.3 1694.0,924.9 1695.0,930.0 1696.0,934.9 1696.5,937.0 1697.0,938.8 1698.0,941.9 1699.0,944.7 1700.0,948.0 1701.0,952.5 1701.3,954.2 1702.0,960.5 1703.0,974.1 1703.6,982.5 1704.0,988.3 1705.0,1004.4 1706.0,1017.1 1707.0,1025.0 1707.5,1026.5 1708.0,1026.2 1709.0,1024.0 1710.0,1020.2 1711.0,1015.7 1712.0,1011.2 1713.0,1007.3 1714.0,1004.9 1714.6,1004.5 1715.0,1004.9 1716.0,1008.4 1717.0,1014.3 1718.0,1020.9 1719.0,1026.3 1720.0,1028.8 1720.1,1028.8 1721.0,1027.9 1722.0,1025.2 1723.0,1021.4 1724.0,1017.1 1725.0,1012.9 1725.6,1010.8 1726.0,1009.5 1727.0,1006.1 1728.0,1002.6 1729.0,999.2 1730.0,996.2 1731.0,993.7 1731.1,993.5 1732.0,991.9 1733.0,990.4 1734.0,989.2 1735.0,988.0 1736.0,986.6 1737.0,984.9 1737.4,984.1 1738.0,982.6 1739.0,979.6 1740.0,975.9 1741.0,971.7 1742.0,967.3 1742.1,966.8 1743.0,962.5 1744.0,957.1 1745.0,951.0 1746.0,944.3 1746.8,938.5 1747.0,936.9 1748.0,927.1 1749.0,916.3 1750.0,907.1 1751.0,900.1 1752.0,894.1 1753.0,888.5 1753.9,883.6 1754.0,883.1 1755.0,878.0 1756.0,873.5 1757.0,868.8 1758.0,863.6 1758.6,860.0 1759.0,857.0 1760.0,847.9 1760.9,841.3 1761.0,840.8 1762.0,836.5 1763.0,832.9 1764.0,829.8 1765.0,827.1 1766.0,824.7 1767.0,822.4 1767.7,820.9 1768.0,820.2 1769.0,818.0 1770.0,815.7 1771.0,813.4 1772.0,811.2 1773.0,809.1 1774.0,807.2 1775.0,805.4 1776.0,803.9 1777.0,802.7 1778.0,801.9 1779.0,801.4 1779.6,801.3 1780.0,801.3 1781.0,801.7 1782.0,802.3 1783.0,803.1 1784.0,804.0 1784.7,804.7 1785.0,805.1 1786.0,807.0 1787.0,809.5 1788.0,811.6 1789.0,812.5 1790.0,809.9 1791.0,804.1 1792.0,797.8 1792.6,795.0 1793.0,793.6 1794.0,790.1 1795.0,786.8 1796.0,783.8 1797.0,781.2 1798.0,779.3 1798.8,778.2 1799.0,778.0 1800.0,777.0 1801.0,776.2 1802.0,775.4 1803.0,774.8 1804.0,774.2 1805.0,773.7 1806.0,773.2 1807.0,772.8 1808.0,772.4 1809.0,772.0 1809.3,771.9 1810.0,771.7 1811.0,771.3 1812.0,771.1 1813.0,770.8 1814.0,770.5 1815.0,770.3 1816.0,770.1 1817.0,769.9 1818.0,769.6 1819.0,769.4 1820.0,769.2 1821.0,769.0 1821.9,768.8 1822.0,768.8 1823.0,768.5 1824.0,768.3 1825.0,768.0 1826.0,767.7 1827.0,767.4 1828.0,767.1 1829.0,766.8 1830.0,766.5 1831.0,766.2 1832.0,766.0 1833.0,765.7 1834.0,765.5 1835.0,765.2 1836.0,765.0 1837.0,764.9 1838.0,764.8 1839.0,764.7 1840.0,764.6 1840.7,764.6 1841.0,764.6 1842.0,764.6 1843.0,764.7 1844.0,764.7 1845.0,764.8 1846.0,764.9 1847.0,765.1 1848.0,765.2 1849.0,765.4 1850.0,765.6 1851.0,765.7 1852.0,765.9 1853.0,766.2 1854.0,766.4 1855.0,766.6 1855.4,766.7 1856.0,766.9 1857.0,767.1 1858.0,767.5 1859.0,767.9 1860.0,768.4 1861.0,768.9 1862.0,769.5 1863.0,770.1 1864.0,770.8 1865.0,771.5 1866.0,772.3 1867.0,773.1 1868.0,774.0 1869.0,775.2 1870.0,776.7 1871.0,778.6 1872.0,780.7 1873.0,782.8 1874.0,784.8 1875.0,786.7 1876.0,788.3 1876.3,788.7 1877.0,789.6 1878.0,790.9 1879.0,792.1 1880.0,793.3 1881.0,794.3 1882.0,795.2 1883.0,795.8 1883.7,796.0 1884.0,796.1 1885.0,796.2 1886.0,796.3 1887.0,796.4 1888.0,796.5 1889.0,796.5 1890.0,796.6 1891.0,796.7 1892.0,796.9 1893.0,797.1 1893.1,797.1 1894.0,798.0 1895.0,800.2 1896.0,803.2 1897.0,806.5 1897.3,807.5 1898.0,810.4 1899.0,816.0 1900.0,822.2 1901.0,827.7 1902.0,831.1 1902.5,831.6 1903.0,831.5 1904.0,830.9 1905.0,829.8 1906.0,828.4 1907.0,826.6 1908.0,824.8 1909.0,822.9 1910.0,821.1 1911.0,819.5 1912.0,818.2 1913.0,817.3 1914.0,817.0 1915.0,817.1 1916.0,817.3 1917.0,817.7 1918.0,818.2 1919.0,818.7 1920.0,819.4 1921.0,820.1 1922.0,820.9 1922.4,821.2 1923.0,821.8 1924.0,823.5 1925.0,825.8 1926.0,828.3 1927.0,830.9 1928.0,833.3 1929.0,835.3 1930.0,836.6 1930.8,836.9 1931.0,836.9 1932.0,836.6 1933.0,835.9 1934.0,834.9 1935.0,833.7 1936.0,832.4 1937.0,831.1 1938.0,829.8 1939.0,828.7 1939.2,828.5 1940.0,827.7 1941.0,826.6 1942.0,825.4 1943.0,824.2 1944.0,823.1 1945.0,822.0 1946.0,821.2 1947.0,820.5 1948.0,820.2 1948.6,820.1 1949.0,820.2 1950.0,820.7 1951.0,821.8 1952.0,823.2 1953.0,824.8 1954.0,826.5 1955.0,828.1 1956.0,829.4 1957.0,830.3 1958.0,830.6 1959.0,829.8 1960.0,827.6 1961.0,824.5 1962.0,821.0 1963.0,817.5 1964.0,814.5 1964.3,813.8 1965.0,812.4 1966.0,810.7 1967.0,809.3 1968.0,807.8 1969.0,805.9 1970.0,803.3 1970.6,801.3 1971.0,799.1 1972.0,789.0 1973.0,774.6 1973.7,763.6" fill="none" stroke="#990000" stroke-width="4" stroke-linejoin="round" stroke-linecap="round" shape-rendering="crispEdges"/>
<polyline points="235.0,587.0 236.0,587.0 237.0,587.0 238.0,587.0 238.6,587.0 239.0,586.9 239.2,587.1 239.8,586.9 240.0,587.1 240.4,586.7 241.0,587.1 241.0,586.8 241.6,587.2 242.0,586.6 242.2,587.3 242.8,586.6 243.0,587.3 243.4,586.4 244.0,587.3 244.0,586.3 244.6,587.6 245.0,586.2 245.2,587.4 245.8,586.4 246.0,587.4 246.4,586.2 247.0,587.6 247.0,586.0 247.6,587.3 248.0,585.9 248.2,587.4 248.8,586.0 249.0,587.2 249.4,586.3 250.0,587.2 250.0,585.9 250.6,587.4 251.0,585.9 251.2,587.4 251.8,586.1 252.0,587.3 252.4,586.0 253.0,587.4 253.0,586.0 253.6,587.4 254.0,585.9 254.2,587.3 254.8,585.9 255.0,587.2 255.4,585.9 256.0,587.1 256.0,585.9 256.6,586.8 257.0,586.0 257.2,587.1 257.8,585.7 258.0,587.1 258.4,585.5 259.0,586.8 259.0,585.3 259.6,586.9 260.0,585.4 260.2,586.7 260.8,585.7 261.0,586.5 261.4,585.7 262.0,586.6 262.0,585.8 262.6,586.3 262.6,585.5 263.0,586.3 263.2,585.7 263.2,586.4 263.8,585.7 263.8,586.4 264.0,585.6 264.4,586.4 264.4,585.7 265.0,586.4 265.0,585.7 265.0,586.5 265.6,586.0 265.6,586.8 266.0,586.3 266.2,587.3 266.2,586.7 266.8,588.6 266.8,587.3 267.0,588.4 267.4,588.0 267.4,588.8 267.8,587.9 268.0,589.0 268.0,588.2 268.6,589.3 269.0,587.2 269.2,588.3 269.8,586.3 270.0,587.2 270.4,585.1 271.0,585.8 271.0,584.5 271.6,584.8 272.0,583.3 272.2,584.6 272.8,582.7 273.0,584.2 273.4,582.3 274.0,583.8 274.0,581.5 274.6,582.8 275.0,581.5 275.2,582.9 275.8,580.7 276.0,582.2 276.4,580.9 277.0,582.1 277.0,580.3 277.6,582.3 278.0,580.0 278.2,582.2 278.4,580.6 278.8,582.5 279.0,580.7 279.4,582.9 280.0,583.2 280.0,584.8 280.6,584.9 281.0,587.7 281.2,586.4 281.8,590.1 282.0,588.6 282.4,591.1 282.8,589.5 283.0,591.2 283.0,589.2 283.6,589.1 284.0,585.1 284.2,585.5 284.8,579.9 285.0,580.9 285.4,578.0 285.6,579.4 286.0,578.0 286.0,579.3 286.6,579.2 287.0,581.7 287.2,580.1 287.8,583.1 288.0,582.3 288.4,584.5 289.0,583.1 289.0,584.7 289.6,582.8 290.0,585.0 290.2,583.1 290.8,584.4 291.0,582.6 291.4,584.0 292.0,582.2 292.0,583.5 292.6,581.6 293.0,583.4 293.2,581.5 293.8,584.1 294.0,582.5 294.4,584.3 295.0,584.1 295.0,585.7 295.6,584.8 296.0,587.8 296.2,586.1 296.6,588.9 296.8,587.4 297.0,588.9 297.2,587.8 297.4,589.2 297.8,588.0 297.8,589.6 298.0,588.2 298.0,589.3 298.4,587.4 298.6,588.2 299.0,585.8 299.0,587.3 299.2,585.1 299.6,585.0 299.8,583.3 300.0,583.7 300.2,581.4 300.4,583.2 300.8,580.4 301.0,581.9 301.0,579.4 301.4,581.5 301.6,578.9 302.0,580.7 302.0,578.3 302.2,579.8 302.6,576.9 302.8,579.1 303.0,576.4 303.2,579.1 303.4,576.2 303.8,579.5 304.0,576.0 304.4,578.6 305.0,575.5 305.0,578.1 305.6,579.4 306.0,587.7 306.2,587.6 306.8,599.6 307.0,598.3 307.3,603.0 307.4,599.3 308.0,598.4 308.0,594.6 308.6,589.6 309.0,580.8 309.2,580.7 309.8,567.6 310.0,568.8 310.4,563.7 310.6,565.9 311.0,563.6 311.0,567.7 311.6,567.3 312.0,575.8 312.2,574.4 312.8,583.7 313.0,582.3 313.4,588.2 314.0,588.0 314.0,590.1 314.6,586.9 315.0,588.3 315.2,585.5 315.8,585.2 316.0,581.5 316.4,583.1 317.0,577.7 317.0,580.6 317.6,575.5 318.0,578.0 318.2,573.7 318.4,577.2 318.8,574.2 319.0,577.4 319.4,574.6 320.0,579.9 320.0,577.0 320.6,581.0 321.0,579.8 321.2,582.7 321.8,582.0 322.0,586.0 322.4,583.5 323.0,587.6 323.0,584.8 323.6,588.4 324.0,585.3 324.2,588.2 324.8,584.5 325.0,586.4 325.4,582.0 326.0,582.0 326.0,578.9 326.6,578.3 327.0,574.3 327.2,576.5 327.8,572.0 327.9,575.2 328.0,572.2 328.4,575.5 329.0,576.7 329.0,580.1 329.6,580.3 330.0,586.4 330.2,583.9 330.7,588.1 330.8,585.5 331.0,588.3 331.4,585.2 332.0,587.0 332.0,583.6 332.6,585.7 333.0,581.1 333.2,583.9 333.8,579.6 334.0,582.0 334.4,577.5 335.0,579.2 335.0,576.2 335.6,577.6 336.0,574.6 336.2,577.6 336.8,574.3 336.8,576.9 337.0,574.1 337.4,576.7 338.0,575.0 338.0,578.1 338.6,575.0 339.0,578.9 339.2,576.2 339.8,580.4 340.0,577.0 340.4,581.4 341.0,577.4 341.0,581.2 341.6,578.0 342.0,581.6 342.2,578.6 342.8,581.6 343.0,578.2 343.4,581.8 344.0,578.4 344.0,581.8 344.6,578.1 345.0,582.4 345.2,579.3 345.8,582.6 346.0,578.4 346.4,582.8 347.0,579.5 347.0,582.4 347.6,580.3 348.0,583.2 348.2,581.1 348.8,585.9 349.0,582.2 349.4,586.7 350.0,583.1 350.0,587.1 350.6,583.0 351.0,584.9 351.2,580.6 351.8,581.5 352.0,577.1 352.4,578.2 352.9,574.6 353.0,577.6 353.0,574.4 353.6,578.6 354.0,575.9 354.2,579.4 354.8,578.7 355.0,582.9 355.4,581.4 356.0,586.6 356.0,583.7 356.6,588.4 357.0,586.9 357.2,590.7 357.8,589.2 358.0,591.7 358.4,588.9 358.5,592.8 359.0,588.6 359.0,591.4 359.6,585.8 360.0,587.2 360.2,583.2 360.8,583.6 361.0,579.5 361.4,581.2 362.0,574.8 362.0,578.4 362.6,572.2 363.0,574.4 363.2,569.6 363.8,572.2 364.0,568.3 364.4,570.2 364.6,566.9 365.0,571.3 365.0,568.9 365.6,576.7 366.0,576.4 366.2,582.8 366.8,584.4 367.0,588.6 367.4,586.0 367.4,590.2 368.0,584.6 368.0,587.3 368.6,580.8 369.0,579.7 369.2,575.0 369.8,575.0 370.0,572.2 370.1,575.0 370.4,572.3 371.0,576.9 371.0,573.0 371.6,579.9 372.0,578.3 372.2,582.5 372.8,580.3 373.0,583.6 373.4,580.3 374.0,582.7 374.0,579.1 374.6,580.6 375.0,575.8 375.2,579.0 375.8,575.1 376.0,577.7 376.4,574.4 377.0,580.8 377.0,577.9 377.6,583.2 378.0,582.5 378.2,586.3 378.5,583.8 378.8,585.3 379.0,581.8 379.4,583.7 380.0,576.0 380.0,579.3 380.6,572.5 381.0,573.5 381.2,570.2 381.3,573.0 381.8,570.7 382.0,573.7 382.4,571.5 383.0,577.5 383.0,574.7 383.6,579.1 384.0,577.1 384.2,581.1 384.8,579.4 385.0,581.7 385.4,578.0 386.0,578.2 386.0,574.4 386.6,574.3 387.0,570.3 387.2,574.5 387.8,573.5 388.0,579.0 388.4,578.9 389.0,585.9 389.0,583.1 389.6,587.9 389.6,585.9 390.0,587.8 390.2,584.4 390.8,583.6 391.0,578.5 391.4,578.7 392.0,571.3 392.0,575.6 392.6,569.4 393.0,571.2 393.2,568.0 393.8,574.5 394.0,572.6 394.4,579.2 395.0,580.9 395.0,583.5 395.6,585.1 396.0,590.3 396.2,586.8 396.3,590.8 396.8,587.3 397.0,589.6 397.4,585.1 398.0,586.0 398.0,583.1 398.6,583.5 399.0,578.5 399.2,580.9 399.8,577.4 400.0,579.9 400.4,574.5 401.0,576.4 401.0,573.1 401.6,575.6 402.0,572.1 402.2,575.2 402.4,572.2 402.8,576.1 403.0,572.7 403.4,577.9 404.0,576.6 404.0,580.5 404.6,579.4 405.0,584.1 405.2,581.5 405.8,586.3 406.0,584.1 406.4,588.8 407.0,587.8 407.0,591.0 407.6,590.2 408.0,595.4 408.2,592.3 408.8,596.4 409.0,593.6 409.4,597.3 409.6,594.7 410.0,596.9 410.0,592.8 410.6,591.8 411.0,585.5 411.2,586.9 411.8,578.8 412.0,581.2 412.4,576.2 412.4,579.0 413.0,578.4 413.0,580.7 413.6,581.9 414.0,588.8 414.2,587.2 414.8,594.0 415.0,592.9 415.4,598.2 416.0,599.0 416.0,602.0 416.6,603.4 417.0,609.0 417.2,606.5 417.8,612.8 418.0,610.3 418.4,613.4 418.5,610.5 419.0,613.5 419.0,609.5 419.6,611.3 420.0,606.9 420.2,609.1 420.8,602.4 421.0,605.7 421.4,599.9 422.0,602.4 422.0,599.3 422.4,601.5 422.6,598.5 423.0,604.5 423.2,602.1 423.8,611.2 424.0,609.4 424.4,616.2 425.0,614.4 425.0,617.6 425.6,614.3 426.0,617.5 426.2,614.2 426.8,616.8 427.0,612.4 427.4,615.1 428.0,612.5 428.0,614.6 428.6,612.2 429.0,616.6 429.2,614.1 429.8,620.0 430.0,618.2 430.4,622.0 431.0,621.4 431.0,624.7 431.6,622.9 432.0,626.6 432.2,623.8 432.8,629.1 433.0,627.3 433.4,631.0 434.0,629.0 434.0,631.6 434.6,630.6 435.0,633.0 435.2,631.3 435.8,633.5 436.0,631.5 436.4,633.5 437.0,632.2 437.0,633.7 437.6,632.7 438.0,633.8 438.2,633.1 438.8,633.8 439.0,633.3 439.4,633.7 440.0,633.8 440.6,634.0 441.0,634.3 441.2,634.1 441.8,634.7 442.0,634.4 442.4,635.1 442.6,634.8 443.0,635.8 443.0,634.9 443.6,636.4 444.0,636.0 444.2,637.3 444.8,636.9 445.0,638.4 445.4,638.0 446.0,640.2 446.0,639.0 446.6,641.5 447.0,641.0 447.2,643.3 447.8,642.6 448.0,645.1 448.4,644.4 449.0,647.6 449.0,645.5 449.6,649.2 450.0,647.7 450.2,650.7 450.8,650.0 451.0,652.5 451.4,651.8 452.0,654.3 452.0,652.6 452.6,656.2 453.0,654.7 453.2,657.2 453.8,656.8 454.0,659.3 454.4,658.0 455.0,661.5 455.0,659.5 455.6,662.9 456.0,661.4 456.2,664.3 456.8,663.6 457.0,666.1 457.4,665.0 458.0,668.1 458.0,665.8 458.6,669.5 459.0,668.4 459.2,670.7 459.8,670.3 460.0,672.6 460.4,671.6 461.0,674.9 461.0,673.2 461.6,676.0 462.0,675.0 462.2,677.7 462.8,677.4 463.0,679.3 463.4,678.4 463.5,680.3 464.0,679.5 464.0,681.6 464.6,680.9 465.0,683.8 465.2,682.5 465.8,685.6 466.0,683.6 466.4,686.2 467.0,685.8 467.0,687.7 467.6,687.1 468.0,689.5 468.2,688.4 468.8,691.3 469.0,689.8 469.4,692.1 470.0,692.0 470.0,693.4 470.6,693.0 471.0,695.8 471.2,694.5 471.8,697.7 472.0,696.2 472.4,698.8 473.0,699.2 473.0,700.8 473.6,700.7 474.0,702.9 474.2,702.2 474.8,705.7 475.0,705.1 475.4,707.3 476.0,708.4 476.0,709.3 476.6,711.0 477.0,713.2 477.2,713.3 477.8,716.3 478.0,716.8 478.4,718.9 479.0,721.1 479.0,721.4 479.6,723.8 480.0,725.6 481.0,730.0 481.9,733.8 482.0,734.2 483.0,738.4 484.0,742.7 485.0,747.1 486.0,751.5 487.0,756.1 488.0,760.7 488.4,762.6 489.0,765.8 490.0,771.8 491.0,777.6 492.0,781.6 492.3,782.2 493.0,783.2 494.0,784.2 495.0,785.0 496.0,785.6 497.0,786.1 498.0,786.7 499.0,787.4 500.0,788.4 500.2,788.7 501.0,789.9 502.0,791.9 503.0,794.3 504.0,797.2 505.0,800.5 506.0,804.2 507.0,808.1 508.0,812.3 509.0,818.1 510.0,826.1 511.0,834.6 512.0,842.4 513.0,848.0 513.3,849.0 514.0,850.8 515.0,853.0 516.0,854.8 517.0,856.2 518.0,857.5 518.5,858.1 519.0,858.7 520.0,859.6 521.0,860.4 522.0,861.1 523.0,861.8 524.0,862.5 525.0,863.3 526.0,864.3 526.4,864.7 527.0,865.4 528.0,866.7 529.0,868.2 530.0,869.8 531.0,871.6 532.0,873.5 533.0,875.4 534.0,877.4 535.0,879.4 536.0,881.4 537.0,883.4 538.0,885.4 539.0,887.3 539.5,888.2 540.0,889.1 541.0,890.9 542.0,892.6 543.0,894.3 544.0,896.0 545.0,897.6 546.0,899.4 547.0,901.1 548.0,902.9 549.0,904.7 550.0,906.6 551.0,908.6 552.0,910.7 552.5,911.8 553.0,912.9 554.0,915.4 555.0,918.1 556.0,920.9 557.0,923.9 558.0,926.9 559.0,929.8 560.0,932.8 561.0,935.6 562.0,938.2 563.0,940.6 564.0,943.1 565.0,945.8 566.0,948.2 567.0,950.1 568.0,951.0 568.2,951.0 569.0,950.8 570.0,950.3 571.0,949.3 572.0,948.1 573.0,946.7 574.0,945.2 575.0,943.7 576.0,942.1 577.0,940.7 578.0,939.5 579.0,938.6 580.0,938.0 581.0,937.7 582.0,937.4 583.0,937.1 584.0,936.9 585.0,936.8 586.0,936.6 587.0,936.5 588.0,936.3 589.0,936.1 590.0,935.9 591.0,935.6 591.8,935.3 592.0,935.2 593.0,934.8 594.0,934.2 595.0,933.5 596.0,932.7 597.0,931.8 598.0,930.8 599.0,929.8 600.0,928.6 601.0,927.2 602.0,925.3 603.0,923.1 604.0,920.6 605.0,917.9 606.0,915.0 607.0,911.9 608.0,908.8 609.0,905.7 610.0,902.7 611.0,899.8 612.0,897.0 612.8,895.0 613.0,894.5 614.0,892.1 615.0,889.7 616.0,887.3 617.0,884.9 618.0,882.5 619.0,880.1 620.0,877.8 621.0,875.5 622.0,873.3 623.0,871.1 624.0,869.0 625.0,866.9 626.0,864.9 627.0,862.9 627.5,862.0 628.0,861.1 629.0,859.3 630.0,857.5 631.0,855.8 632.0,854.1 633.0,852.4 634.0,850.8 635.0,849.2 636.0,847.7 637.0,846.1 638.0,844.6 639.0,843.1 640.0,841.6 641.0,840.2 642.0,838.7 643.0,837.3 644.0,835.9 645.0,834.4 645.8,833.3 646.0,833.0 647.0,831.6 648.0,830.3 649.0,829.1 650.0,827.9 651.0,826.7 652.0,825.5 653.0,824.4 654.0,823.2 655.0,822.1 656.0,820.9 657.0,819.7 658.0,818.5 659.0,817.2 660.0,815.8 661.0,814.4 662.0,812.9 663.0,811.4 664.0,809.7 664.1,809.5 665.0,807.8 666.0,805.7 667.0,803.4 668.0,800.9 669.0,798.3 670.0,795.7 671.0,793.1 672.0,790.6 673.0,788.2 673.3,787.5 674.0,785.9 675.0,783.7 676.0,781.4 677.0,779.2 678.0,777.0 679.0,774.8 680.0,772.7 681.0,770.5 682.0,768.4 683.0,766.3 684.0,764.3 685.0,762.2 686.0,760.2 687.0,758.2 688.0,756.3 689.0,754.4 690.0,752.5 691.0,750.6 692.0,748.7 693.0,746.8 694.0,745.0 695.0,743.1 696.0,741.4 697.0,739.6 698.0,737.9 699.0,736.2 700.0,734.6 701.0,733.0 702.0,731.5 702.6,730.6 703.0,730.0 704.0,728.6 705.0,727.3 706.0,725.9 707.0,724.7 708.0,723.4 709.0,722.2 710.0,721.0 711.0,719.8 712.0,718.6 713.0,717.5 714.0,716.3 715.0,715.1 716.0,713.9 717.0,712.7 717.3,712.3 718.0,711.4 719.0,710.1 720.0,708.7 721.0,707.3 722.0,705.9 723.0,704.5 724.0,703.0 725.0,701.7 726.0,700.3 727.0,699.0 728.0,697.8 729.0,696.7 730.0,695.7 731.0,694.8 732.0,694.0 733.0,693.3 734.0,692.6 735.0,691.9 736.0,691.2 737.0,690.7 738.0,690.2 739.0,689.8 740.0,689.5 741.0,689.4 741.1,689.4 742.0,689.5 743.0,689.8 744.0,690.2 745.0,690.7 746.0,691.4 747.0,692.0 748.0,692.7 748.5,693.1 749.0,693.5 750.0,694.3 751.0,695.2 752.0,696.3 753.0,697.4 754.0,698.7 755.0,700.0 756.0,701.4 757.0,702.9 758.0,704.4 759.0,706.0 759.5,706.8 760.0,707.6 761.0,709.4 762.0,711.3 763.0,713.4 764.0,715.5 765.0,717.8 766.0,720.3 767.0,722.8 768.0,725.4 768.6,727.0 769.0,728.1 770.0,730.8 771.0,733.8 772.0,737.0 773.0,740.7 774.0,744.8 774.1,745.3 775.0,751.1 776.0,758.8 776.9,763.6 777.0,763.9 778.0,766.6 779.0,768.9 780.0,770.8 781.0,772.4 782.0,773.6 783.0,774.4 783.3,774.6 784.0,775.0 785.0,775.5 786.0,775.9 787.0,776.2 788.0,776.4 788.8,776.5 789.0,776.5 790.0,775.1 791.0,772.3 792.0,769.1 793.0,766.3 793.4,765.5 794.0,764.5 795.0,763.0 796.0,761.7 797.0,760.5 798.0,759.4 799.0,758.2 800.0,757.0 801.0,755.5 801.6,754.5 802.0,753.7 803.0,751.2 804.0,748.3 805.0,745.4 806.0,743.0 807.0,741.7 807.1,741.6 808.0,741.2 809.0,740.9 810.0,740.8 811.0,740.5 812.0,740.2 812.6,739.8 813.0,738.9 814.0,732.8 815.0,725.4 815.4,723.3 816.0,720.8 817.0,717.1 818.0,713.7 819.0,710.9 820.0,708.7 821.0,706.8 822.0,705.1 823.0,703.4 824.0,701.9 825.0,700.5 826.0,699.2 827.0,697.9 828.0,696.8 829.0,695.7 830.0,694.6 831.0,693.6 832.0,692.7 833.0,691.8 834.0,690.8 834.6,690.3 835.0,689.9 836.0,689.1 837.0,688.2 838.0,687.4 839.0,686.6 840.0,685.8 841.0,685.0 842.0,684.3 843.0,683.6 844.0,682.9 845.0,682.3 846.0,681.7 847.0,681.1 848.0,680.5 849.0,680.0 850.0,679.5 851.0,679.0 852.0,678.6 853.0,678.2 854.0,677.8 855.0,677.4 856.0,677.0 857.0,676.6 858.0,676.3 859.0,675.9 860.0,675.6 861.0,675.3 862.0,675.0 863.0,674.7 864.0,674.4 865.0,674.1 866.0,673.8 867.0,673.5 868.0,673.2 869.0,672.9 870.0,672.6 871.0,672.2 872.0,671.9 873.0,671.6 874.0,671.3 875.0,670.9 876.0,670.6 877.0,670.2 877.5,670.0 878.0,669.8 879.0,669.4 880.0,669.0 881.0,668.6 882.0,668.1 883.0,667.7 884.0,667.2 885.0,666.8 886.0,666.3 887.0,665.8 888.0,665.4 889.0,664.9 890.0,664.5 891.0,664.0 892.0,663.6 893.0,663.1 894.0,662.7 895.0,662.3 896.0,661.9 897.0,661.5 897.7,661.3 898.0,661.2 899.0,660.9 900.0,660.5 901.0,660.2 902.0,659.8 903.0,659.5 904.0,659.2 905.0,658.9 906.0,658.6 907.0,658.3 908.0,658.0 909.0,657.7 910.0,657.4 911.0,657.1 912.0,656.8 913.0,656.5 914.0,656.3 915.0,656.0 916.0,655.7 917.0,655.5 918.0,655.2 919.0,655.0 920.0,654.7 921.0,654.5 922.0,654.2 923.0,654.0 923.3,653.9 924.0,653.7 925.0,653.5 926.0,653.3 927.0,653.0 928.0,652.8 929.0,652.6 930.0,652.3 931.0,652.1 932.0,651.9 933.0,651.7 934.0,651.4 935.0,651.2 936.0,651.0 937.0,650.8 938.0,650.6 939.0,650.4 940.0,650.2 941.0,650.0 942.0,649.8 943.0,649.6 944.0,649.5 945.0,649.3 946.0,649.1 947.0,649.0 948.0,648.8 949.0,648.6 950.0,648.5 950.8,648.4 951.0,648.4 952.0,648.2 953.0,648.1 954.0,648.0 955.0,647.9 956.0,647.8 957.0,647.7 958.0,647.6 959.0,647.5 960.0,647.4 961.0,647.3 962.0,647.2 963.0,647.2 964.0,647.1 965.0,647.0 966.0,646.9 967.0,646.8 968.0,646.7 969.0,646.6 970.0,646.6 971.0,646.5 972.0,646.4 973.0,646.3 974.0,646.2 975.0,646.1 976.0,646.0 977.0,645.9 978.0,645.7 978.3,645.7 979.0,645.6 980.0,645.5 981.0,645.3 982.0,645.2 983.0,645.1 984.0,644.9 985.0,644.7 986.0,644.6 987.0,644.4 988.0,644.3 989.0,644.1 990.0,643.9 991.0,643.7 992.0,643.6 993.0,643.4 994.0,643.2 995.0,643.0 996.0,642.8 997.0,642.7 998.0,642.5 999.0,642.3 1000.0,642.1 1001.0,641.9 1002.0,641.8 1003.0,641.6 1004.0,641.4 1005.0,641.2 1005.8,641.1 1006.0,641.1 1007.0,640.9 1008.0,640.7 1009.0,640.5 1010.0,640.3 1011.0,640.1 1012.0,639.9 1013.0,639.7 1014.0,639.4 1015.0,639.2 1016.0,639.0 1017.0,638.8 1018.0,638.6 1019.0,638.3 1020.0,638.1 1021.0,637.9 1022.0,637.7 1023.0,637.5 1024.0,637.4 1025.0,637.2 1026.0,637.1 1027.0,636.9 1028.0,636.8 1029.0,636.7 1030.0,636.6 1031.0,636.6 1032.0,636.5 1033.0,636.5 1033.3,636.5 1034.0,636.5 1035.0,636.5 1036.0,636.5 1037.0,636.5 1038.0,636.5 1039.0,636.5 1040.0,636.5 1040.6,636.6 1041.0,636.4 1041.2,636.6 1041.8,636.4 1042.0,636.6 1042.4,636.4 1043.0,636.8 1043.0,636.1 1043.6,636.8 1044.0,636.2 1044.2,636.9 1044.3,636.2 1044.8,637.1 1045.0,636.8 1045.4,638.5 1046.0,639.3 1046.0,640.2 1046.6,641.2 1047.0,644.1 1047.2,643.6 1047.8,647.3 1048.0,647.1 1048.4,649.8 1049.0,651.0 1049.0,652.1 1049.6,652.8 1049.8,654.7 1050.0,653.7 1050.2,655.3 1050.8,655.7 1051.0,657.8 1051.4,656.9 1052.0,659.9 1052.0,658.8 1052.6,661.2 1053.0,661.0 1053.2,662.4 1053.8,661.9 1054.0,664.0 1054.4,662.9 1055.0,664.7 1055.0,663.1 1055.3,664.8 1055.6,663.1 1056.0,664.4 1056.2,662.5 1056.8,662.5 1057.0,660.7 1057.4,661.3 1058.0,658.2 1058.0,659.2 1058.6,656.0 1058.9,656.4 1059.0,654.6 1059.2,655.2 1059.8,650.4 1060.0,650.8 1060.4,647.8 1060.8,648.1 1061.0,647.0 1061.0,648.2 1061.6,649.2 1062.0,652.3 1062.2,652.1 1062.8,656.5 1063.0,655.9 1063.4,658.2 1063.5,656.9 1064.0,658.1 1064.0,656.7 1064.6,658.0 1065.0,656.5 1065.2,658.2 1065.8,656.3 1066.0,657.9 1066.4,656.4 1067.0,657.4 1067.0,655.9 1067.6,657.3 1068.0,655.7 1068.2,656.7 1068.8,655.4 1069.0,656.4 1069.4,654.8 1070.0,656.0 1070.0,654.6 1070.6,655.3 1071.0,653.9 1071.2,654.7 1071.8,653.0 1072.0,654.5 1072.4,652.7 1073.0,653.2 1073.0,651.8 1073.6,652.8 1073.6,651.6 1074.0,652.4 1074.2,650.3 1074.8,650.9 1075.0,648.6 1075.4,649.4 1076.0,646.2 1076.0,647.7 1076.6,644.3 1077.0,644.3 1077.2,642.6 1077.8,642.6 1078.0,640.4 1078.4,641.0 1079.0,638.6 1079.0,640.2 1079.1,638.8 1079.6,639.5 1080.0,637.6 1080.2,638.7 1080.8,637.1 1081.0,638.1 1081.4,636.8 1082.0,637.8 1082.0,636.3 1082.6,637.3 1083.0,635.5 1083.2,636.8 1083.8,635.4 1084.0,636.2 1084.4,634.9 1085.0,635.7 1085.0,634.9 1085.6,635.3 1086.0,634.4 1086.2,635.0 1086.8,634.2 1087.0,634.7 1087.4,633.9 1088.0,634.2 1088.0,633.7 1088.3,634.0 1088.6,633.5 1089.0,633.6 1089.2,633.4 1089.8,633.2 1090.0,633.1 1091.0,632.7 1092.0,632.3 1093.0,631.9 1094.0,631.5 1095.0,631.2 1096.0,630.9 1097.0,630.6 1098.0,630.4 1099.0,630.2 1100.0,630.1 1101.0,630.0 1102.0,629.9 1103.0,629.9 1104.0,629.8 1105.0,629.7 1106.0,629.6 1107.0,629.6 1108.0,629.5 1109.0,629.5 1110.0,629.4 1111.0,629.3 1112.0,629.3 1113.0,629.2 1114.0,629.2 1115.0,629.2 1116.0,629.1 1117.0,629.1 1118.0,629.0 1119.0,629.0 1120.0,629.0 1121.0,629.0 1122.0,628.9 1123.0,628.9 1124.0,628.9 1125.0,628.9 1126.0,628.9 1127.0,628.9 1127.5,628.9 1128.0,628.9 1129.0,628.9 1130.0,628.9 1131.0,628.9 1132.0,628.9 1133.0,629.0 1134.0,629.0 1135.0,629.0 1136.0,629.1 1137.0,629.1 1138.0,629.2 1139.0,629.2 1140.0,629.3 1140.6,629.3 1141.0,629.4 1141.2,629.3 1141.8,629.6 1142.0,629.2 1142.4,629.6 1143.0,629.2 1143.0,629.9 1143.6,629.2 1144.0,630.1 1144.2,629.4 1144.8,630.2 1145.0,629.3 1145.4,630.1 1146.0,629.3 1146.0,630.3 1146.6,629.1 1147.0,630.4 1147.2,629.3 1147.8,630.6 1148.0,629.2 1148.4,630.8 1149.0,629.7 1149.0,631.0 1149.5,629.4 1149.6,630.7 1150.0,629.7 1150.2,631.4 1150.8,630.1 1151.0,631.8 1151.4,631.1 1152.0,633.3 1152.0,631.5 1152.6,633.7 1153.0,632.7 1153.2,634.4 1153.8,633.2 1154.0,634.7 1154.1,632.9 1154.4,634.2 1155.0,630.8 1155.0,632.3 1155.6,627.9 1156.0,627.3 1156.2,625.3 1156.8,625.6 1156.8,624.2 1157.0,625.4 1157.4,624.0 1158.0,625.7 1158.0,624.2 1158.6,625.5 1159.0,624.2 1159.2,625.7 1159.8,624.3 1160.0,625.7 1160.4,624.0 1161.0,625.3 1161.0,624.2 1161.6,625.4 1162.0,624.2 1162.2,625.8 1162.8,624.2 1163.0,625.9 1163.4,624.0 1164.0,625.5 1164.0,624.5 1164.6,625.9 1165.0,624.5 1165.2,625.7 1165.8,624.2 1166.0,625.9 1166.4,624.7 1167.0,626.0 1167.0,624.6 1167.6,626.2 1168.0,624.8 1168.2,626.1 1168.8,625.0 1169.0,626.4 1169.4,624.6 1169.6,626.0 1170.0,624.8 1170.0,626.7 1170.6,625.0 1171.0,627.0 1171.2,625.7 1171.8,627.7 1172.0,626.2 1172.4,628.1 1173.0,626.9 1173.0,628.5 1173.6,627.4 1174.0,629.7 1174.2,628.3 1174.8,630.2 1175.0,628.8 1175.4,630.8 1176.0,629.7 1176.0,631.2 1176.6,630.6 1177.0,632.0 1177.2,630.9 1177.8,632.5 1178.0,631.3 1178.4,632.5 1178.8,631.4 1179.0,632.5 1179.0,631.4 1179.6,632.6 1180.0,631.0 1180.2,632.6 1180.8,631.1 1181.0,632.7 1181.4,631.0 1182.0,632.1 1182.0,630.8 1182.6,632.3 1183.0,630.7 1183.2,632.1 1183.8,630.4 1184.0,631.7 1184.4,630.1 1185.0,631.4 1185.0,630.2 1185.6,631.1 1186.0,630.0 1186.2,631.3 1186.8,629.4 1187.0,631.1 1187.4,629.4 1188.0,630.6 1188.0,629.1 1188.6,630.2 1189.0,628.9 1189.2,630.3 1189.8,628.8 1190.0,630.0 1190.4,628.8 1191.0,629.8 1191.0,628.6 1191.6,629.8 1191.6,628.9 1192.0,630.3 1192.2,628.4 1192.8,629.9 1193.0,628.6 1193.4,629.9 1194.0,628.4 1194.0,630.0 1194.6,628.5 1195.0,630.3 1195.2,629.1 1195.8,630.0 1196.0,628.9 1196.4,630.0 1197.0,628.7 1197.0,630.7 1197.6,629.0 1198.0,630.4 1198.2,629.3 1198.8,630.4 1199.0,629.2 1199.4,630.5 1200.0,629.6 1200.0,630.9 1200.6,629.2 1201.0,631.0 1201.2,629.3 1201.8,631.2 1202.0,629.7 1202.4,631.0 1203.0,630.0 1203.0,631.4 1203.6,629.9 1204.0,631.6 1204.2,630.0 1204.8,631.7 1205.0,629.9 1205.4,631.6 1206.0,630.0 1206.0,631.7 1206.6,630.5 1207.0,631.9 1207.2,630.5 1207.8,631.8 1208.0,630.3 1208.4,631.9 1209.0,630.6 1209.0,631.9 1209.6,630.2 1210.0,631.7 1210.2,630.3 1210.8,631.7 1211.0,630.2 1211.4,631.9 1212.0,630.2 1212.0,631.3 1212.6,629.8 1213.0,631.4 1213.2,630.1 1213.8,631.3 1214.0,629.7 1214.4,630.7 1215.0,629.4 1215.0,630.8 1215.6,629.2 1216.0,630.1 1216.2,629.1 1216.8,629.9 1217.0,628.4 1217.4,629.7 1218.0,628.2 1218.0,629.7 1218.6,627.8 1219.0,629.4 1219.1,627.5 1219.2,629.3 1219.8,627.4 1220.0,628.9 1220.4,626.8 1221.0,627.9 1221.0,626.8 1221.6,627.9 1222.0,626.3 1222.2,627.1 1222.8,625.6 1223.0,626.6 1223.4,625.4 1224.0,625.9 1224.0,624.6 1224.6,625.5 1225.0,623.9 1225.2,625.5 1225.8,623.8 1226.0,624.8 1226.4,623.6 1227.0,624.5 1227.0,623.1 1227.6,624.6 1228.0,623.4 1228.2,624.8 1228.3,622.8 1228.8,624.8 1229.0,623.2 1229.4,624.5 1230.0,623.0 1230.0,624.3 1230.6,623.2 1231.0,624.5 1231.2,623.0 1231.8,624.3 1232.0,623.0 1232.4,624.4 1233.0,623.0 1233.0,624.7 1233.6,623.5 1234.0,624.6 1234.2,623.1 1234.8,624.6 1235.0,623.2 1235.4,625.1 1236.0,623.6 1236.0,625.0 1236.6,623.5 1237.0,625.2 1237.2,623.8 1237.8,625.0 1238.0,623.6 1238.4,624.9 1239.0,623.9 1239.0,625.3 1239.6,623.7 1240.0,625.3 1240.2,623.6 1240.8,625.1 1241.0,623.6 1241.4,625.2 1242.0,623.7 1242.0,625.5 1242.6,623.8 1243.0,625.4 1243.2,623.8 1243.8,625.3 1244.0,623.9 1244.4,625.2 1244.8,623.9 1245.0,625.7 1245.0,623.7 1245.6,625.1 1246.0,623.4 1246.2,625.0 1246.8,623.1 1247.0,624.2 1247.4,622.5 1248.0,623.3 1248.0,621.6 1248.6,622.8 1249.0,621.0 1249.2,622.2 1249.8,619.9 1250.0,621.5 1250.4,619.6 1251.0,620.5 1251.0,619.0 1251.6,619.9 1252.0,618.7 1252.1,620.1 1252.2,618.8 1252.8,619.6 1253.0,618.4 1253.4,619.6 1254.0,618.2 1254.0,619.4 1254.6,618.0 1255.0,619.5 1255.2,618.0 1255.8,619.7 1256.0,618.2 1256.4,619.3 1257.0,618.0 1257.0,619.1 1257.6,617.8 1258.0,619.2 1258.2,618.0 1258.8,619.1 1259.0,617.7 1259.4,618.8 1260.0,617.7 1260.0,618.7 1260.6,617.7 1261.0,618.7 1261.2,617.9 1261.8,618.5 1262.0,617.8 1262.4,618.4 1263.0,617.9 1263.0,618.3 1263.6,617.9 1264.0,618.1 1264.2,617.9 1264.8,618.0 1265.0,618.0 1266.0,617.9 1267.0,617.9 1268.0,617.8 1269.0,617.8 1270.0,617.7 1271.0,617.6 1272.0,617.6 1273.0,617.5 1274.0,617.4 1274.1,617.4 1275.0,617.3 1276.0,617.2 1277.0,617.1 1278.0,617.0 1279.0,616.9 1280.0,616.7 1281.0,616.6 1282.0,616.5 1283.0,616.3 1284.0,616.2 1285.0,616.1 1285.6,615.9 1286.0,616.0 1286.2,615.7 1286.8,616.0 1287.0,615.5 1287.4,616.0 1288.0,615.3 1288.0,616.0 1288.6,614.9 1289.0,616.1 1289.2,615.1 1289.8,616.3 1290.0,614.4 1290.4,616.3 1291.0,614.8 1291.0,616.5 1291.6,614.5 1292.0,616.5 1292.2,613.8 1292.8,616.4 1293.0,614.3 1293.4,616.1 1294.0,614.2 1294.0,616.5 1294.6,614.2 1295.0,616.0 1295.2,613.4 1295.8,616.4 1296.0,613.7 1296.4,615.6 1297.0,613.2 1297.0,615.7 1297.6,613.5 1298.0,615.4 1298.2,613.7 1298.8,616.3 1299.0,613.2 1299.4,616.0 1300.0,613.4 1300.0,615.4 1300.6,613.7 1301.0,616.3 1301.2,613.8 1301.6,616.0 1301.8,613.5 1302.0,616.0 1302.4,613.8 1303.0,615.4 1303.0,613.4 1303.6,615.6 1304.0,613.2 1304.2,616.3 1304.8,613.8 1305.0,615.6 1305.4,613.8 1306.0,615.8 1306.0,613.8 1306.6,616.0 1307.0,613.7 1307.2,616.0 1307.8,613.2 1308.0,616.3 1308.4,613.9 1309.0,615.8 1309.0,613.6 1309.6,616.0 1310.0,614.1 1310.2,616.3 1310.8,613.4 1311.0,616.0 1311.4,614.1 1312.0,616.3 1312.0,614.1 1312.6,615.6 1313.0,613.6 1313.1,616.0 1313.2,613.2 1313.8,615.8 1314.0,614.0 1314.4,615.9 1315.0,613.3 1315.0,616.2 1315.6,614.1 1316.0,615.6 1316.2,613.1 1316.8,615.9 1317.0,613.6 1317.4,615.4 1318.0,613.6 1318.0,615.2 1318.6,612.9 1319.0,616.1 1319.2,613.2 1319.8,615.8 1320.0,613.5 1320.4,615.2 1321.0,612.8 1321.0,615.5 1321.6,612.8 1322.0,614.8 1322.2,612.4 1322.8,614.9 1323.0,612.5 1323.4,615.4 1324.0,613.0 1324.0,614.9 1324.6,612.4 1325.0,615.4 1325.2,612.3 1325.8,614.8 1326.0,612.2 1326.4,614.8 1327.0,612.8 1327.0,614.5 1327.5,612.3 1327.6,615.0 1328.0,612.5 1328.2,614.5 1328.8,612.9 1329.0,615.1 1329.4,612.7 1330.0,615.0 1330.0,612.0 1330.6,615.2 1331.0,612.4 1331.2,614.4 1331.8,612.3 1332.0,615.4 1332.4,612.7 1333.0,615.3 1333.0,612.5 1333.6,615.2 1334.0,612.3 1334.2,614.8 1334.8,612.6 1335.0,614.6 1335.4,613.0 1336.0,614.8 1336.0,612.5 1336.6,615.0 1337.0,612.4 1337.2,615.3 1337.8,612.4 1338.0,615.5 1338.4,612.9 1339.0,614.9 1339.0,612.9 1339.6,615.3 1340.0,613.4 1340.2,615.0 1340.6,612.5 1340.8,615.7 1341.0,613.2 1341.4,615.0 1342.0,613.4 1342.0,615.6 1342.6,612.7 1343.0,615.2 1343.2,613.1 1343.8,616.3 1344.0,613.0 1344.4,616.0 1345.0,613.3 1345.0,616.2 1345.6,614.3 1346.0,616.0 1346.2,613.5 1346.8,616.0 1347.0,614.5 1347.4,616.7 1348.0,614.0 1348.0,616.7 1348.6,614.5 1349.0,617.6 1349.2,614.5 1349.7,616.9 1349.8,614.9 1350.0,617.1 1350.4,614.9 1351.0,618.4 1351.0,615.3 1351.6,618.6 1352.0,617.1 1352.2,618.9 1352.8,617.9 1353.0,620.3 1353.4,617.8 1354.0,621.2 1354.0,618.6 1354.6,621.8 1355.0,620.3 1355.2,622.8 1355.8,621.4 1356.0,623.6 1356.4,622.7 1357.0,625.5 1357.0,623.4 1357.6,627.1 1358.0,625.1 1358.2,628.5 1358.8,627.7 1359.0,629.8 1359.4,628.6 1360.0,632.9 1360.0,630.6 1360.2,633.1 1360.6,631.3 1361.0,635.8 1361.2,634.0 1361.8,638.0 1362.0,635.9 1362.4,640.2 1363.0,640.1 1363.0,641.9 1363.6,641.6 1364.0,644.5 1364.1,642.0 1364.2,645.4 1364.8,643.4 1365.0,646.9 1365.4,644.5 1366.0,648.3 1366.0,645.6 1366.6,649.4 1367.0,647.2 1367.2,649.9 1367.8,648.2 1368.0,651.1 1368.4,648.9 1369.0,652.1 1369.0,650.1 1369.4,652.7 1369.6,650.1 1370.0,653.4 1370.2,651.2 1370.8,653.9 1371.0,651.3 1371.4,654.8 1372.0,652.2 1372.0,654.7 1372.6,652.5 1373.0,655.5 1373.2,653.1 1373.8,656.3 1374.0,653.6 1374.4,655.8 1375.0,654.4 1375.0,656.8 1375.6,654.0 1375.9,656.9 1376.0,654.0 1376.2,656.7 1376.8,653.5 1377.0,656.6 1377.4,653.7 1378.0,655.6 1378.0,652.4 1378.6,654.2 1379.0,651.7 1379.2,653.8 1379.8,650.6 1380.0,653.1 1380.4,650.4 1381.0,651.1 1381.0,648.9 1381.2,651.2 1381.6,648.7 1382.0,650.2 1382.2,647.5 1382.8,649.7 1383.0,647.5 1383.4,649.4 1384.0,645.7 1384.0,648.0 1384.6,645.5 1385.0,646.5 1385.2,644.0 1385.8,645.7 1386.0,643.8 1386.4,645.5 1387.0,643.0 1387.0,645.1 1387.6,641.9 1388.0,644.3 1388.2,641.8 1388.8,643.5 1389.0,641.0 1389.4,644.1 1389.7,641.1 1390.0,644.0 1390.0,641.6 1390.6,643.9 1391.0,641.5 1391.2,643.4 1391.8,641.7 1392.0,644.0 1392.4,641.6 1393.0,643.3 1393.0,641.4 1393.6,643.5 1394.0,640.9 1394.2,643.2 1394.2,641.6 1394.8,643.3 1395.0,640.9 1395.4,644.1 1396.0,641.1 1396.0,643.9 1396.6,642.2 1397.0,644.4 1397.2,642.2 1397.8,644.3 1398.0,642.6 1398.4,645.2 1399.0,642.9 1399.0,645.6 1399.6,643.2 1400.0,646.1 1400.2,643.7 1400.8,646.8 1401.0,644.1 1401.4,647.2 1402.0,645.2 1402.0,647.1 1402.1,644.8 1402.6,648.0 1403.0,645.6 1403.2,648.3 1403.8,647.3 1404.0,649.7 1404.4,647.9 1405.0,651.0 1405.0,648.8 1405.6,651.1 1406.0,650.1 1406.2,652.0 1406.8,650.5 1407.0,653.0 1407.4,651.8 1408.0,654.7 1408.0,652.2 1408.6,655.5 1408.6,652.9 1409.0,655.3 1409.2,653.9 1409.8,656.8 1410.0,654.6 1410.4,656.8 1411.0,655.7 1411.0,657.4 1411.6,655.8 1412.0,658.5 1412.2,656.6 1412.8,659.4 1413.0,657.2 1413.4,660.4 1414.0,657.9 1414.0,659.9 1414.6,657.9 1415.0,660.4 1415.2,658.5 1415.2,660.9 1415.8,658.5 1416.0,660.4 1416.4,658.2 1417.0,660.8 1417.0,657.9 1417.6,660.4 1418.0,658.5 1418.2,659.9 1418.8,658.3 1419.0,660.8 1419.4,657.9 1420.0,660.1 1420.0,657.6 1420.6,660.0 1421.0,657.9 1421.2,660.1 1421.8,657.8 1422.0,659.6 1422.4,657.8 1423.0,659.7 1423.0,656.9 1423.6,659.3 1424.0,657.4 1424.2,659.2 1424.3,657.3 1424.8,658.9 1425.0,656.5 1425.4,659.0 1426.0,656.2 1426.0,658.6 1426.6,655.8 1427.0,658.1 1427.2,655.7 1427.8,657.2 1428.0,654.8 1428.4,657.2 1429.0,654.3 1429.0,657.4 1429.6,654.5 1430.0,656.9 1430.2,654.3 1430.8,656.9 1430.9,653.7 1431.0,656.1 1431.4,653.8 1432.0,656.3 1432.0,654.5 1432.6,656.8 1433.0,654.5 1433.2,656.6 1433.8,654.6 1434.0,656.1 1434.4,654.2 1435.0,656.2 1435.0,653.8 1435.6,656.1 1436.0,654.6 1436.2,657.0 1436.8,654.5 1437.0,656.7 1437.4,654.7 1438.0,656.8 1438.0,654.2 1438.6,656.9 1439.0,654.0 1439.2,656.8 1439.8,654.2 1440.0,656.7 1440.4,654.0 1441.0,656.8 1441.0,654.4 1441.6,657.1 1442.0,655.1 1442.2,658.2 1442.8,656.9 1443.0,658.9 1443.4,657.5 1444.0,660.0 1444.0,658.1 1444.6,661.2 1445.0,659.2 1445.2,661.7 1445.8,660.2 1446.0,662.6 1446.4,660.2 1446.6,662.0 1447.0,659.7 1447.0,661.9 1447.6,659.2 1448.0,661.1 1448.2,657.9 1448.8,659.7 1449.0,656.6 1449.4,657.8 1450.0,654.0 1450.0,656.1 1450.6,652.2 1451.0,653.2 1451.2,650.5 1451.8,651.8 1451.8,648.9 1452.0,651.3 1452.4,647.7 1453.0,648.4 1453.0,645.7 1453.6,646.8 1454.0,644.0 1454.2,645.1 1454.8,641.3 1455.0,643.4 1455.4,640.0 1456.0,641.9 1456.0,638.9 1456.6,640.7 1457.0,638.1 1457.1,640.6 1457.2,638.6 1457.8,641.4 1458.0,638.8 1458.4,641.2 1459.0,639.2 1459.0,641.1 1459.6,639.4 1460.0,641.6 1460.2,640.2 1460.8,642.5 1461.0,640.4 1461.4,643.2 1462.0,640.8 1462.0,643.0 1462.6,641.3 1463.0,643.9 1463.2,640.9 1463.6,643.7 1463.8,641.5 1464.0,643.5 1464.4,641.1 1465.0,641.6 1465.0,639.7 1465.6,640.1 1466.0,637.6 1466.2,639.0 1466.8,634.6 1467.0,636.4 1467.4,632.9 1468.0,633.9 1468.0,632.0 1468.6,633.2 1468.8,630.4 1469.0,633.0 1469.2,630.3 1469.8,631.8 1470.0,630.0 1470.4,631.5 1471.0,628.8 1471.0,631.8 1471.6,628.2 1472.0,631.1 1472.2,628.0 1472.8,630.7 1473.0,627.8 1473.4,629.6 1474.0,627.8 1474.0,629.4 1474.6,626.9 1475.0,629.5 1475.2,627.2 1475.8,628.7 1476.0,626.8 1476.4,629.0 1476.7,625.8 1477.0,628.5 1477.0,625.8 1477.6,627.9 1478.0,625.4 1478.2,627.2 1478.8,624.8 1479.0,627.1 1479.4,624.2 1480.0,625.9 1480.0,623.5 1480.6,626.2 1481.0,623.2 1481.2,625.4 1481.8,623.0 1482.0,625.4 1482.4,623.1 1483.0,625.2 1483.0,622.6 1483.5,625.3 1483.6,622.6 1484.0,625.2 1484.2,622.2 1484.8,625.4 1485.0,623.5 1485.4,625.1 1486.0,623.7 1486.0,625.9 1486.6,623.9 1487.0,626.7 1487.2,624.7 1487.8,627.1 1488.0,625.0 1488.4,628.1 1489.0,625.9 1489.0,629.1 1489.6,626.5 1490.0,630.0 1490.2,628.2 1490.8,630.8 1491.0,628.9 1491.4,631.6 1492.0,631.1 1492.0,633.2 1492.6,631.7 1493.0,634.7 1493.2,633.8 1493.8,637.0 1494.0,635.4 1494.1,637.3 1494.4,637.1 1495.0,641.1 1495.0,639.6 1495.6,644.8 1496.0,645.5 1496.2,647.9 1496.8,650.1 1497.0,651.8 1497.3,652.0 1497.4,653.0 1498.0,654.0 1498.0,654.6 1498.6,655.5 1499.0,656.8 1499.2,656.9 1499.8,658.2 1500.0,658.6 1501.0,660.3 1502.0,661.8 1503.0,663.3 1504.0,664.8 1505.0,666.3 1505.1,666.5 1506.0,667.9 1507.0,669.5 1508.0,671.0 1509.0,672.4 1510.0,673.9 1511.0,675.3 1512.0,676.8 1513.0,678.2 1514.0,679.8 1514.6,680.7 1515.0,681.4 1516.0,683.3 1517.0,685.5 1518.0,687.8 1519.0,690.0 1520.0,691.8 1521.0,693.2 1522.0,693.9 1522.4,694.0 1523.0,693.8 1524.0,693.0 1525.0,691.6 1526.0,690.1 1527.0,688.6 1527.1,688.5 1528.0,687.2 1529.0,685.4 1530.0,683.7 1531.0,682.5 1531.8,682.2 1532.0,682.2 1533.0,682.2 1534.0,682.2 1535.0,682.2 1536.0,682.2 1537.0,682.2 1538.0,682.2 1539.0,682.2 1539.7,682.2 1540.0,682.2 1541.0,682.8 1542.0,683.9 1543.0,685.6 1544.0,687.6 1544.4,688.5 1545.0,690.9 1546.0,697.7 1547.0,704.9 1547.5,707.4 1548.0,709.3 1549.0,713.1 1550.0,716.3 1551.0,718.7 1552.0,719.9 1552.2,719.9 1553.0,719.6 1554.0,718.7 1555.0,717.4 1555.4,716.8 1556.0,715.6 1557.0,712.5 1558.0,708.6 1559.0,704.8 1560.0,702.1 1560.9,701.1 1561.0,701.1 1562.0,702.6 1563.0,705.7 1564.0,709.5 1565.0,712.9 1566.0,715.0 1566.4,715.2 1567.0,715.0 1568.0,713.8 1569.0,712.0 1570.0,710.1 1571.0,708.7 1571.9,708.2 1572.0,708.2 1573.0,710.4 1574.0,714.9 1575.0,720.0 1575.8,723.1 1576.0,723.7 1577.0,727.1 1578.0,729.9 1578.9,730.9 1579.0,730.9 1580.0,729.3 1581.0,725.8 1582.0,721.1 1582.9,716.8 1583.0,716.3 1584.0,709.6 1585.0,701.2 1586.0,693.7 1586.8,690.1 1587.0,689.6 1588.0,687.2 1589.0,685.1 1590.0,683.3 1591.0,681.9 1592.0,681.1 1593.0,680.7 1593.1,680.7 1594.0,681.2 1595.0,682.6 1596.0,684.0 1597.0,684.6 1598.0,684.1 1599.0,683.0 1600.0,681.4 1601.0,679.6 1602.0,678.1 1602.5,677.5 1603.0,677.0 1604.0,675.8 1605.0,674.6 1606.0,673.4 1607.0,672.4 1608.0,671.5 1609.0,670.9 1610.0,670.5 1610.4,670.5 1611.0,670.5 1612.0,670.5 1613.0,670.5 1614.0,670.5 1615.0,670.5 1616.0,670.5 1616.6,670.5 1617.0,670.6 1618.0,671.1 1619.0,672.1 1620.0,673.0 1621.0,673.5 1621.4,673.6 1622.0,673.4 1623.0,672.2 1624.0,670.3 1625.0,668.3 1626.0,666.4 1627.0,665.2 1627.6,665.0 1628.0,665.2 1629.0,666.7 1630.0,669.2 1630.8,671.3 1631.0,671.8 1632.0,675.5 1633.0,679.9 1634.0,684.0 1635.0,686.6 1635.5,687.0 1636.0,686.6 1637.0,684.3 1638.0,680.7 1639.0,677.1 1639.4,676.0 1640.0,674.4 1641.0,671.5 1642.0,668.7 1643.0,666.3 1644.0,664.9 1644.6,664.6 1645.0,664.7 1646.0,666.1 1647.0,668.5 1648.0,671.8 1648.6,674.0 1649.0,675.8 1650.0,683.0 1651.0,692.3 1651.8,700.0 1652.0,702.0 1653.0,715.0 1654.0,729.7 1655.0,741.7 1656.0,746.7 1657.0,744.3 1658.0,738.5 1659.0,731.2 1660.0,724.3 1660.4,722.1 1661.0,719.0 1662.0,713.2 1663.0,707.7 1664.0,703.1 1665.0,700.4 1665.5,700.0 1666.0,700.3 1667.0,702.5 1668.0,706.3 1669.0,711.1 1669.8,715.3 1670.0,716.4 1671.0,724.2 1672.0,734.4 1673.0,745.6 1674.0,756.2 1675.0,766.2 1676.0,776.4 1677.0,786.3 1677.4,790.2 1678.0,796.6 1679.0,807.6 1680.0,814.0 1681.0,815.8 1682.0,817.1 1683.0,818.0 1684.0,818.7 1685.0,819.3 1686.0,820.0 1687.0,820.9 1687.7,821.7 1688.0,822.1 1689.0,823.5 1690.0,825.2 1691.0,827.0 1692.0,829.1 1692.8,831.1 1693.0,831.6 1694.0,834.9 1695.0,839.0 1696.0,843.6 1697.0,848.6 1697.9,853.2 1698.0,853.7 1699.0,858.4 1700.0,863.0 1701.0,868.5 1702.0,875.8 1702.8,883.6 1703.0,886.7 1704.0,914.4 1704.4,922.8 1705.0,930.8 1706.0,942.4 1707.0,949.3 1707.5,950.3 1708.0,949.9 1709.0,947.1 1710.0,942.5 1711.0,936.8 1712.0,931.2 1713.0,926.4 1714.0,923.4 1714.6,922.8 1715.0,923.3 1716.0,928.1 1717.0,936.2 1718.0,945.0 1719.0,952.4 1720.0,955.8 1720.1,955.8 1721.0,954.7 1722.0,951.3 1723.0,946.6 1724.0,941.3 1725.0,936.3 1725.6,933.8 1726.0,932.3 1727.0,928.8 1728.0,925.3 1729.0,921.9 1730.0,918.6 1731.0,915.3 1731.1,915.0 1732.0,911.7 1733.0,908.1 1734.0,905.7 1734.2,905.5 1735.0,905.1 1736.0,904.8 1737.0,904.6 1738.0,904.1 1738.2,904.0 1739.0,900.6 1740.0,892.2 1740.5,888.3 1741.0,885.2 1742.0,879.8 1743.0,873.6 1743.7,868.0 1744.0,864.6 1745.0,848.6 1745.5,841.3 1746.0,835.2 1747.0,823.5 1748.0,812.7 1749.0,802.9 1750.0,794.5 1750.6,790.2 1751.0,787.6 1752.0,782.0 1753.0,777.1 1754.0,772.5 1755.0,768.0 1755.7,764.7 1756.0,763.2 1757.0,758.1 1758.0,752.9 1759.0,747.8 1760.0,743.0 1760.9,739.1 1761.0,738.7 1762.0,734.7 1763.0,731.0 1764.0,727.4 1765.0,724.1 1766.0,721.0 1766.8,718.7 1767.0,718.2 1768.0,715.5 1769.0,712.9 1770.0,710.5 1771.0,708.3 1772.0,706.4 1772.8,705.1 1773.0,704.8 1774.0,703.2 1775.0,701.7 1776.0,700.2 1777.0,699.0 1778.0,698.0 1779.0,697.5 1779.6,697.4 1780.0,697.5 1781.0,698.3 1782.0,699.8 1783.0,701.8 1784.0,703.8 1784.7,705.1 1785.0,705.7 1786.0,708.3 1787.0,711.1 1788.0,713.1 1788.6,713.5 1789.0,713.2 1790.0,710.0 1791.0,704.6 1792.0,698.8 1793.0,694.0 1794.0,690.2 1795.0,686.4 1796.0,682.8 1797.0,679.6 1798.0,677.1 1798.8,675.6 1799.0,675.3 1800.0,673.9 1801.0,672.7 1802.0,671.5 1803.0,670.5 1804.0,669.5 1805.0,668.7 1806.0,668.0 1807.0,667.3 1808.0,666.8 1809.0,666.3 1809.3,666.2 1810.0,665.9 1811.0,665.6 1812.0,665.2 1813.0,665.0 1814.0,664.7 1815.0,664.4 1816.0,664.2 1817.0,664.0 1818.0,663.8 1819.0,663.6 1820.0,663.4 1821.0,663.2 1821.9,663.0 1822.0,663.0 1823.0,662.8 1824.0,662.5 1825.0,662.3 1826.0,662.0 1827.0,661.8 1828.0,661.5 1829.0,661.3 1830.0,661.1 1831.0,660.8 1832.0,660.6 1833.0,660.4 1834.0,660.3 1835.0,660.1 1836.0,660.0 1837.0,659.9 1838.0,659.9 1838.6,659.9 1839.0,659.9 1840.0,659.9 1841.0,660.0 1842.0,660.0 1843.0,660.1 1844.0,660.2 1845.0,660.4 1846.0,660.5 1847.0,660.7 1848.0,660.9 1849.0,661.1 1850.0,661.3 1851.0,661.5 1852.0,661.7 1853.0,661.9 1853.3,662.0 1854.0,662.2 1855.0,662.5 1856.0,662.9 1857.0,663.3 1858.0,663.8 1859.0,664.3 1860.0,664.9 1861.0,665.5 1862.0,666.2 1863.0,667.0 1864.0,667.7 1865.0,668.5 1865.9,669.3 1866.0,669.4 1867.0,670.4 1868.0,671.7 1869.0,673.1 1870.0,674.7 1871.0,676.4 1872.0,678.2 1873.0,679.9 1874.0,681.6 1874.2,681.9 1875.0,683.3 1876.0,685.4 1877.0,687.6 1878.0,689.8 1879.0,691.9 1880.0,693.8 1881.0,695.3 1882.0,696.2 1882.6,696.5 1883.0,696.6 1884.0,696.7 1885.0,696.8 1886.0,696.9 1887.0,697.0 1888.0,697.0 1889.0,697.1 1890.0,697.1 1891.0,697.2 1892.0,697.4 1893.0,697.6 1893.1,697.6 1894.0,698.8 1895.0,702.2 1896.0,706.8 1897.0,711.8 1897.3,713.3 1898.0,717.8 1899.0,726.7 1900.0,735.7 1901.0,741.7 1901.5,742.6 1902.0,742.4 1903.0,740.8 1904.0,738.1 1905.0,735.0 1906.0,731.8 1907.0,729.2 1907.7,728.0 1908.0,727.6 1909.0,726.4 1910.0,725.2 1911.0,724.2 1912.0,723.4 1913.0,722.9 1914.0,722.7 1915.0,722.8 1916.0,723.1 1917.0,723.6 1918.0,724.2 1919.0,725.0 1920.0,725.8 1921.0,726.7 1922.0,727.6 1922.4,728.0 1923.0,728.7 1924.0,730.5 1925.0,732.8 1926.0,735.3 1927.0,737.9 1928.0,740.2 1929.0,742.1 1930.0,743.4 1930.8,743.7 1931.0,743.7 1932.0,743.3 1933.0,742.5 1934.0,741.3 1935.0,739.9 1936.0,738.4 1937.0,736.9 1938.0,735.6 1939.0,734.4 1939.2,734.2 1940.0,733.4 1941.0,732.4 1942.0,731.3 1943.0,730.2 1944.0,729.2 1945.0,728.3 1946.0,727.4 1947.0,726.7 1948.0,726.2 1949.0,725.9 1949.6,725.9 1950.0,726.0 1951.0,726.8 1952.0,728.2 1953.0,730.0 1954.0,732.1 1955.0,734.0 1956.0,735.8 1957.0,736.9 1958.0,737.4 1959.0,736.4 1960.0,733.9 1961.0,730.3 1962.0,726.2 1963.0,722.1 1964.0,718.4 1964.3,717.5 1965.0,715.6 1966.0,713.4 1967.0,711.4 1968.0,709.2 1969.0,706.6 1970.0,703.2 1970.6,700.7 1971.0,698.4 1972.0,689.1 1973.0,676.7 1973.7,667.2" fill="none" stroke="#FF8000" stroke-width="4" stroke-linejoin="round" stroke-linecap="round" shape-rendering="crispEdges"/>
<polyline points="235.0,453.5 236.0,453.5 237.0,453.6 238.0,453.6 238.6,453.6 239.0,453.5 239.2,453.7 239.8,453.4 240.0,453.8 240.4,453.5 241.0,454.0 241.0,453.4 241.6,454.0 242.0,453.5 242.2,454.1 242.8,453.3 243.0,454.0 243.4,453.2 244.0,454.1 244.0,453.2 244.6,454.1 245.0,453.2 245.2,454.1 245.8,453.2 246.0,454.5 246.4,453.2 247.0,454.3 247.0,452.8 247.6,454.6 248.0,453.0 248.2,454.4 248.8,453.2 249.0,454.2 249.4,452.8 250.0,454.4 250.0,453.3 250.6,454.4 251.0,452.9 251.2,454.4 251.8,452.9 252.0,454.1 252.4,453.1 253.0,454.3 253.0,453.3 253.6,454.4 254.0,452.9 254.2,454.4 254.8,453.2 255.0,454.5 255.4,453.0 256.0,454.3 256.0,452.9 256.6,454.1 257.0,452.8 257.2,454.3 257.8,452.8 258.0,454.0 258.4,452.8 259.0,454.0 259.0,453.2 259.6,454.4 260.0,452.7 260.2,454.3 260.8,453.0 261.0,454.0 261.4,453.2 262.0,454.0 262.0,452.9 262.6,454.0 262.6,453.1 263.0,453.8 263.2,453.1 263.2,454.0 263.8,453.0 263.8,453.7 264.0,453.2 264.4,453.8 264.4,453.2 265.0,453.8 265.0,453.3 265.0,453.8 265.6,453.3 265.6,454.3 266.0,453.8 266.2,455.2 266.2,454.3 266.8,456.3 266.8,455.3 267.0,456.6 267.4,456.0 267.4,457.1 267.8,456.1 268.0,457.1 268.0,456.0 268.6,457.0 269.0,455.2 269.2,456.1 269.8,454.0 270.0,454.8 270.4,452.7 271.0,453.0 271.0,451.5 271.6,452.4 272.0,450.3 272.2,452.1 272.8,449.9 273.0,451.7 273.4,449.4 274.0,451.0 274.0,449.2 274.6,450.4 275.0,448.7 275.2,450.4 275.8,448.3 276.0,449.5 276.4,448.1 277.0,449.1 277.0,447.4 277.6,449.3 278.0,447.7 278.2,449.0 278.4,447.5 278.8,449.4 279.0,448.0 279.4,450.5 280.0,450.2 280.0,452.3 280.6,452.5 281.0,455.4 281.2,454.5 281.8,457.5 282.0,456.8 282.4,458.8 282.8,457.6 283.0,458.8 283.0,457.2 283.6,456.8 284.0,451.9 284.2,452.5 284.8,446.4 285.0,447.2 285.4,443.7 285.6,445.7 286.0,444.1 286.0,445.5 286.6,445.1 287.0,447.6 287.2,446.9 287.8,449.9 288.0,448.5 288.4,451.0 289.0,449.7 289.0,451.6 289.6,450.0 290.0,451.6 290.2,449.5 290.8,450.5 291.0,448.5 291.4,449.9 292.0,447.8 292.0,449.5 292.6,447.8 293.0,449.2 293.2,447.5 293.8,449.8 294.0,448.1 294.4,450.8 295.0,450.0 295.0,451.9 295.6,451.6 296.0,453.8 296.2,452.3 296.6,454.7 296.8,453.4 297.0,455.6 297.2,454.3 297.4,455.8 297.8,454.6 297.8,455.8 298.0,454.5 298.0,455.5 298.4,453.9 298.6,454.7 299.0,452.1 299.0,453.4 299.2,451.3 299.6,450.8 299.8,448.4 300.0,449.1 300.2,447.2 300.4,448.4 300.8,445.3 301.0,447.0 301.0,444.6 301.4,446.4 301.6,443.4 302.0,445.1 302.0,442.6 302.2,444.5 302.6,441.9 302.8,444.2 303.0,441.3 303.2,443.4 303.4,441.1 303.8,443.5 304.0,440.3 304.4,443.5 305.0,439.6 305.0,443.4 305.6,444.0 306.0,454.0 306.2,454.5 306.8,467.2 307.0,466.0 307.3,469.5 307.4,466.1 308.0,465.4 308.0,461.7 308.6,456.0 309.0,445.1 309.2,444.1 309.8,432.1 310.0,432.6 310.4,425.9 310.6,428.3 311.0,426.0 311.0,429.4 311.6,431.4 312.0,438.6 312.2,438.0 312.8,448.4 313.0,448.2 313.4,453.8 314.0,453.9 314.0,456.3 314.6,452.7 315.0,454.7 315.2,450.1 315.8,451.9 316.0,446.6 316.4,448.4 317.0,441.6 317.0,445.9 317.6,440.5 318.0,441.6 318.2,438.8 318.4,441.2 318.8,438.6 319.0,441.8 319.4,439.9 320.0,444.0 320.0,441.7 320.6,446.5 321.0,444.1 321.2,448.4 321.8,447.7 322.0,450.9 322.4,448.7 323.0,453.2 323.0,450.6 323.6,453.9 324.0,452.1 324.2,454.3 324.8,450.0 325.0,452.2 325.4,446.4 326.0,446.3 326.0,444.0 326.6,443.5 327.0,438.5 327.2,439.8 327.8,435.2 327.9,439.3 328.0,436.1 328.4,439.8 329.0,441.3 329.0,444.1 329.6,445.5 330.0,452.0 330.2,450.6 330.7,455.2 330.8,451.2 331.0,454.0 331.4,451.4 332.0,453.0 332.0,450.4 332.6,451.7 333.0,446.9 333.2,449.1 333.8,444.1 334.0,447.5 334.4,442.0 335.0,444.3 335.0,440.6 335.6,442.1 336.0,439.3 336.2,441.0 336.8,437.4 336.8,441.4 337.0,437.4 337.4,441.3 338.0,438.5 338.0,441.5 338.6,440.2 339.0,443.3 339.2,440.6 339.8,445.0 340.0,441.9 340.4,445.5 341.0,442.8 341.0,446.8 341.6,443.2 342.0,446.9 342.2,443.9 342.8,446.5 343.0,443.4 343.4,446.9 344.0,444.0 344.0,446.7 344.6,443.1 345.0,447.2 345.2,443.7 345.8,446.6 346.0,444.7 346.4,447.0 347.0,444.9 347.0,448.3 347.6,445.8 348.0,448.9 348.2,447.0 348.8,451.1 349.0,448.8 349.4,451.5 350.0,449.9 350.0,452.2 350.6,448.1 351.0,450.2 351.2,445.9 351.8,445.5 352.0,441.2 352.4,443.7 352.9,439.9 353.0,443.0 353.0,438.9 353.6,442.8 354.0,440.8 354.2,444.4 354.8,444.1 355.0,447.8 355.4,446.2 356.0,452.1 356.0,448.8 356.6,454.2 357.0,452.5 357.2,456.4 357.8,454.5 358.0,458.6 358.4,456.0 358.5,458.5 359.0,454.9 359.0,457.9 359.6,451.9 360.0,452.9 360.2,449.1 360.8,448.7 361.0,444.8 361.4,446.1 362.0,439.1 362.0,443.3 362.6,436.4 363.0,437.5 363.2,434.0 363.8,435.1 364.0,431.3 364.4,434.0 364.6,430.6 365.0,434.9 365.0,432.3 365.6,440.5 366.0,441.9 366.2,446.9 366.8,449.5 367.0,455.0 367.4,452.3 367.4,455.8 368.0,450.0 368.0,454.3 368.6,445.0 369.0,444.7 369.2,440.2 369.8,439.4 370.0,435.6 370.1,438.6 370.4,436.6 371.0,441.2 371.0,437.8 371.6,444.0 372.0,442.2 372.2,446.8 372.8,445.7 373.0,449.2 373.4,445.3 374.0,446.8 374.0,444.2 374.6,445.8 375.0,440.1 375.2,443.7 375.8,439.5 376.0,442.6 376.4,440.2 377.0,445.7 377.0,442.7 377.6,449.4 378.0,448.5 378.2,452.9 378.5,449.9 378.8,452.3 379.0,448.8 379.4,448.6 380.0,441.8 380.0,445.3 380.6,437.0 381.0,439.2 381.2,435.7 381.3,438.5 381.8,435.6 382.0,439.1 382.4,437.0 383.0,442.6 383.0,439.6 383.6,445.1 384.0,443.8 384.2,447.5 384.8,445.9 385.0,448.4 385.4,444.7 386.0,443.9 386.0,440.3 386.6,440.4 387.0,435.9 387.2,440.0 387.8,440.2 388.0,444.2 388.4,445.6 389.0,453.3 389.0,450.5 389.6,456.2 389.6,453.4 390.0,455.7 390.2,451.2 390.8,450.5 391.0,445.2 391.4,446.1 392.0,437.9 392.0,440.3 392.6,433.7 393.0,436.2 393.2,433.4 393.8,439.7 394.0,438.6 394.4,445.4 395.0,447.5 395.0,450.6 395.6,453.6 396.0,458.7 396.2,455.8 396.3,458.7 396.8,454.5 397.0,457.6 397.4,453.0 398.0,454.7 398.0,450.5 398.6,451.9 399.0,446.8 399.2,450.2 399.8,445.0 400.0,447.5 400.4,442.4 401.0,444.9 401.0,440.6 401.6,443.7 402.0,439.9 402.2,442.3 402.4,439.2 402.8,443.4 403.0,440.2 403.4,444.4 404.0,445.0 404.0,447.3 404.6,446.9 405.0,451.5 405.2,450.2 405.8,455.1 406.0,453.0 406.4,457.9 407.0,457.1 407.0,460.4 407.6,460.1 408.0,465.2 408.2,461.7 408.8,467.6 409.0,464.7 409.4,468.3 409.6,464.5 410.0,466.7 410.0,464.3 410.6,461.7 411.0,454.5 411.2,455.3 411.8,447.5 412.0,448.9 412.4,444.6 412.4,447.9 413.0,447.1 413.0,449.6 413.6,450.9 414.0,457.5 414.2,456.0 414.8,464.0 415.0,461.7 415.4,468.0 416.0,468.1 416.0,471.5 416.6,472.5 417.0,478.2 417.2,475.6 417.8,481.6 418.0,479.5 418.4,483.3 418.5,480.2 419.0,482.8 419.0,479.4 419.6,480.3 420.0,474.9 420.2,477.0 420.8,470.4 421.0,473.0 421.4,468.0 422.0,468.4 422.0,464.8 422.4,468.9 422.6,464.6 423.0,470.1 423.2,468.7 423.8,479.0 424.0,476.6 424.4,484.2 425.0,482.9 425.0,486.7 425.6,482.9 426.0,486.3 426.2,482.5 426.8,484.7 427.0,482.3 427.4,485.2 428.0,480.9 428.0,484.0 428.6,481.7 429.0,486.4 429.2,484.2 429.8,490.3 430.0,488.7 430.4,493.0 431.0,493.0 431.0,495.1 431.6,494.7 432.0,497.7 432.2,495.2 432.8,500.1 433.0,498.1 433.4,501.3 434.0,500.0 434.0,502.5 434.6,501.7 435.0,504.2 435.2,502.4 435.8,505.6 436.0,504.4 436.4,506.9 437.0,506.5 437.0,507.7 437.6,507.6 438.0,509.2 438.2,508.8 438.8,510.4 439.0,510.3 439.4,511.3 440.0,512.2 440.6,513.3 441.0,514.2 441.2,514.3 441.8,515.9 442.0,515.8 442.4,517.2 442.6,517.1 443.0,518.6 443.0,517.8 443.6,519.8 444.0,520.0 444.2,521.3 444.8,521.6 445.0,523.1 445.4,522.9 446.0,525.3 446.0,524.1 446.6,526.6 447.0,526.4 447.2,528.4 447.8,527.5 448.0,529.9 448.4,529.4 449.0,532.3 449.0,530.9 449.6,533.9 450.0,533.0 450.2,535.2 450.8,534.4 451.0,537.3 451.4,535.8 452.0,539.7 452.0,537.5 452.6,540.8 453.0,540.3 453.2,541.9 453.8,541.8 454.0,544.4 454.4,543.3 455.0,546.1 455.0,544.9 455.6,548.2 456.0,547.4 456.2,549.2 456.8,549.2 457.0,551.5 457.4,550.3 458.0,553.6 458.0,552.0 458.6,555.4 459.0,554.6 459.2,556.9 459.8,556.3 460.0,558.7 460.4,558.1 461.0,561.1 461.0,559.6 461.6,563.2 462.0,561.8 462.2,564.5 462.8,564.4 463.0,566.7 463.4,565.9 463.5,567.6 464.0,567.4 464.0,569.4 464.6,568.6 465.0,572.1 465.2,570.5 465.8,573.5 466.0,572.7 466.4,575.2 467.0,574.7 467.0,576.5 467.6,576.1 468.0,579.4 468.2,578.2 468.8,581.4 469.0,579.7 469.4,583.2 470.0,582.9 470.0,584.7 470.6,584.1 471.0,587.1 471.2,586.2 471.8,590.0 472.0,588.5 472.4,591.2 473.0,591.5 473.0,593.0 473.6,593.7 474.0,596.4 474.2,595.8 474.8,599.4 475.0,598.8 475.4,601.5 476.0,602.9 476.0,604.1 476.6,605.5 477.0,608.1 477.2,608.3 477.8,611.7 478.0,612.2 478.4,614.5 479.0,617.1 479.0,617.4 479.6,620.2 480.0,622.3 481.0,627.6 481.9,632.5 482.0,633.1 483.0,639.2 484.0,645.9 485.0,652.9 486.0,659.8 487.0,665.9 487.1,666.5 488.0,671.6 489.0,677.3 490.0,682.7 491.0,687.4 492.0,691.1 492.3,691.9 493.0,693.6 494.0,695.5 495.0,697.0 496.0,698.4 497.0,699.7 498.0,701.0 499.0,702.6 500.0,704.6 500.2,705.0 501.0,707.0 502.0,709.7 503.0,712.9 504.0,716.5 505.0,720.5 506.0,725.1 506.7,728.5 507.0,730.2 508.0,737.6 509.0,746.4 510.0,755.0 510.7,760.0 511.0,761.9 512.0,768.3 513.0,774.1 514.0,778.3 514.6,779.6 515.0,780.0 516.0,780.8 517.0,781.4 518.0,781.8 519.0,782.2 520.0,782.7 521.0,783.4 521.1,783.5 522.0,784.5 523.0,785.9 524.0,787.7 525.0,789.8 526.0,792.0 527.0,794.4 528.0,796.7 529.0,799.1 530.0,801.3 531.0,803.4 531.6,804.5 532.0,805.2 533.0,806.9 534.0,808.5 535.0,810.0 536.0,811.5 537.0,813.0 538.0,814.4 539.0,815.9 540.0,817.4 541.0,818.9 542.0,820.6 543.0,822.3 544.0,824.1 544.7,825.4 545.0,826.0 546.0,828.1 547.0,830.2 548.0,832.5 549.0,834.9 550.0,837.4 551.0,840.0 552.0,842.7 553.0,845.4 554.0,848.2 555.0,851.0 555.2,851.6 556.0,854.1 557.0,857.5 558.0,861.1 559.0,864.9 560.0,868.6 561.0,872.0 562.0,875.1 563.0,877.7 564.0,880.1 565.0,882.5 566.0,884.6 567.0,886.1 568.0,886.9 568.2,886.9 569.0,886.7 570.0,885.8 571.0,884.4 572.0,882.6 573.0,880.6 574.0,878.4 575.0,876.3 576.0,874.4 577.0,872.8 578.0,871.7 578.7,871.2 579.0,871.1 580.0,870.7 581.0,870.4 582.0,870.2 583.0,870.0 584.0,869.9 585.0,869.7 586.0,869.5 587.0,869.3 588.0,869.0 589.0,868.7 589.2,868.6 590.0,868.2 591.0,867.6 592.0,866.9 593.0,866.0 594.0,865.0 595.0,863.8 596.0,862.6 597.0,861.2 598.0,859.7 599.0,858.2 599.7,857.0 600.0,856.5 601.0,854.2 602.0,851.4 603.0,848.1 604.0,844.5 605.0,840.6 606.0,836.5 607.0,832.5 608.0,828.5 609.0,824.8 609.5,823.0 610.0,821.3 611.0,817.8 612.0,814.2 613.0,810.6 614.0,807.1 615.0,803.6 616.0,800.3 617.0,797.0 618.0,793.9 618.3,793.0 619.0,791.0 620.0,788.1 621.0,785.3 622.0,782.5 623.0,779.8 624.0,777.2 625.0,774.6 626.0,772.1 627.0,769.7 628.0,767.3 629.0,764.9 630.0,762.7 631.0,760.4 631.2,760.0 632.0,758.3 633.0,756.2 634.0,754.2 635.0,752.2 636.0,750.3 637.0,748.5 638.0,746.6 639.0,744.8 640.0,743.0 641.0,741.2 642.0,739.5 643.0,737.7 644.0,735.8 645.0,734.0 645.8,732.5 646.0,732.1 647.0,730.3 648.0,728.4 649.0,726.6 650.0,724.8 651.0,723.1 652.0,721.3 653.0,719.5 654.0,717.8 655.0,716.0 656.0,714.1 657.0,712.3 658.0,710.4 659.0,708.5 660.0,706.5 661.0,704.5 662.0,702.4 663.0,700.2 664.0,697.9 664.1,697.7 665.0,695.5 666.0,692.9 667.0,690.2 668.0,687.3 669.0,684.3 670.0,681.3 671.0,678.3 672.0,675.4 673.0,672.5 674.0,669.8 674.5,668.5 675.0,667.2 676.0,664.7 677.0,662.3 678.0,659.9 679.0,657.5 680.0,655.1 681.0,652.8 682.0,650.5 683.0,648.3 684.0,646.0 685.0,643.8 686.0,641.6 687.0,639.5 688.0,637.3 689.0,635.2 690.0,633.0 691.0,630.9 692.0,628.9 693.0,626.8 694.0,624.8 695.0,622.7 696.0,620.7 697.0,618.8 698.0,616.8 699.0,614.8 700.0,612.9 701.0,611.0 702.0,609.1 702.6,608.0 703.0,607.3 704.0,605.4 705.0,603.5 706.0,601.6 707.0,599.7 708.0,597.8 709.0,596.0 710.0,594.1 711.0,592.3 712.0,590.6 713.0,588.9 714.0,587.2 715.0,585.7 716.0,584.1 717.0,582.7 717.3,582.3 718.0,581.3 719.0,579.9 720.0,578.4 721.0,576.9 722.0,575.4 723.0,574.0 724.0,572.5 725.0,571.1 726.0,569.7 727.0,568.4 728.0,567.1 729.0,566.0 730.0,565.0 731.0,564.1 732.0,563.4 733.0,562.8 734.0,562.4 735.0,562.1 735.6,562.1 736.0,562.1 737.0,562.1 738.0,562.2 739.0,562.2 740.0,562.3 741.0,562.4 742.0,562.5 743.0,562.7 744.0,562.9 744.8,563.0 745.0,563.1 746.0,563.7 747.0,565.0 748.0,566.8 749.0,568.8 750.0,570.9 751.0,573.0 752.0,574.8 752.1,575.0 753.0,576.5 754.0,578.0 755.0,579.6 756.0,581.1 757.0,582.8 758.0,584.6 759.0,586.7 759.5,587.8 760.0,589.1 761.0,592.2 762.0,595.8 763.0,599.6 764.0,603.1 765.0,606.1 766.0,608.4 767.0,610.4 768.0,612.2 769.0,613.8 770.0,615.5 771.0,617.4 772.0,619.5 773.0,622.0 773.2,622.6 774.0,625.3 775.0,629.7 776.0,634.7 777.0,640.0 778.0,645.1 778.7,648.3 779.0,649.6 780.0,654.4 781.0,659.2 782.0,663.4 783.0,666.1 783.3,666.6 784.0,667.4 785.0,668.4 786.0,669.2 787.0,669.8 788.0,670.2 788.8,670.3 789.0,670.2 790.0,668.6 791.0,665.4 792.0,661.7 793.0,658.4 793.4,657.4 794.0,656.2 795.0,654.6 796.0,653.2 797.0,651.9 798.0,650.7 799.0,649.3 800.0,647.8 801.0,645.9 801.6,644.6 802.0,643.5 803.0,640.0 804.0,635.4 805.0,630.3 806.0,624.9 807.0,619.7 808.0,615.0 808.9,611.6 809.0,611.3 810.0,608.1 811.0,605.1 812.0,602.2 813.0,599.5 814.0,596.9 815.0,594.5 816.0,592.2 817.0,590.0 818.0,587.9 819.0,585.9 820.0,584.1 821.0,582.3 822.0,580.6 823.0,579.0 824.0,577.4 825.0,575.9 826.0,574.4 827.0,573.0 828.0,571.6 829.0,570.3 830.0,569.0 831.0,567.8 832.0,566.7 833.0,565.6 834.0,564.6 834.6,564.0 835.0,563.6 836.0,562.7 837.0,561.7 838.0,560.8 839.0,559.9 840.0,559.1 841.0,558.2 842.0,557.4 843.0,556.7 844.0,555.9 845.0,555.2 846.0,554.6 847.0,554.0 848.0,553.5 849.0,552.9 850.0,552.5 851.0,552.1 852.0,551.7 853.0,551.4 854.0,551.0 855.0,550.7 856.0,550.4 857.0,550.1 858.0,549.9 859.0,549.6 860.0,549.4 861.0,549.1 862.0,548.9 863.0,548.7 864.0,548.5 865.0,548.2 866.0,548.0 867.0,547.8 868.0,547.5 869.0,547.2 870.0,547.0 871.0,546.7 872.0,546.4 873.0,546.1 873.8,545.8 874.0,545.7 875.0,545.4 876.0,545.0 877.0,544.5 878.0,544.1 879.0,543.6 880.0,543.1 881.0,542.6 882.0,542.0 883.0,541.5 884.0,540.9 885.0,540.4 886.0,539.8 887.0,539.3 888.0,538.7 889.0,538.2 890.0,537.7 891.0,537.2 892.0,536.7 893.0,536.2 894.0,535.8 895.0,535.3 896.0,535.0 897.0,534.6 898.0,534.3 899.0,534.0 899.5,533.9 900.0,533.8 901.0,533.6 902.0,533.4 903.0,533.2 904.0,533.0 905.0,532.9 906.0,532.7 907.0,532.6 908.0,532.4 909.0,532.3 910.0,532.2 911.0,532.1 912.0,531.9 913.0,531.8 914.0,531.7 915.0,531.6 916.0,531.4 917.0,531.3 918.0,531.1 919.0,531.0 920.0,530.8 921.0,530.7 922.0,530.5 923.0,530.3 923.3,530.2 924.0,530.0 925.0,529.8 926.0,529.5 927.0,529.2 928.0,528.8 929.0,528.5 930.0,528.1 931.0,527.7 932.0,527.3 933.0,526.9 934.0,526.4 935.0,526.0 936.0,525.5 937.0,525.1 938.0,524.6 939.0,524.2 940.0,523.8 941.0,523.3 942.0,522.9 943.0,522.5 944.0,522.1 945.0,521.7 946.0,521.4 947.0,521.1 948.0,520.8 949.0,520.5 950.0,520.3 950.8,520.1 951.0,520.1 952.0,519.9 953.0,519.7 954.0,519.5 955.0,519.4 956.0,519.2 957.0,519.1 958.0,519.0 959.0,518.8 960.0,518.7 961.0,518.6 962.0,518.5 963.0,518.4 964.0,518.2 965.0,518.1 966.0,518.0 967.0,517.9 968.0,517.8 969.0,517.7 970.0,517.6 971.0,517.5 972.0,517.4 973.0,517.2 974.0,517.1 975.0,517.0 976.0,516.8 977.0,516.7 978.0,516.5 978.3,516.5 979.0,516.4 980.0,516.2 981.0,516.1 982.0,515.9 983.0,515.7 984.0,515.5 985.0,515.3 986.0,515.1 987.0,514.9 988.0,514.7 989.0,514.5 990.0,514.3 991.0,514.1 992.0,513.9 993.0,513.7 994.0,513.5 995.0,513.3 996.0,513.1 997.0,512.9 998.0,512.7 999.0,512.4 1000.0,512.2 1001.0,512.0 1002.0,511.8 1003.0,511.6 1004.0,511.4 1005.0,511.2 1005.8,511.0 1006.0,511.0 1007.0,510.7 1008.0,510.5 1009.0,510.3 1010.0,510.1 1011.0,509.8 1012.0,509.6 1013.0,509.4 1014.0,509.1 1015.0,508.9 1016.0,508.6 1017.0,508.4 1018.0,508.2 1019.0,507.9 1020.0,507.7 1021.0,507.5 1022.0,507.2 1023.0,507.0 1024.0,506.8 1025.0,506.6 1026.0,506.4 1027.0,506.2 1028.0,506.0 1029.0,505.8 1030.0,505.6 1031.0,505.4 1032.0,505.3 1033.0,505.1 1033.3,505.1 1034.0,505.0 1035.0,504.9 1036.0,504.7 1037.0,504.6 1038.0,504.5 1039.0,504.3 1040.0,504.2 1040.6,504.2 1041.0,504.0 1041.2,504.2 1041.8,503.9 1042.0,504.2 1042.4,503.8 1043.0,504.3 1043.0,503.8 1043.6,504.3 1044.0,503.5 1044.2,504.5 1044.8,503.9 1045.0,504.7 1045.4,504.0 1046.0,505.4 1046.0,504.7 1046.6,506.0 1047.0,505.2 1047.2,506.7 1047.8,506.2 1048.0,507.8 1048.4,506.7 1049.0,508.5 1049.0,507.1 1049.6,508.5 1050.0,507.4 1050.2,508.5 1050.8,507.5 1051.0,508.8 1051.4,506.9 1052.0,508.4 1052.0,506.9 1052.6,508.5 1053.0,506.8 1053.2,508.2 1053.8,506.2 1054.0,507.4 1054.4,506.3 1055.0,507.4 1055.0,505.7 1055.6,506.7 1056.0,505.1 1056.2,506.8 1056.8,504.7 1057.0,505.6 1057.4,503.9 1058.0,504.0 1058.0,502.9 1058.6,503.1 1059.0,500.9 1059.2,502.1 1059.8,500.1 1060.0,501.2 1060.4,499.3 1060.8,500.5 1061.0,499.3 1061.0,501.0 1061.6,500.6 1062.0,503.2 1062.2,501.9 1062.8,505.6 1063.0,504.5 1063.4,506.9 1064.0,506.2 1064.0,508.0 1064.6,506.5 1065.0,507.7 1065.2,506.2 1065.8,507.4 1066.0,505.7 1066.4,507.2 1067.0,505.4 1067.0,506.7 1067.6,504.7 1068.0,506.0 1068.2,504.9 1068.8,506.2 1069.0,504.2 1069.4,505.5 1070.0,504.0 1070.0,505.6 1070.6,504.3 1071.0,506.6 1071.2,505.4 1071.8,507.1 1072.0,506.4 1072.4,508.6 1073.0,507.5 1073.0,509.0 1073.6,508.0 1074.0,509.6 1074.2,508.4 1074.8,509.2 1075.0,507.6 1075.4,509.1 1076.0,506.8 1076.0,508.1 1076.6,505.7 1077.0,506.7 1077.2,505.3 1077.8,505.6 1078.0,503.8 1078.4,505.0 1079.0,503.1 1079.0,504.5 1079.6,502.3 1080.0,503.4 1080.2,502.1 1080.8,503.9 1081.0,502.0 1081.4,503.2 1082.0,502.1 1082.0,503.5 1082.6,501.8 1083.0,503.3 1083.2,502.3 1083.8,503.3 1084.0,501.8 1084.4,503.0 1085.0,502.2 1085.0,503.0 1085.6,502.0 1086.0,502.9 1086.2,502.2 1086.8,502.6 1087.0,502.1 1087.4,502.5 1088.0,502.1 1088.0,502.4 1088.6,502.2 1089.0,502.3 1089.2,502.1 1089.8,502.2 1090.0,502.2 1091.0,502.1 1092.0,502.1 1093.0,502.0 1094.0,502.0 1095.0,502.0 1096.0,501.9 1097.0,501.9 1098.0,501.9 1099.0,501.8 1100.0,501.8 1101.0,501.8 1102.0,501.7 1103.0,501.7 1104.0,501.6 1105.0,501.6 1106.0,501.6 1107.0,501.5 1108.0,501.5 1109.0,501.4 1110.0,501.4 1111.0,501.4 1112.0,501.3 1113.0,501.3 1114.0,501.3 1115.0,501.2 1116.0,501.2 1117.0,501.2 1118.0,501.1 1119.0,501.1 1120.0,501.1 1121.0,501.1 1122.0,501.0 1123.0,501.0 1124.0,501.0 1125.0,501.0 1126.0,501.0 1127.0,501.0 1127.5,501.0 1128.0,501.0 1129.0,501.0 1130.0,501.0 1131.0,501.0 1132.0,501.0 1133.0,501.1 1134.0,501.1 1135.0,501.1 1136.0,501.1 1137.0,501.2 1138.0,501.2 1139.0,501.3 1140.0,501.3 1140.6,501.3 1141.0,501.5 1141.2,501.3 1141.8,501.6 1142.0,501.2 1142.4,501.6 1143.0,501.2 1143.0,501.8 1143.6,501.2 1144.0,502.0 1144.2,501.1 1144.8,502.1 1145.0,501.1 1145.4,502.1 1146.0,501.4 1146.0,502.1 1146.6,501.3 1147.0,502.2 1147.2,501.4 1147.7,502.6 1147.8,501.4 1148.0,502.5 1148.4,501.3 1149.0,503.5 1149.0,501.7 1149.6,503.9 1150.0,502.9 1150.2,504.9 1150.8,504.2 1151.0,505.5 1151.4,504.6 1152.0,506.5 1152.0,505.4 1152.6,507.0 1153.0,506.1 1153.2,507.2 1153.2,506.1 1153.8,506.4 1154.0,504.9 1154.4,504.8 1155.0,501.5 1155.0,502.6 1155.6,498.6 1156.0,498.3 1156.2,496.0 1156.8,495.9 1157.0,493.9 1157.4,494.2 1157.7,492.7 1158.0,494.2 1158.0,493.0 1158.6,494.7 1159.0,493.3 1159.2,495.1 1159.8,494.5 1160.0,496.2 1160.4,495.1 1161.0,497.1 1161.0,495.8 1161.6,497.8 1162.0,496.5 1162.2,497.8 1162.3,496.8 1162.8,498.3 1163.0,496.3 1163.4,498.1 1164.0,496.0 1164.0,498.0 1164.6,496.1 1165.0,497.5 1165.2,495.7 1165.8,497.0 1166.0,495.4 1166.4,496.6 1167.0,494.9 1167.0,496.5 1167.6,495.2 1168.0,496.0 1168.2,494.7 1168.7,496.0 1168.8,494.5 1169.0,496.0 1169.4,495.0 1170.0,496.9 1170.0,495.2 1170.6,497.3 1171.0,495.8 1171.2,497.4 1171.8,497.0 1172.0,498.4 1172.4,497.3 1173.0,499.5 1173.0,498.2 1173.6,500.2 1174.0,499.4 1174.2,501.1 1174.8,500.4 1175.0,501.5 1175.4,500.4 1176.0,502.4 1176.0,500.9 1176.6,502.5 1177.0,501.4 1177.2,502.6 1177.8,500.9 1178.0,502.7 1178.4,501.2 1179.0,502.9 1179.0,501.0 1179.6,502.9 1180.0,500.9 1180.2,502.7 1180.8,501.3 1181.0,502.7 1181.4,501.3 1182.0,502.8 1182.0,501.4 1182.6,502.6 1183.0,501.0 1183.2,502.6 1183.8,501.1 1184.0,502.4 1184.4,501.3 1185.0,502.9 1185.0,501.1 1185.6,502.5 1186.0,501.2 1186.2,502.8 1186.8,501.0 1187.0,502.8 1187.4,501.3 1188.0,502.4 1188.0,501.1 1188.6,502.6 1189.0,501.2 1189.2,502.4 1189.8,501.3 1190.0,502.8 1190.4,501.3 1191.0,502.8 1191.0,501.5 1191.6,502.9 1191.6,501.4 1192.0,502.6 1192.2,501.0 1192.8,502.5 1193.0,501.4 1193.4,502.9 1194.0,501.0 1194.0,502.7 1194.6,501.6 1195.0,502.8 1195.2,501.5 1195.8,502.6 1196.0,501.2 1196.4,503.0 1197.0,501.6 1197.0,502.7 1197.6,501.7 1198.0,503.3 1198.2,501.9 1198.8,503.1 1199.0,501.8 1199.4,503.2 1200.0,502.0 1200.0,503.6 1200.6,502.3 1201.0,503.7 1201.2,502.3 1201.8,503.8 1202.0,502.7 1202.4,503.8 1203.0,502.8 1203.0,504.5 1203.6,503.3 1204.0,504.7 1204.2,502.9 1204.8,504.8 1205.0,503.2 1205.4,505.1 1206.0,503.8 1206.0,505.2 1206.3,503.9 1206.6,505.6 1207.0,504.6 1207.2,506.3 1207.8,505.8 1208.0,507.6 1208.4,506.7 1209.0,509.3 1209.0,508.2 1209.6,510.4 1210.0,510.0 1210.2,511.4 1210.8,510.2 1210.9,512.0 1211.0,510.2 1211.4,511.6 1212.0,509.8 1212.0,511.2 1212.6,509.8 1213.0,511.0 1213.2,509.5 1213.8,510.1 1214.0,508.3 1214.4,509.4 1215.0,507.6 1215.0,509.1 1215.6,507.0 1216.0,507.9 1216.2,506.1 1216.8,506.5 1217.0,505.0 1217.4,505.9 1218.0,503.5 1218.0,505.3 1218.6,503.1 1219.0,504.1 1219.2,502.6 1219.8,503.7 1220.0,501.9 1220.4,503.2 1221.0,501.1 1221.0,502.8 1221.6,501.0 1222.0,502.1 1222.2,500.7 1222.8,502.0 1223.0,500.0 1223.4,501.7 1224.0,499.9 1224.0,501.5 1224.6,499.5 1225.0,500.9 1225.2,499.6 1225.8,500.4 1226.0,499.0 1226.4,500.2 1227.0,498.7 1227.0,500.3 1227.6,498.5 1228.0,499.9 1228.2,498.5 1228.8,499.4 1229.0,498.4 1229.4,499.2 1230.0,498.1 1230.0,499.4 1230.6,497.9 1231.0,499.0 1231.2,497.8 1231.8,499.0 1232.0,497.4 1232.4,499.1 1233.0,497.8 1233.0,498.9 1233.6,497.7 1233.8,499.1 1234.0,497.3 1234.2,499.0 1234.8,497.5 1235.0,499.2 1235.4,497.6 1236.0,499.3 1236.0,498.2 1236.6,499.9 1237.0,498.4 1237.2,500.0 1237.8,499.1 1238.0,500.7 1238.4,499.7 1239.0,501.6 1239.0,500.2 1239.6,501.8 1240.0,500.8 1240.2,502.6 1240.8,501.2 1241.0,503.0 1241.4,501.4 1242.0,503.3 1242.0,502.1 1242.6,503.6 1243.0,502.8 1243.2,504.2 1243.8,502.7 1244.0,504.4 1244.4,502.9 1244.8,504.6 1245.0,502.7 1245.0,504.6 1245.6,502.5 1246.0,503.7 1246.2,502.0 1246.8,502.5 1247.0,500.7 1247.4,501.6 1248.0,498.9 1248.0,500.5 1248.6,498.2 1249.0,498.5 1249.2,496.8 1249.8,496.9 1250.0,495.5 1250.4,496.3 1251.0,493.6 1251.0,495.0 1251.6,493.2 1252.0,494.3 1252.1,492.7 1252.2,494.4 1252.8,492.7 1253.0,494.1 1253.4,492.4 1254.0,493.5 1254.0,492.1 1254.6,493.4 1255.0,491.7 1255.2,493.4 1255.8,491.9 1256.0,493.2 1256.4,491.5 1257.0,492.9 1257.0,491.5 1257.6,492.8 1258.0,491.6 1258.2,492.5 1258.8,491.1 1259.0,492.2 1259.4,491.4 1260.0,492.0 1260.0,491.2 1260.6,491.9 1261.0,491.1 1261.2,491.8 1261.8,491.0 1262.0,491.5 1262.4,491.1 1263.0,491.4 1263.0,491.1 1263.6,491.3 1264.0,490.9 1264.2,491.1 1264.8,490.9 1265.0,490.9 1266.0,490.8 1267.0,490.6 1268.0,490.5 1269.0,490.3 1270.0,490.2 1271.0,490.1 1272.0,490.0 1273.0,489.8 1274.0,489.7 1275.0,489.6 1276.0,489.5 1277.0,489.4 1278.0,489.3 1279.0,489.1 1280.0,489.0 1281.0,488.9 1282.0,488.9 1283.0,488.8 1284.0,488.7 1285.0,488.6 1285.6,488.6 1286.0,488.4 1286.2,488.7 1286.8,488.1 1287.0,488.8 1287.4,488.2 1288.0,488.6 1288.0,487.9 1288.6,488.9 1289.0,487.6 1289.2,489.1 1289.8,487.3 1290.0,489.3 1290.4,487.5 1291.0,489.0 1291.0,486.9 1291.6,489.3 1292.0,487.5 1292.2,489.6 1292.4,486.9 1292.8,488.9 1293.0,487.0 1293.4,489.3 1294.0,486.7 1294.0,489.1 1294.6,486.6 1295.0,489.2 1295.2,486.3 1295.8,489.5 1296.0,487.1 1296.4,488.7 1297.0,486.3 1297.0,489.2 1297.6,486.2 1298.0,489.0 1298.2,487.0 1298.8,488.5 1299.0,486.3 1299.4,488.5 1300.0,486.4 1300.0,489.0 1300.6,486.3 1301.0,489.3 1301.2,486.8 1301.8,488.8 1302.0,486.2 1302.4,488.5 1303.0,486.8 1303.0,488.4 1303.6,485.9 1304.0,489.0 1304.2,486.7 1304.8,488.2 1305.0,486.2 1305.4,488.5 1306.0,486.6 1306.0,488.4 1306.6,486.3 1307.0,488.5 1307.2,485.8 1307.8,488.7 1308.0,485.8 1308.4,489.0 1309.0,485.8 1309.0,488.6 1309.6,486.1 1310.0,488.6 1310.2,486.6 1310.8,489.0 1311.0,486.5 1311.4,488.6 1312.0,485.9 1312.0,488.8 1312.6,486.1 1313.0,488.6 1313.2,485.8 1313.8,488.6 1314.0,485.9 1314.4,488.8 1315.0,486.5 1315.0,488.5 1315.6,486.5 1316.0,488.1 1316.2,486.5 1316.8,488.8 1317.0,486.2 1317.4,488.4 1318.0,485.7 1318.0,488.6 1318.6,485.6 1319.0,488.4 1319.2,485.8 1319.8,488.8 1320.0,486.4 1320.4,488.4 1321.0,486.4 1321.0,488.4 1321.6,486.2 1322.0,488.7 1322.2,486.0 1322.8,488.0 1323.0,485.6 1323.4,488.3 1324.0,486.5 1324.0,488.2 1324.6,486.1 1325.0,487.9 1325.2,486.4 1325.8,488.2 1326.0,486.2 1326.4,488.3 1327.0,486.2 1327.0,488.2 1327.6,486.0 1328.0,488.2 1328.2,485.8 1328.8,488.7 1329.0,486.5 1329.4,488.0 1330.0,486.4 1330.0,488.2 1330.6,486.2 1331.0,488.6 1331.2,485.8 1331.8,488.8 1332.0,485.8 1332.4,488.5 1333.0,485.5 1333.0,488.5 1333.6,486.1 1334.0,488.2 1334.2,486.5 1334.8,488.8 1335.0,485.8 1335.4,488.3 1336.0,485.6 1336.0,488.7 1336.6,486.0 1337.0,488.9 1337.2,485.6 1337.8,488.3 1338.0,486.1 1338.3,488.0 1338.4,486.4 1339.0,488.3 1339.0,486.3 1339.6,488.0 1340.0,485.8 1340.2,488.9 1340.8,486.0 1341.0,489.0 1341.4,485.8 1342.0,488.8 1342.0,486.3 1342.6,488.6 1343.0,486.5 1343.2,488.7 1343.8,487.0 1344.0,489.1 1344.4,486.6 1345.0,489.4 1345.0,486.7 1345.6,489.3 1346.0,487.7 1346.1,489.3 1346.2,487.5 1346.8,489.9 1347.0,487.7 1347.4,490.4 1348.0,488.6 1348.0,490.7 1348.6,489.5 1349.0,492.0 1349.2,489.3 1349.8,493.1 1350.0,490.3 1350.4,493.3 1351.0,491.6 1351.0,494.5 1351.6,493.3 1352.0,495.6 1352.2,494.4 1352.8,497.5 1353.0,495.1 1353.4,498.6 1354.0,496.7 1354.0,499.3 1354.2,497.6 1354.6,500.5 1355.0,499.2 1355.2,501.6 1355.8,500.7 1356.0,502.9 1356.4,501.4 1357.0,506.1 1357.0,503.1 1357.6,507.0 1358.0,506.0 1358.2,508.7 1358.8,508.4 1359.0,510.7 1359.4,510.0 1360.0,513.9 1360.0,511.3 1360.6,514.6 1361.0,513.4 1361.2,516.1 1361.8,514.6 1362.0,517.6 1362.2,515.7 1362.4,517.6 1363.0,516.2 1363.0,518.7 1363.6,516.8 1364.0,519.6 1364.2,518.0 1364.8,521.0 1365.0,518.9 1365.4,521.7 1366.0,520.0 1366.0,522.2 1366.6,521.4 1367.0,523.6 1367.2,522.1 1367.8,524.6 1368.0,522.5 1368.4,524.9 1369.0,523.6 1369.0,526.0 1369.6,524.1 1370.0,526.4 1370.2,524.4 1370.8,527.7 1371.0,525.4 1371.4,527.8 1372.0,525.5 1372.0,528.5 1372.6,526.3 1373.0,528.8 1373.2,526.3 1373.8,529.1 1374.0,525.9 1374.2,528.5 1374.4,526.4 1375.0,528.6 1375.0,525.7 1375.6,528.0 1376.0,525.7 1376.2,528.1 1376.8,524.9 1377.0,526.9 1377.4,524.5 1378.0,526.3 1378.0,524.2 1378.6,526.2 1379.0,523.3 1379.2,525.3 1379.8,522.2 1380.0,524.5 1380.4,521.2 1381.0,522.8 1381.0,520.7 1381.6,522.2 1382.0,518.9 1382.2,521.0 1382.8,518.3 1383.0,520.3 1383.4,518.1 1384.0,520.1 1384.0,517.8 1384.2,519.8 1384.6,517.4 1385.0,519.0 1385.2,516.3 1385.8,518.0 1386.0,515.5 1386.4,517.6 1387.0,515.1 1387.0,517.1 1387.6,514.3 1388.0,516.4 1388.2,514.3 1388.8,515.5 1389.0,513.1 1389.4,515.1 1390.0,513.0 1390.0,515.3 1390.6,512.6 1391.0,514.7 1391.2,512.2 1391.8,514.6 1392.0,512.1 1392.4,513.4 1393.0,511.8 1393.0,513.8 1393.6,511.2 1394.0,513.9 1394.2,510.7 1394.3,513.5 1394.8,510.9 1395.0,513.6 1395.4,511.6 1396.0,513.8 1396.0,511.5 1396.6,514.5 1397.0,512.5 1397.2,515.3 1397.8,513.0 1398.0,515.9 1398.4,514.2 1399.0,517.7 1399.0,515.4 1399.6,518.5 1400.0,516.3 1400.2,518.6 1400.8,517.0 1401.0,520.0 1401.4,518.3 1402.0,521.6 1402.0,518.5 1402.3,521.4 1402.6,520.0 1403.0,522.8 1403.2,520.3 1403.8,523.7 1404.0,521.5 1404.4,525.1 1405.0,522.9 1405.0,525.7 1405.6,523.9 1406.0,527.7 1406.2,525.0 1406.8,528.2 1407.0,526.4 1407.4,529.6 1408.0,527.4 1408.0,530.2 1408.6,528.4 1409.0,531.4 1409.2,529.4 1409.8,531.2 1410.0,529.8 1410.3,531.3 1410.4,529.6 1411.0,531.2 1411.0,529.2 1411.6,531.8 1412.0,529.4 1412.2,531.2 1412.8,529.3 1413.0,531.3 1413.4,529.8 1414.0,532.0 1414.0,528.9 1414.6,531.3 1415.0,529.1 1415.2,531.2 1415.8,529.2 1416.0,531.8 1416.4,529.2 1417.0,532.2 1417.0,529.2 1417.6,531.3 1418.0,528.9 1418.2,531.5 1418.3,529.3 1418.8,531.6 1419.0,528.9 1419.4,531.1 1420.0,529.0 1420.0,531.1 1420.6,528.3 1421.0,530.9 1421.2,528.2 1421.8,529.6 1422.0,527.0 1422.4,528.9 1423.0,526.1 1423.0,528.3 1423.6,525.3 1424.0,527.4 1424.2,524.4 1424.8,526.2 1425.0,523.8 1425.4,524.9 1426.0,522.1 1426.0,524.3 1426.6,521.9 1427.0,523.2 1427.2,520.9 1427.8,522.5 1428.0,519.9 1428.4,521.4 1429.0,518.3 1429.0,521.1 1429.6,518.3 1430.0,520.0 1430.2,516.9 1430.4,520.0 1430.8,516.5 1431.0,518.9 1431.4,516.0 1432.0,518.1 1432.0,516.1 1432.6,517.6 1433.0,515.3 1433.2,517.8 1433.8,514.7 1434.0,516.6 1434.4,514.0 1435.0,516.3 1435.0,513.9 1435.6,516.6 1436.0,513.3 1436.2,515.8 1436.8,513.1 1437.0,515.0 1437.4,512.9 1438.0,515.1 1438.0,512.3 1438.6,514.7 1439.0,511.7 1439.2,514.0 1439.8,511.0 1440.0,513.6 1440.4,511.4 1441.0,513.3 1441.0,511.1 1441.6,513.3 1442.0,510.1 1442.2,512.1 1442.8,510.2 1443.0,512.1 1443.4,509.8 1444.0,510.9 1444.0,509.0 1444.6,510.9 1445.0,507.9 1445.2,510.1 1445.8,507.3 1446.0,509.8 1446.4,506.8 1446.4,509.2 1447.0,507.2 1447.0,509.0 1447.6,506.4 1448.0,508.1 1448.2,505.2 1448.8,507.6 1449.0,505.0 1449.4,506.3 1450.0,503.6 1450.0,505.5 1450.6,502.7 1451.0,504.1 1451.2,502.2 1451.8,503.1 1452.0,501.0 1452.4,503.3 1453.0,500.2 1453.0,502.6 1453.6,499.4 1454.0,501.5 1454.2,498.3 1454.8,500.6 1455.0,497.8 1455.4,500.2 1456.0,496.9 1456.0,500.0 1456.4,497.3 1456.6,499.3 1457.0,497.3 1457.2,499.3 1457.8,497.0 1458.0,498.8 1458.4,496.1 1459.0,498.9 1459.0,496.3 1459.6,498.9 1460.0,496.1 1460.2,498.3 1460.8,495.7 1461.0,498.3 1461.4,496.0 1462.0,497.8 1462.0,495.5 1462.6,497.5 1463.0,494.9 1463.2,497.2 1463.8,494.8 1464.0,498.0 1464.4,495.0 1465.0,497.1 1465.0,494.7 1465.6,497.2 1466.0,494.6 1466.2,497.0 1466.8,495.0 1467.0,497.5 1467.4,495.0 1468.0,496.5 1468.0,494.2 1468.6,497.1 1469.0,494.6 1469.2,496.6 1469.8,494.1 1470.0,496.8 1470.4,494.1 1470.5,496.5 1471.0,493.7 1471.0,496.2 1471.6,493.9 1472.0,496.1 1472.2,494.2 1472.8,496.1 1473.0,493.6 1473.4,496.3 1474.0,494.0 1474.0,496.2 1474.6,493.8 1475.0,496.1 1475.2,493.9 1475.8,495.9 1476.0,493.6 1476.4,495.5 1477.0,494.0 1477.0,496.0 1477.6,493.7 1478.0,496.1 1478.2,493.9 1478.8,495.4 1479.0,493.2 1479.4,495.3 1480.0,493.4 1480.0,495.4 1480.6,493.5 1481.0,495.3 1481.2,492.7 1481.8,495.4 1482.0,493.6 1482.4,496.0 1482.5,493.6 1483.0,495.9 1483.0,493.1 1483.6,496.0 1484.0,493.2 1484.2,495.6 1484.8,494.3 1485.0,496.2 1485.4,494.2 1486.0,496.7 1486.0,494.3 1486.6,497.0 1487.0,495.4 1487.2,498.0 1487.8,496.7 1488.0,499.1 1488.4,497.0 1489.0,499.8 1489.0,497.8 1489.6,500.5 1490.0,498.8 1490.2,501.5 1490.8,500.7 1491.0,503.1 1491.4,502.0 1492.0,506.9 1492.0,504.0 1492.6,508.7 1493.0,507.9 1493.2,510.5 1493.8,510.1 1493.9,512.5 1494.0,510.7 1494.4,514.0 1495.0,513.6 1495.0,515.4 1495.6,515.4 1496.0,518.0 1496.2,517.2 1496.8,519.6 1497.0,519.1 1497.4,521.0 1498.0,521.7 1498.0,522.3 1498.6,523.3 1499.0,524.6 1499.2,524.9 1499.8,526.4 1500.0,526.9 1501.0,529.3 1501.8,531.3 1502.0,531.8 1503.0,534.4 1504.0,537.2 1505.0,540.0 1506.0,542.7 1507.0,545.3 1508.0,547.7 1509.0,549.8 1509.6,550.9 1510.0,551.5 1511.0,553.0 1512.0,554.2 1513.0,555.4 1514.0,556.4 1515.0,557.5 1516.0,558.7 1517.0,560.0 1517.5,560.8 1518.0,561.7 1519.0,564.1 1520.0,566.8 1521.0,569.1 1522.0,570.5 1522.4,570.6 1523.0,570.2 1524.0,568.0 1525.0,564.8 1526.0,561.6 1527.0,559.2 1527.3,558.8 1528.0,558.1 1529.0,557.1 1530.0,556.2 1531.0,555.4 1532.0,554.7 1533.0,554.1 1534.0,553.6 1535.0,553.2 1536.0,553.0 1537.0,552.9 1537.1,552.9 1538.0,553.1 1539.0,553.9 1540.0,555.1 1541.0,556.7 1542.0,558.6 1543.0,560.8 1544.0,565.5 1545.0,573.3 1546.0,581.2 1546.9,586.3 1547.0,586.7 1548.0,590.4 1549.0,593.8 1550.0,596.8 1551.0,599.2 1552.0,600.6 1552.8,601.0 1553.0,601.0 1554.0,599.9 1555.0,597.6 1556.0,594.6 1557.0,591.3 1558.0,588.1 1559.0,585.4 1560.0,583.7 1560.7,583.3 1561.0,583.4 1562.0,585.2 1563.0,588.5 1564.0,592.7 1565.0,597.0 1566.0,600.5 1567.0,602.7 1567.5,603.0 1568.0,602.8 1569.0,601.2 1570.0,598.9 1571.0,596.7 1572.0,595.2 1572.4,595.1 1573.0,596.0 1574.0,600.4 1575.0,607.2 1576.0,614.6 1577.0,620.8 1578.0,624.3 1578.3,624.5 1579.0,623.7 1580.0,620.3 1581.0,615.1 1582.0,609.0 1583.0,603.1 1583.2,602.0 1584.0,597.0 1585.0,589.6 1586.0,582.0 1587.0,575.3 1588.0,570.9 1588.1,570.6 1589.0,568.4 1590.0,566.3 1591.0,564.7 1592.0,563.4 1593.0,562.7 1594.0,562.3 1595.0,562.0 1596.0,561.8 1597.0,561.6 1598.0,561.4 1599.0,561.1 1599.9,560.8 1600.0,560.8 1601.0,560.2 1602.0,559.3 1603.0,558.4 1604.0,557.3 1605.0,556.1 1606.0,555.1 1607.0,554.2 1608.0,553.4 1609.0,553.0 1609.7,552.9 1610.0,552.9 1611.0,552.9 1612.0,552.9 1613.0,552.9 1614.0,552.9 1615.0,552.9 1616.0,552.9 1617.0,552.9 1618.0,552.9 1619.0,552.9 1619.5,552.9 1620.0,552.8 1621.0,552.0 1622.0,550.6 1623.0,548.9 1624.0,546.9 1625.0,545.0 1626.0,543.2 1627.0,541.9 1628.0,541.2 1628.4,541.1 1629.0,541.6 1630.0,544.5 1631.0,549.1 1632.0,554.5 1633.0,559.6 1634.0,563.7 1635.0,565.6 1635.2,565.7 1636.0,565.2 1637.0,563.2 1638.0,560.2 1639.0,556.5 1640.0,552.5 1641.0,548.7 1642.0,545.4 1643.0,543.1 1644.0,542.1 1644.1,542.1 1645.0,542.9 1646.0,545.4 1647.0,549.1 1648.0,553.8 1649.0,558.8 1650.0,565.5 1651.0,574.8 1652.0,585.7 1652.9,596.1 1653.0,597.3 1654.0,614.0 1655.0,631.8 1656.0,640.0 1657.0,638.5 1658.0,634.6 1659.0,629.4 1660.0,623.9 1660.6,621.0 1661.0,619.1 1662.0,613.2 1663.0,606.6 1664.0,600.3 1665.0,595.0 1666.0,591.8 1666.6,591.2 1667.0,591.4 1668.0,593.1 1669.0,596.6 1670.0,601.6 1671.0,607.8 1671.6,612.0 1672.0,616.3 1673.0,634.9 1674.0,654.0 1675.0,667.5 1676.0,679.4 1677.0,691.4 1677.4,696.6 1678.0,706.4 1679.0,720.0 1679.1,720.4 1680.0,722.5 1681.0,724.1 1682.0,725.2 1683.0,726.0 1684.0,726.9 1684.3,727.2 1685.0,727.9 1686.0,728.8 1687.0,729.7 1688.0,730.6 1689.0,731.7 1689.4,732.3 1690.0,733.3 1691.0,735.5 1692.0,738.3 1693.0,741.5 1694.0,745.0 1695.0,748.5 1696.0,752.1 1696.2,752.8 1697.0,755.4 1698.0,758.5 1699.0,761.9 1700.0,766.0 1701.0,771.3 1701.3,773.2 1702.0,779.8 1703.0,794.2 1703.8,807.2 1704.0,810.8 1705.0,834.6 1706.0,855.2 1706.4,858.3 1707.0,859.7 1708.0,861.2 1708.9,861.7 1709.0,861.7 1710.0,859.0 1711.0,853.1 1712.0,845.6 1713.0,838.4 1714.0,833.0 1714.9,831.1 1715.0,831.1 1716.0,834.1 1717.0,840.7 1718.0,848.9 1719.0,857.0 1720.0,863.0 1720.9,865.1 1721.0,865.1 1722.0,862.3 1723.0,856.2 1724.0,848.7 1725.0,841.9 1725.1,841.3 1726.0,835.8 1727.0,829.1 1728.0,822.5 1729.0,816.8 1730.0,812.8 1730.2,812.3 1731.0,810.6 1732.0,809.0 1733.0,807.8 1734.0,806.8 1735.0,805.6 1736.0,804.2 1737.0,802.1 1738.0,798.8 1739.0,794.0 1740.0,788.0 1741.0,781.2 1742.0,773.9 1742.1,773.2 1743.0,765.7 1744.0,755.9 1745.0,744.9 1745.5,739.1 1746.0,732.7 1747.0,717.5 1748.0,702.5 1748.9,692.0 1749.0,691.1 1750.0,683.2 1751.0,676.5 1752.0,670.7 1753.0,665.3 1754.0,659.8 1754.8,655.0 1755.0,653.7 1756.0,647.3 1757.0,640.8 1758.0,634.5 1758.8,630.0 1759.0,628.9 1760.0,623.6 1761.0,618.5 1762.0,613.6 1763.0,609.2 1764.0,605.5 1764.4,604.2 1765.0,602.4 1766.0,599.6 1767.0,597.1 1768.0,594.8 1769.0,592.7 1770.0,590.7 1771.0,588.8 1772.0,587.0 1772.3,586.5 1773.0,585.2 1774.0,583.2 1775.0,581.2 1776.0,579.5 1777.0,578.3 1778.0,577.7 1778.2,577.7 1779.0,577.9 1780.0,578.6 1781.0,579.7 1782.0,581.0 1783.0,582.5 1783.1,582.6 1784.0,584.5 1785.0,587.6 1786.0,590.8 1787.0,593.4 1788.0,594.4 1789.0,592.7 1790.0,588.5 1791.0,582.9 1792.0,577.1 1792.9,572.8 1793.0,572.4 1794.0,568.3 1795.0,564.1 1796.0,560.2 1797.0,557.0 1797.8,555.1 1798.0,554.7 1799.0,552.9 1800.0,551.2 1801.0,549.7 1802.0,548.3 1803.0,547.0 1804.0,545.9 1805.0,545.0 1806.0,544.2 1807.0,543.6 1807.6,543.3 1808.0,543.1 1809.0,542.7 1810.0,542.3 1811.0,541.9 1812.0,541.5 1813.0,541.1 1814.0,540.8 1815.0,540.5 1816.0,540.2 1817.0,539.9 1818.0,539.6 1819.0,539.4 1820.0,539.2 1821.0,539.0 1822.0,538.8 1823.0,538.7 1824.0,538.6 1825.0,538.5 1826.0,538.4 1827.0,538.4 1827.3,538.4 1828.0,538.4 1829.0,538.4 1830.0,538.4 1831.0,538.5 1832.0,538.5 1833.0,538.6 1834.0,538.7 1835.0,538.8 1836.0,538.9 1837.0,539.0 1838.0,539.1 1839.0,539.2 1840.0,539.3 1841.0,539.5 1842.0,539.6 1843.0,539.8 1844.0,539.9 1845.0,540.1 1846.0,540.2 1846.9,540.4 1847.0,540.4 1848.0,540.6 1849.0,540.9 1850.0,541.2 1851.0,541.5 1852.0,541.9 1853.0,542.3 1854.0,542.8 1855.0,543.3 1856.0,543.8 1857.0,544.4 1858.0,545.1 1859.0,545.7 1860.0,546.5 1861.0,547.2 1862.0,548.0 1863.0,548.9 1864.0,549.8 1865.0,550.7 1866.0,551.7 1866.5,552.2 1867.0,552.8 1868.0,554.3 1869.0,556.2 1870.0,558.4 1871.0,560.8 1872.0,563.3 1873.0,565.7 1874.0,568.0 1874.4,568.9 1875.0,570.3 1876.0,572.8 1877.0,575.6 1878.0,578.3 1879.0,580.9 1880.0,583.0 1881.0,584.6 1882.0,585.4 1882.2,585.5 1883.0,585.6 1884.0,585.7 1885.0,585.8 1886.0,585.9 1887.0,585.9 1888.0,586.0 1889.0,586.0 1890.0,586.0 1891.0,586.1 1892.0,586.2 1893.0,586.3 1894.0,586.5 1895.0,588.7 1896.0,594.0 1897.0,600.5 1897.9,606.2 1898.0,606.8 1899.0,614.4 1900.0,623.2 1901.0,630.2 1901.9,632.7 1902.0,632.7 1903.0,631.9 1904.0,629.9 1905.0,627.3 1906.0,624.4 1907.0,621.5 1908.0,619.1 1908.7,617.9 1909.0,617.5 1910.0,616.1 1911.0,614.8 1912.0,613.6 1913.0,612.7 1914.0,612.2 1914.6,612.1 1915.0,612.1 1916.0,612.5 1917.0,613.2 1918.0,614.2 1919.0,615.4 1920.0,616.7 1921.0,618.2 1922.0,619.7 1923.0,621.2 1923.5,621.9 1924.0,622.7 1925.0,624.7 1926.0,627.1 1927.0,629.6 1928.0,632.1 1929.0,634.2 1930.0,635.8 1931.0,636.6 1931.3,636.6 1932.0,636.5 1933.0,635.9 1934.0,634.9 1935.0,633.6 1936.0,632.2 1937.0,630.7 1938.0,629.3 1939.0,628.0 1939.2,627.8 1940.0,626.8 1941.0,625.5 1942.0,624.0 1943.0,622.5 1944.0,621.1 1945.0,619.8 1946.0,618.8 1947.0,618.1 1948.0,617.9 1949.0,618.4 1950.0,619.7 1951.0,621.6 1952.0,623.9 1953.0,626.2 1954.0,628.4 1955.0,630.2 1956.0,631.4 1956.8,631.7 1957.0,631.7 1958.0,630.4 1959.0,627.6 1960.0,624.0 1961.0,620.0 1962.0,616.2 1962.7,614.0 1963.0,613.2 1964.0,610.8 1965.0,608.7 1966.0,606.7 1967.0,604.7 1968.0,602.2 1969.0,599.2 1970.0,595.3 1970.6,592.4 1971.0,589.6 1972.0,577.0 1973.0,560.0 1973.5,551.2" fill="none" stroke="#808080" stroke-width="4" stroke-linejoin="round" stroke-linecap="round" shape-rendering="crispEdges"/>
<polyline points="235.0,336.7 236.0,336.8 237.0,336.8 238.0,336.9 239.0,336.9 240.0,337.0 241.0,337.1 242.0,337.1 243.0,337.2 244.0,337.2 245.0,337.3 246.0,337.3 247.0,337.4 248.0,337.4 249.0,337.5 250.0,337.5 251.0,337.5 252.0,337.6 253.0,337.6 254.0,337.6 255.0,337.6 256.0,337.6 257.0,337.7 258.0,337.7 259.0,337.7 260.0,337.7 261.0,337.8 262.0,337.8 263.0,337.9 264.0,337.9 265.0,338.0 266.0,338.6 267.0,339.6 267.8,340.0 268.0,340.0 269.0,339.5 270.0,338.6 271.0,337.6 272.0,337.0 273.0,336.6 274.0,336.3 275.0,336.0 276.0,335.8 277.0,335.6 278.0,335.5 278.4,335.5 279.0,335.8 280.0,337.5 281.0,339.6 282.0,341.4 282.8,342.0 283.0,341.9 284.0,338.9 285.0,334.9 285.6,334.0 286.0,334.2 287.0,335.5 288.0,337.2 289.0,338.0 290.0,337.8 291.0,337.5 292.0,337.2 293.0,337.0 294.0,337.5 295.0,338.7 296.0,340.1 297.0,341.2 297.8,341.5 298.0,341.4 299.0,340.0 300.0,337.7 301.0,336.0 302.0,335.1 303.0,334.3 304.0,333.7 305.0,333.5 306.0,340.1 307.0,349.2 307.3,350.0 308.0,347.1 309.0,336.9 310.0,327.2 310.6,325.0 311.0,325.7 312.0,331.3 313.0,338.5 314.0,342.0 315.0,340.8 316.0,338.1 317.0,335.2 318.0,333.2 318.4,333.0 319.0,333.3 320.0,334.6 321.0,336.6 322.0,338.7 323.0,340.3 324.0,341.0 325.0,339.4 326.0,336.1 327.0,332.8 327.9,331.5 328.0,331.5 329.0,334.7 330.0,339.5 330.7,341.0 331.0,340.9 332.0,340.1 333.0,338.4 334.0,336.5 335.0,334.7 336.0,333.4 336.8,333.0 337.0,333.0 338.0,333.5 339.0,334.5 340.0,335.4 341.0,336.0 342.0,336.2 343.0,336.4 344.0,336.5 345.0,336.6 346.0,336.7 347.0,337.0 348.0,337.9 349.0,339.3 350.0,340.0 351.0,338.4 352.0,335.4 352.9,334.0 353.0,334.0 354.0,335.0 355.0,337.2 356.0,339.8 357.0,342.2 358.0,343.8 358.5,344.0 359.0,343.5 360.0,340.4 361.0,337.0 362.0,334.2 363.0,331.4 364.0,329.4 364.6,329.0 365.0,329.7 366.0,335.7 367.0,341.6 367.4,342.3 368.0,341.0 369.0,335.7 370.0,332.0 370.1,332.0 371.0,333.4 372.0,336.4 373.0,338.0 374.0,337.0 375.0,335.0 376.0,334.0 377.0,336.1 378.0,339.4 378.5,340.0 379.0,339.2 380.0,335.0 381.0,331.3 381.3,331.0 382.0,331.6 383.0,333.6 384.0,335.9 385.0,337.0 386.0,334.0 387.0,331.0 388.0,334.3 389.0,339.6 389.6,341.0 390.0,340.5 391.0,336.5 392.0,331.4 393.0,328.9 394.0,331.8 395.0,337.5 396.0,341.7 396.3,342.0 397.0,341.2 398.0,338.6 399.0,336.0 400.0,334.1 401.0,332.2 402.0,331.1 402.4,331.0 403.0,331.6 404.0,334.2 405.0,337.0 406.0,339.4 407.0,342.0 408.0,344.3 409.0,345.7 409.6,346.0 410.0,345.3 411.0,339.4 412.0,333.5 412.4,332.8 413.0,333.7 414.0,337.8 415.0,342.0 416.0,345.5 417.0,349.0 418.0,351.4 418.5,351.7 419.0,351.2 420.0,348.4 421.0,344.6 422.0,342.0 422.4,341.7 423.0,343.1 424.0,348.6 425.0,352.0 426.0,351.5 427.0,350.5 428.0,350.0 429.0,351.2 430.0,353.7 431.0,356.0 432.0,357.7 433.0,359.3 434.0,360.8 435.0,362.0 436.0,363.0 437.0,363.8 438.0,364.5 439.0,365.1 440.0,365.8 441.0,366.5 442.0,367.4 442.6,368.0 443.0,368.5 444.0,369.8 445.0,371.3 446.0,373.1 447.0,374.9 448.0,376.9 449.0,378.9 450.0,380.9 451.0,382.8 452.0,384.7 453.0,386.4 454.0,388.0 455.0,389.5 456.0,390.9 457.0,392.3 458.0,393.7 459.0,395.1 460.0,396.6 461.0,398.0 462.0,399.6 463.0,401.2 463.5,402.0 464.0,402.9 465.0,404.6 466.0,406.4 467.0,408.2 468.0,410.1 469.0,412.0 470.0,414.0 471.0,416.0 472.0,418.1 473.0,420.3 474.0,422.6 475.0,425.0 475.3,425.7 476.0,427.4 477.0,430.0 478.0,432.8 479.0,435.7 480.0,438.7 481.0,441.9 482.0,445.1 483.0,448.5 483.2,449.2 484.0,452.0 485.0,455.7 486.0,459.6 487.0,463.8 488.0,468.3 488.4,470.2 489.0,473.6 490.0,480.7 491.0,487.8 492.0,492.9 492.3,493.7 493.0,495.1 494.0,496.6 495.0,497.8 496.0,498.7 497.0,499.5 498.0,500.2 499.0,501.0 500.0,502.1 501.0,503.4 501.5,504.2 502.0,505.2 503.0,507.6 504.0,510.5 505.0,513.8 506.0,517.4 506.7,519.9 507.0,521.0 508.0,525.2 509.0,529.8 510.0,534.5 511.0,539.2 512.0,543.5 513.0,547.9 514.0,552.5 515.0,556.2 515.9,557.9 516.0,558.0 517.0,558.6 518.0,559.0 519.0,559.3 520.0,559.5 521.0,559.8 522.0,560.3 522.4,560.5 523.0,560.9 524.0,562.0 525.0,563.4 526.0,565.0 527.0,566.7 528.0,568.6 529.0,570.5 530.0,572.3 531.0,574.0 531.6,574.9 532.0,575.5 533.0,576.9 534.0,578.2 535.0,579.5 536.0,580.8 537.0,582.0 538.0,583.2 539.0,584.5 540.0,585.7 541.0,586.9 542.0,588.2 543.0,589.5 544.0,590.9 545.0,592.3 546.0,593.8 547.0,595.3 547.3,595.8 548.0,597.0 549.0,598.7 550.0,600.6 551.0,602.6 552.0,604.6 553.0,606.7 554.0,608.8 555.0,610.9 556.0,613.0 557.0,615.1 557.8,616.8 558.0,617.2 559.0,619.5 560.0,621.9 561.0,624.5 562.0,627.1 563.0,629.7 564.0,632.1 565.0,634.3 566.0,636.2 567.0,637.8 568.0,638.8 568.2,639.0 569.0,639.6 570.0,640.1 570.9,640.3 571.0,640.3 572.0,640.2 573.0,639.9 574.0,639.4 575.0,638.8 576.0,638.1 577.0,637.4 578.0,636.6 579.0,635.8 580.0,635.0 581.0,634.4 582.0,633.8 583.0,633.3 584.0,633.0 585.0,632.8 586.0,632.6 587.0,632.5 588.0,632.4 589.0,632.3 590.0,632.2 591.0,632.1 592.0,632.0 593.0,631.8 594.0,631.7 595.0,631.5 596.0,631.3 597.0,631.1 598.0,630.8 599.0,630.4 600.0,630.0 601.0,629.3 602.0,628.1 603.0,626.6 604.0,624.8 605.0,622.8 606.0,620.6 607.0,618.4 608.0,616.1 609.0,613.8 610.0,611.7 611.0,609.8 612.0,608.0 613.0,606.1 614.0,604.3 615.0,602.4 616.0,600.6 617.0,598.7 618.0,596.9 619.0,595.0 620.0,593.2 621.0,591.4 622.0,589.6 623.0,587.9 624.0,586.1 625.0,584.5 626.0,582.8 627.0,581.3 627.5,580.5 628.0,579.7 629.0,578.3 630.0,576.8 631.0,575.4 632.0,574.0 633.0,572.7 634.0,571.3 635.0,570.0 636.0,568.7 637.0,567.4 638.0,566.1 639.0,564.9 640.0,563.6 641.0,562.3 642.0,561.1 643.0,559.8 644.0,558.5 645.0,557.2 646.0,556.0 647.0,554.7 648.0,553.5 649.0,552.3 650.0,551.1 651.0,549.9 652.0,548.7 653.0,547.4 654.0,546.2 655.0,544.9 656.0,543.7 657.0,542.4 658.0,541.0 658.7,540.1 659.0,539.7 660.0,538.3 661.0,536.9 662.0,535.5 663.0,534.0 664.0,532.5 665.0,531.1 666.0,529.6 667.0,528.0 668.0,526.5 669.0,524.9 670.0,523.4 671.0,521.8 672.0,520.2 673.0,518.6 673.3,518.1 674.0,517.0 675.0,515.3 676.0,513.5 677.0,511.7 678.0,509.9 679.0,508.1 680.0,506.2 681.0,504.4 682.0,502.5 683.0,500.7 684.0,499.0 685.0,497.2 686.0,495.6 687.0,494.0 688.0,492.5 689.0,491.1 690.0,489.7 691.0,488.4 692.0,487.1 693.0,485.8 694.0,484.6 695.0,483.3 696.0,482.1 697.0,480.9 698.0,479.8 699.0,478.6 700.0,477.4 701.0,476.2 702.0,474.9 702.6,474.2 703.0,473.7 704.0,472.4 705.0,471.1 706.0,469.8 707.0,468.5 708.0,467.2 709.0,465.8 710.0,464.5 711.0,463.2 712.0,461.9 713.0,460.7 714.0,459.5 715.0,458.3 716.0,457.2 717.0,456.1 717.3,455.8 718.0,455.1 719.0,454.0 720.0,453.0 721.0,452.0 722.0,451.0 723.0,450.0 724.0,449.0 725.0,448.1 726.0,447.2 727.0,446.4 728.0,445.6 729.0,444.8 730.0,444.1 731.0,443.5 732.0,443.0 733.0,442.5 734.0,442.0 735.0,441.5 736.0,441.0 737.0,440.6 738.0,440.2 739.0,440.0 740.0,439.8 741.0,439.7 741.1,439.7 742.0,439.8 743.0,440.0 744.0,440.3 745.0,440.7 746.0,441.3 747.0,441.8 748.0,442.5 749.0,443.1 750.0,443.7 750.3,443.9 751.0,444.3 752.0,445.0 753.0,445.7 754.0,446.5 755.0,447.4 756.0,448.3 757.0,449.2 758.0,450.2 759.0,451.3 760.0,452.4 761.0,453.6 761.3,454.0 762.0,454.9 763.0,456.5 764.0,458.3 765.0,460.3 766.0,462.2 767.0,464.1 768.0,465.9 768.6,466.8 769.0,467.4 770.0,468.6 771.0,469.8 772.0,470.9 773.0,472.1 774.0,473.4 775.0,475.1 776.0,477.5 777.0,480.8 778.0,484.5 779.0,488.4 780.0,492.0 781.0,495.0 781.5,496.1 782.0,497.1 783.0,499.1 784.0,501.0 785.0,502.7 786.0,504.2 787.0,505.3 788.0,506.0 788.8,506.2 789.0,506.2 790.0,505.8 791.0,505.0 792.0,503.9 793.0,502.7 794.0,501.3 795.0,500.1 796.0,499.0 796.1,498.9 797.0,498.1 798.0,497.4 799.0,496.6 800.0,495.9 801.0,494.9 801.6,494.3 802.0,493.8 803.0,492.3 804.0,490.5 805.0,488.5 806.0,486.3 807.0,484.1 808.0,481.8 809.0,479.6 810.0,477.5 810.8,476.0 811.0,475.6 812.0,473.9 813.0,472.1 814.0,470.3 815.0,468.5 816.0,466.8 817.0,465.2 818.0,463.6 819.0,462.1 820.0,460.7 821.0,459.5 821.8,458.6 822.0,458.4 823.0,457.4 824.0,456.4 825.0,455.5 826.0,454.6 827.0,453.8 828.0,453.0 829.0,452.3 830.0,451.6 831.0,450.9 832.0,450.2 833.0,449.5 834.0,448.9 834.6,448.5 835.0,448.2 836.0,447.6 837.0,447.0 838.0,446.3 839.0,445.7 840.0,445.1 841.0,444.5 842.0,444.0 843.0,443.4 844.0,442.9 845.0,442.4 846.0,441.9 847.0,441.4 848.0,441.0 849.0,440.6 850.0,440.3 851.0,440.0 852.0,439.7 853.0,439.4 854.0,439.1 855.0,438.9 856.0,438.6 857.0,438.4 858.0,438.2 859.0,438.0 860.0,437.8 861.0,437.6 862.0,437.4 863.0,437.2 864.0,437.0 865.0,436.8 866.0,436.6 867.0,436.4 868.0,436.2 869.0,436.0 870.0,435.8 871.0,435.6 872.0,435.3 873.0,435.1 873.8,434.9 874.0,434.8 875.0,434.6 876.0,434.3 877.0,434.0 878.0,433.6 879.0,433.3 880.0,432.9 881.0,432.6 882.0,432.2 883.0,431.8 884.0,431.5 885.0,431.1 886.0,430.7 887.0,430.4 888.0,430.0 889.0,429.7 890.0,429.4 891.0,429.1 892.0,428.8 893.0,428.5 894.0,428.3 895.0,428.0 896.0,427.9 897.0,427.7 897.7,427.6 898.0,427.6 899.0,427.5 900.0,427.3 901.0,427.3 902.0,427.2 903.0,427.1 904.0,427.0 905.0,426.9 906.0,426.9 907.0,426.8 908.0,426.8 909.0,426.7 910.0,426.6 911.0,426.6 912.0,426.5 913.0,426.5 914.0,426.4 915.0,426.4 916.0,426.3 917.0,426.2 918.0,426.2 919.0,426.1 920.0,426.0 921.0,425.9 922.0,425.8 923.0,425.7 923.3,425.7 924.0,425.6 925.0,425.5 926.0,425.3 927.0,425.1 928.0,424.9 929.0,424.7 930.0,424.5 931.0,424.2 932.0,424.0 933.0,423.7 934.0,423.4 935.0,423.1 936.0,422.8 937.0,422.5 938.0,422.2 939.0,422.0 940.0,421.7 941.0,421.4 942.0,421.1 943.0,420.9 944.0,420.6 945.0,420.4 946.0,420.1 947.0,419.9 948.0,419.7 949.0,419.6 950.0,419.4 950.8,419.3 951.0,419.3 952.0,419.2 953.0,419.1 954.0,419.0 955.0,418.9 956.0,418.8 957.0,418.7 958.0,418.6 959.0,418.5 960.0,418.4 961.0,418.4 962.0,418.3 963.0,418.2 964.0,418.2 965.0,418.1 966.0,418.0 967.0,418.0 968.0,417.9 969.0,417.8 970.0,417.8 971.0,417.7 972.0,417.6 973.0,417.5 974.0,417.5 975.0,417.4 976.0,417.3 977.0,417.2 978.0,417.1 978.3,417.1 979.0,417.0 980.0,416.9 981.0,416.8 982.0,416.7 983.0,416.6 984.0,416.5 985.0,416.4 986.0,416.3 987.0,416.1 988.0,416.0 989.0,415.9 990.0,415.8 991.0,415.6 992.0,415.5 993.0,415.4 994.0,415.2 995.0,415.1 996.0,415.0 997.0,414.9 998.0,414.7 999.0,414.6 1000.0,414.5 1001.0,414.4 1002.0,414.2 1003.0,414.1 1004.0,414.0 1005.0,413.9 1005.8,413.8 1006.0,413.8 1007.0,413.7 1008.0,413.5 1009.0,413.4 1010.0,413.3 1011.0,413.2 1012.0,413.0 1013.0,412.9 1014.0,412.8 1015.0,412.7 1016.0,412.5 1017.0,412.4 1018.0,412.3 1019.0,412.1 1020.0,412.0 1021.0,411.9 1022.0,411.8 1023.0,411.7 1024.0,411.6 1025.0,411.5 1026.0,411.4 1027.0,411.3 1028.0,411.3 1029.0,411.2 1030.0,411.2 1031.0,411.1 1032.0,411.1 1033.0,411.1 1033.3,411.1 1034.0,411.1 1035.0,411.1 1036.0,411.1 1037.0,411.1 1038.0,411.1 1039.0,411.1 1040.0,411.1 1041.0,411.1 1042.0,411.1 1043.0,411.1 1044.0,411.1 1044.3,411.1 1045.0,411.9 1046.0,414.9 1047.0,418.6 1048.0,421.2 1049.0,422.7 1050.0,424.1 1051.0,425.3 1052.0,426.2 1053.0,426.7 1053.4,426.7 1054.0,426.7 1055.0,426.6 1056.0,426.4 1057.0,426.1 1058.0,425.7 1059.0,423.7 1060.0,420.5 1060.8,419.3 1061.0,419.4 1062.0,421.6 1063.0,424.3 1063.5,424.8 1064.0,424.8 1065.0,424.4 1066.0,423.9 1067.0,423.3 1068.0,422.7 1069.0,422.3 1070.0,422.1 1071.0,422.6 1072.0,423.6 1073.0,424.8 1074.0,425.6 1074.5,425.7 1075.0,425.4 1076.0,423.7 1077.0,421.0 1078.0,418.4 1079.0,416.7 1079.1,416.6 1080.0,416.0 1081.0,415.4 1082.0,414.9 1083.0,414.4 1084.0,414.0 1085.0,413.7 1086.0,413.4 1087.0,413.2 1088.0,413.0 1088.3,412.9 1089.0,412.8 1090.0,412.6 1091.0,412.4 1092.0,412.2 1093.0,412.0 1094.0,411.9 1095.0,411.7 1096.0,411.6 1097.0,411.5 1098.0,411.5 1099.0,411.4 1100.0,411.4 1101.0,411.4 1102.0,411.5 1103.0,411.5 1104.0,411.6 1105.0,411.7 1106.0,411.8 1107.0,411.9 1108.0,412.0 1109.0,412.2 1110.0,412.3 1111.0,412.4 1112.0,412.6 1113.0,412.7 1114.0,412.8 1115.0,412.9 1116.0,412.9 1117.0,413.0 1118.0,413.0 1118.3,413.0 1119.0,413.0 1120.0,413.0 1121.0,413.0 1122.0,413.0 1123.0,413.0 1124.0,413.0 1125.0,413.0 1126.0,413.0 1127.0,413.0 1128.0,413.0 1129.0,413.0 1130.0,413.0 1131.0,413.0 1132.0,413.0 1133.0,413.0 1134.0,413.0 1135.0,413.0 1136.0,413.0 1136.7,413.0 1137.0,413.0 1138.0,413.3 1139.0,413.9 1140.0,414.6 1140.6,415.1 1141.0,415.3 1141.2,415.5 1141.8,415.8 1142.0,416.1 1142.4,416.1 1143.0,416.6 1143.0,416.3 1143.6,416.9 1144.0,416.5 1144.2,416.8 1144.8,416.4 1145.0,416.6 1145.4,416.0 1146.0,416.1 1146.0,415.6 1146.6,415.8 1147.0,414.7 1147.2,415.3 1147.8,414.1 1148.0,414.7 1148.4,413.9 1149.0,414.3 1149.0,413.8 1149.5,414.1 1149.6,413.6 1150.0,414.7 1150.2,414.3 1150.8,417.0 1151.0,417.0 1151.4,419.3 1152.0,421.1 1152.0,421.6 1152.6,423.2 1153.0,424.8 1153.2,424.5 1153.5,425.2 1153.8,424.5 1154.0,424.9 1154.4,423.3 1155.0,421.7 1155.0,420.9 1155.6,419.0 1156.0,416.2 1156.2,416.1 1156.8,412.3 1157.0,412.1 1157.4,409.9 1158.0,408.7 1158.0,407.9 1158.6,407.8 1158.7,407.1 1159.0,407.8 1159.2,407.4 1159.8,408.8 1160.0,408.6 1160.4,410.1 1161.0,410.4 1161.0,411.2 1161.6,411.3 1162.0,412.4 1162.2,411.7 1162.3,412.5 1162.8,411.8 1163.0,412.3 1163.4,411.5 1164.0,411.8 1164.0,411.2 1164.6,411.5 1165.0,410.4 1165.2,410.9 1165.8,409.7 1166.0,410.2 1166.4,409.0 1167.0,409.1 1167.0,408.4 1167.6,408.8 1168.0,407.6 1168.2,408.3 1168.8,407.4 1169.0,407.8 1169.4,407.0 1169.6,407.9 1170.0,407.3 1170.0,408.0 1170.6,407.4 1171.0,408.4 1171.2,407.8 1171.8,409.0 1172.0,408.6 1172.4,409.5 1173.0,409.5 1173.0,410.3 1173.6,410.2 1174.0,411.3 1174.2,410.8 1174.8,412.0 1175.0,411.7 1175.4,412.5 1176.0,412.5 1176.0,413.2 1176.6,412.6 1177.0,413.3 1177.2,412.6 1177.8,413.5 1178.0,412.7 1178.4,413.4 1179.0,412.6 1179.0,413.3 1179.6,412.6 1180.0,413.4 1180.2,412.5 1180.8,413.2 1181.0,412.5 1181.4,413.2 1182.0,412.6 1182.0,413.4 1182.6,412.8 1183.0,413.3 1183.2,412.6 1183.8,413.2 1184.0,412.6 1184.4,413.4 1185.0,412.6 1185.0,413.4 1185.6,412.7 1186.0,413.3 1186.2,412.7 1186.8,413.3 1187.0,412.7 1187.4,413.5 1188.0,412.6 1188.0,413.3 1188.6,412.7 1189.0,413.5 1189.2,412.7 1189.8,413.5 1190.0,412.6 1190.4,413.4 1191.0,412.5 1191.0,413.4 1191.6,412.6 1191.6,413.3 1192.0,412.5 1192.2,413.3 1192.8,412.5 1193.0,413.2 1193.4,412.7 1194.0,413.4 1194.0,412.6 1194.6,413.3 1195.0,412.7 1195.2,413.5 1195.8,412.7 1196.0,413.5 1196.4,412.7 1197.0,413.5 1197.0,412.9 1197.6,413.6 1198.0,413.1 1198.2,413.6 1198.8,413.0 1199.0,413.9 1199.4,413.3 1200.0,414.0 1200.0,413.2 1200.6,414.0 1201.0,413.3 1201.2,414.1 1201.8,413.4 1202.0,414.2 1202.4,413.6 1203.0,414.5 1203.0,413.8 1203.6,414.4 1204.0,414.0 1204.2,414.7 1204.8,414.0 1205.0,414.9 1205.4,414.4 1206.0,415.2 1206.0,414.3 1206.3,415.3 1206.6,414.6 1207.0,415.7 1207.2,415.1 1207.8,416.2 1208.0,416.0 1208.4,417.1 1209.0,417.4 1209.0,417.9 1209.6,418.1 1210.0,419.2 1210.2,418.9 1210.8,420.1 1211.0,419.6 1211.4,420.4 1211.8,420.0 1212.0,420.8 1212.0,419.9 1212.6,420.7 1213.0,419.8 1213.2,420.5 1213.8,419.7 1214.0,420.3 1214.4,419.5 1215.0,419.9 1215.0,419.0 1215.6,419.7 1216.0,418.8 1216.2,419.3 1216.8,418.4 1217.0,418.8 1217.4,418.0 1218.0,418.5 1218.0,417.8 1218.6,418.3 1219.0,417.2 1219.1,417.8 1219.2,417.1 1219.8,417.8 1220.0,417.0 1220.4,417.4 1221.0,416.4 1221.0,417.2 1221.6,416.3 1222.0,416.7 1222.2,415.8 1222.8,416.3 1223.0,415.3 1223.4,415.9 1224.0,414.8 1224.0,415.7 1224.6,414.5 1225.0,415.0 1225.2,414.4 1225.8,414.7 1226.0,414.0 1226.4,414.4 1227.0,413.3 1227.0,414.1 1227.6,413.2 1228.0,413.7 1228.2,412.8 1228.8,413.2 1229.0,412.6 1229.4,413.0 1230.0,412.2 1230.0,413.0 1230.6,412.1 1231.0,412.6 1231.2,411.9 1231.8,412.4 1232.0,411.8 1232.4,412.3 1233.0,411.6 1233.0,412.2 1233.6,411.4 1234.0,412.2 1234.2,411.5 1234.8,411.9 1235.0,411.2 1235.4,411.8 1236.0,411.3 1236.0,411.8 1236.6,411.2 1237.0,411.9 1237.2,411.1 1237.8,411.6 1238.0,410.9 1238.4,411.7 1239.0,411.0 1239.0,411.6 1239.6,410.8 1240.0,411.5 1240.2,410.8 1240.8,411.4 1241.0,410.8 1241.1,411.6 1241.4,410.8 1242.0,412.3 1242.0,411.6 1242.6,413.0 1243.0,413.2 1243.2,414.3 1243.8,414.6 1244.0,415.4 1244.4,415.2 1244.8,416.1 1245.0,415.2 1245.0,415.9 1245.6,414.9 1246.0,415.0 1246.2,413.9 1246.8,413.5 1247.0,412.2 1247.4,412.4 1248.0,410.4 1248.0,411.3 1248.5,409.9 1248.6,410.5 1249.0,409.4 1249.2,409.9 1249.8,408.5 1250.0,409.1 1250.4,408.0 1251.0,408.1 1251.0,407.5 1251.6,407.5 1252.0,406.5 1252.2,407.1 1252.8,406.0 1253.0,406.4 1253.4,405.5 1254.0,405.6 1254.0,405.1 1254.6,405.3 1255.0,404.6 1255.2,404.8 1255.8,404.2 1256.0,404.5 1256.4,404.0 1257.0,404.1 1257.0,403.8 1257.6,403.9 1257.6,403.7 1258.0,403.8 1258.2,403.6 1258.8,403.6 1259.0,403.5 1259.4,403.5 1260.0,403.4 1261.0,403.3 1262.0,403.1 1263.0,403.0 1264.0,402.9 1265.0,402.8 1266.0,402.8 1267.0,402.7 1268.0,402.6 1269.0,402.6 1270.0,402.5 1271.0,402.4 1272.0,402.3 1273.0,402.3 1274.0,402.2 1275.0,402.1 1276.0,402.0 1277.0,401.9 1278.0,401.8 1279.0,401.7 1280.0,401.6 1281.0,401.4 1282.0,401.3 1283.0,401.2 1284.0,401.1 1285.0,401.0 1286.0,400.9 1287.0,400.7 1288.0,400.6 1289.0,400.5 1290.0,400.4 1290.6,400.3 1291.0,400.4 1291.2,400.3 1291.8,400.4 1292.0,400.1 1292.4,400.4 1292.4,400.1 1293.0,400.3 1293.0,400.0 1293.6,400.3 1294.0,399.9 1294.2,400.3 1294.8,399.7 1295.0,400.2 1295.4,399.5 1296.0,400.4 1296.0,399.4 1296.6,400.1 1297.0,399.4 1297.2,400.1 1297.8,399.4 1298.0,400.0 1298.4,399.2 1299.0,399.9 1299.0,399.2 1299.6,400.2 1300.0,399.0 1300.2,399.8 1300.8,398.9 1301.0,399.8 1301.4,398.9 1302.0,399.7 1302.0,398.8 1302.6,399.8 1303.0,398.7 1303.2,399.7 1303.8,398.5 1304.0,399.8 1304.4,398.7 1305.0,399.4 1305.0,398.7 1305.6,399.7 1306.0,398.3 1306.2,399.3 1306.8,398.2 1307.0,399.3 1307.4,398.4 1308.0,399.3 1308.0,398.1 1308.6,399.1 1309.0,398.3 1309.2,399.3 1309.8,398.4 1310.0,399.0 1310.4,398.2 1311.0,399.3 1311.0,398.0 1311.6,399.2 1312.0,397.9 1312.2,399.1 1312.8,397.9 1313.0,399.1 1313.4,397.9 1314.0,398.8 1314.0,398.1 1314.6,399.0 1315.0,398.1 1315.2,399.1 1315.8,397.8 1316.0,398.8 1316.4,397.7 1317.0,398.7 1317.0,397.8 1317.6,398.6 1318.0,397.6 1318.2,398.8 1318.8,397.7 1319.0,398.7 1319.4,397.7 1320.0,398.9 1320.0,397.7 1320.6,399.0 1321.0,397.8 1321.2,398.8 1321.8,397.7 1322.0,398.9 1322.4,397.9 1323.0,398.9 1323.0,397.9 1323.6,398.8 1324.0,397.7 1324.2,398.6 1324.8,397.8 1325.0,398.6 1325.4,397.7 1326.0,398.8 1326.0,397.9 1326.6,399.0 1327.0,397.9 1327.2,399.0 1327.8,398.1 1328.0,398.9 1328.4,397.9 1329.0,399.1 1329.0,398.1 1329.6,398.9 1330.0,397.9 1330.2,399.0 1330.8,398.2 1331.0,399.0 1331.4,398.1 1332.0,398.9 1332.0,397.9 1332.6,398.9 1333.0,398.1 1333.2,399.2 1333.8,398.0 1334.0,399.1 1334.4,398.0 1335.0,399.1 1335.0,398.1 1335.6,399.3 1336.0,398.1 1336.2,399.2 1336.8,398.2 1337.0,399.2 1337.4,398.3 1338.0,399.3 1338.0,398.3 1338.6,399.2 1339.0,398.2 1339.2,399.3 1339.8,398.4 1340.0,399.4 1340.4,398.4 1341.0,399.5 1341.0,398.3 1341.6,399.4 1342.0,398.3 1342.2,399.2 1342.8,398.5 1343.0,399.6 1343.4,398.4 1344.0,399.5 1344.0,398.4 1344.6,399.6 1345.0,398.5 1345.2,399.5 1345.8,398.7 1346.0,399.5 1346.4,398.7 1347.0,399.6 1347.0,398.4 1347.6,399.5 1348.0,398.7 1348.2,399.6 1348.8,398.6 1349.0,399.8 1349.4,398.5 1350.0,399.6 1350.0,398.8 1350.6,399.9 1351.0,398.7 1351.2,399.8 1351.8,398.9 1352.0,399.9 1352.4,398.9 1353.0,399.8 1353.0,398.9 1353.6,399.8 1354.0,398.7 1354.2,400.0 1354.8,398.9 1355.0,400.0 1355.4,398.9 1356.0,399.8 1356.0,398.9 1356.6,399.8 1357.0,399.0 1357.2,400.0 1357.8,398.9 1358.0,399.8 1358.4,398.9 1359.0,400.1 1359.0,399.0 1359.6,399.8 1360.0,399.0 1360.2,399.9 1360.8,399.0 1361.0,400.0 1361.4,399.0 1362.0,400.0 1362.0,399.1 1362.6,400.1 1363.0,399.1 1363.2,400.0 1363.8,399.0 1364.0,400.1 1364.2,399.3 1364.4,400.1 1365.0,399.4 1365.0,400.2 1365.6,399.1 1366.0,400.3 1366.2,399.4 1366.8,400.1 1367.0,399.4 1367.4,400.4 1368.0,399.3 1368.0,400.5 1368.6,399.3 1369.0,400.4 1369.2,399.3 1369.8,400.5 1370.0,399.5 1370.4,400.3 1371.0,399.5 1371.0,400.4 1371.6,399.6 1372.0,400.4 1372.2,399.4 1372.8,400.3 1373.0,399.7 1373.4,400.4 1374.0,399.7 1374.0,400.7 1374.6,399.8 1375.0,400.5 1375.2,399.8 1375.8,400.7 1376.0,399.9 1376.2,400.7 1376.4,399.9 1377.0,400.7 1377.0,399.7 1377.6,400.7 1378.0,399.9 1378.2,400.9 1378.8,400.1 1379.0,401.2 1379.4,400.3 1380.0,401.4 1380.0,400.1 1380.6,401.4 1381.0,400.6 1381.2,401.6 1381.8,400.6 1382.0,401.8 1382.4,400.9 1383.0,402.1 1383.0,400.8 1383.6,402.0 1384.0,401.3 1384.2,402.1 1384.8,401.4 1385.0,402.7 1385.4,401.5 1386.0,402.9 1386.0,401.9 1386.6,403.2 1387.0,402.2 1387.2,403.5 1387.8,402.5 1388.0,403.5 1388.2,402.7 1388.4,403.6 1389.0,402.9 1389.0,404.1 1389.6,403.4 1390.0,404.7 1390.2,403.5 1390.8,404.9 1391.0,404.3 1391.4,405.2 1392.0,404.9 1392.0,405.7 1392.6,405.2 1393.0,406.6 1393.2,405.7 1393.8,407.2 1394.0,406.1 1394.4,407.7 1395.0,407.0 1395.0,407.8 1395.6,407.4 1396.0,408.7 1396.2,408.1 1396.8,409.6 1397.0,408.6 1397.4,409.8 1398.0,409.6 1398.0,410.6 1398.3,409.8 1398.6,411.0 1399.0,410.5 1399.2,411.7 1399.8,411.4 1400.0,412.5 1400.4,412.2 1401.0,413.7 1401.0,412.6 1401.6,414.3 1402.0,414.2 1402.2,415.4 1402.8,415.1 1403.0,416.3 1403.4,415.8 1404.0,417.6 1404.0,416.4 1404.6,418.1 1405.0,417.5 1405.2,418.8 1405.8,418.1 1406.0,419.3 1406.4,418.4 1407.0,419.8 1407.0,418.7 1407.3,419.5 1407.6,418.5 1408.0,419.6 1408.2,418.6 1408.8,419.3 1409.0,418.2 1409.4,418.9 1410.0,417.6 1410.0,418.7 1410.3,417.8 1410.6,418.6 1411.0,418.1 1411.2,418.9 1411.8,418.6 1412.0,419.5 1412.4,419.3 1413.0,420.8 1413.0,420.0 1413.6,421.7 1414.0,420.9 1414.2,422.2 1414.8,421.9 1415.0,423.1 1415.4,422.6 1416.0,423.5 1416.0,422.5 1416.3,423.7 1416.6,422.6 1417.0,423.4 1417.2,422.6 1417.8,423.5 1418.0,422.2 1418.4,422.9 1419.0,421.8 1419.0,422.7 1419.6,421.3 1420.0,421.9 1420.2,421.1 1420.8,421.6 1421.0,420.3 1421.4,420.9 1422.0,419.2 1422.0,420.3 1422.6,419.1 1423.0,419.4 1423.2,418.4 1423.8,418.5 1424.0,417.5 1424.4,418.4 1425.0,416.7 1425.0,417.7 1425.6,416.3 1426.0,416.9 1426.2,415.7 1426.3,416.7 1426.8,415.2 1427.0,416.2 1427.4,415.1 1428.0,415.6 1428.0,414.6 1428.6,415.0 1429.0,413.8 1429.2,414.9 1429.8,413.5 1430.0,414.2 1430.4,412.8 1431.0,413.5 1431.0,412.6 1431.6,413.0 1432.0,411.8 1432.2,412.8 1432.8,411.3 1433.0,412.0 1433.4,410.8 1434.0,411.7 1434.0,410.7 1434.6,411.0 1435.0,410.0 1435.2,410.9 1435.8,409.2 1436.0,410.0 1436.4,409.1 1437.0,409.5 1437.0,408.6 1437.6,409.4 1438.0,408.2 1438.2,408.8 1438.8,407.6 1439.0,408.5 1439.4,407.1 1440.0,407.9 1440.0,407.1 1440.4,407.6 1440.6,406.4 1441.0,407.5 1441.2,406.5 1441.8,407.1 1442.0,406.0 1442.4,406.8 1443.0,405.6 1443.0,406.5 1443.6,405.2 1444.0,405.8 1444.2,404.7 1444.8,405.4 1445.0,404.5 1445.4,405.0 1446.0,403.9 1446.0,404.6 1446.6,403.7 1447.0,404.2 1447.2,403.3 1447.8,403.9 1448.0,402.9 1448.4,403.6 1449.0,402.6 1449.0,403.4 1449.6,402.1 1450.0,402.9 1450.2,402.0 1450.8,402.8 1451.0,401.6 1451.4,402.6 1452.0,401.0 1452.0,402.1 1452.6,400.9 1453.0,401.7 1453.2,400.9 1453.8,401.5 1454.0,400.4 1454.4,401.5 1455.0,400.3 1455.0,401.2 1455.6,400.0 1456.0,400.6 1456.2,399.6 1456.4,400.8 1456.8,399.8 1457.0,400.7 1457.4,399.6 1458.0,400.1 1458.0,399.3 1458.6,400.3 1459.0,399.2 1459.2,400.1 1459.8,398.8 1460.0,399.6 1460.4,398.6 1461.0,399.5 1461.0,398.5 1461.6,399.5 1462.0,398.2 1462.2,399.5 1462.8,398.3 1463.0,399.2 1463.4,398.1 1464.0,399.0 1464.0,397.8 1464.6,399.0 1465.0,397.9 1465.2,398.7 1465.8,397.5 1466.0,398.8 1466.4,397.7 1466.4,398.8 1467.0,397.6 1467.0,398.5 1467.6,397.4 1468.0,398.4 1468.2,397.5 1468.8,398.3 1469.0,397.4 1469.4,398.1 1470.0,397.4 1470.0,398.4 1470.6,397.2 1471.0,398.2 1471.2,397.0 1471.8,398.0 1472.0,397.2 1472.4,397.9 1473.0,397.1 1473.0,398.1 1473.6,397.0 1474.0,397.8 1474.2,396.9 1474.8,397.7 1475.0,397.0 1475.4,397.9 1476.0,396.7 1476.0,397.7 1476.6,396.7 1477.0,397.5 1477.2,396.8 1477.8,397.7 1478.0,396.8 1478.4,397.6 1479.0,396.6 1479.0,397.7 1479.6,396.8 1480.0,397.7 1480.2,396.8 1480.8,397.8 1481.0,396.7 1481.4,397.5 1482.0,396.7 1482.0,397.8 1482.5,396.7 1482.6,397.6 1483.0,396.4 1483.2,397.8 1483.8,396.9 1484.0,397.7 1484.4,396.8 1485.0,398.0 1485.0,397.0 1485.6,398.1 1486.0,397.5 1486.2,398.2 1486.8,397.6 1487.0,398.5 1487.4,398.0 1488.0,399.1 1488.0,398.4 1488.6,399.3 1489.0,398.5 1489.2,399.8 1489.8,399.3 1490.0,400.4 1490.4,399.8 1491.0,401.1 1491.0,400.1 1491.6,402.3 1492.0,401.7 1492.2,402.9 1492.8,403.4 1493.0,404.4 1493.4,404.6 1494.0,406.3 1494.0,405.9 1494.6,407.7 1495.0,407.9 1495.2,408.6 1495.8,409.1 1495.9,409.8 1496.0,409.5 1496.4,410.5 1497.0,411.0 1497.0,411.5 1497.6,412.0 1498.0,412.9 1498.2,413.0 1498.8,414.0 1499.0,414.2 1499.4,414.9 1500.0,415.7 1501.0,417.1 1502.0,418.5 1503.0,419.9 1504.0,421.2 1505.0,422.5 1505.7,423.4 1506.0,423.8 1507.0,425.0 1508.0,426.1 1509.0,427.2 1510.0,428.3 1511.0,429.3 1512.0,430.4 1513.0,431.4 1514.0,432.5 1515.0,433.6 1515.5,434.2 1516.0,434.8 1517.0,436.3 1518.0,437.9 1519.0,439.5 1520.0,440.7 1521.0,441.3 1521.4,441.4 1522.0,441.4 1523.0,441.4 1524.0,441.4 1525.0,441.4 1525.3,441.4 1526.0,440.9 1527.0,438.7 1528.0,436.0 1529.0,433.7 1529.3,433.2 1530.0,432.3 1531.0,431.1 1532.0,429.9 1533.0,428.9 1534.0,428.1 1535.0,427.5 1536.0,427.3 1536.1,427.3 1537.0,427.4 1538.0,427.6 1539.0,428.1 1540.0,428.6 1541.0,429.3 1542.0,430.9 1543.0,433.7 1544.0,437.3 1545.0,441.0 1546.0,445.4 1547.0,450.7 1548.0,455.7 1548.9,458.7 1549.0,458.9 1550.0,461.1 1551.0,463.0 1552.0,464.3 1552.8,464.6 1553.0,464.6 1554.0,463.5 1555.0,461.3 1556.0,458.6 1557.0,456.1 1557.7,454.8 1558.0,454.3 1559.0,452.6 1560.0,451.1 1561.0,450.1 1561.6,449.9 1562.0,450.1 1563.0,452.0 1564.0,455.1 1565.0,458.3 1566.0,460.4 1566.5,460.7 1567.0,460.6 1568.0,460.1 1569.0,459.2 1570.0,458.1 1571.0,457.3 1572.0,456.8 1572.4,456.7 1573.0,457.2 1574.0,459.7 1575.0,463.6 1576.0,467.8 1577.0,471.3 1578.0,473.3 1578.3,473.4 1579.0,473.0 1580.0,471.2 1581.0,468.4 1582.0,465.2 1582.2,464.6 1583.0,461.0 1584.0,454.5 1585.0,447.9 1586.0,443.5 1586.2,443.0 1587.0,441.6 1588.0,440.0 1589.0,438.7 1590.0,437.6 1591.0,436.8 1592.0,436.3 1593.0,436.1 1594.0,436.7 1595.0,438.0 1596.0,439.4 1597.0,440.0 1598.0,439.6 1599.0,438.5 1600.0,437.0 1601.0,435.3 1602.0,433.5 1603.0,432.1 1603.8,431.2 1604.0,431.0 1605.0,430.2 1606.0,429.5 1607.0,428.8 1608.0,428.1 1609.0,427.5 1610.0,427.0 1611.0,426.5 1612.0,426.0 1613.0,425.5 1613.6,425.3 1614.0,425.1 1615.0,424.8 1616.0,424.6 1617.0,424.3 1618.0,424.1 1619.0,423.9 1620.0,423.7 1621.0,423.4 1622.0,423.1 1623.0,422.7 1623.5,422.4 1624.0,421.9 1625.0,420.0 1626.0,417.4 1627.0,414.6 1628.0,412.1 1629.0,410.7 1629.4,410.6 1630.0,410.9 1631.0,412.6 1632.0,415.2 1633.0,417.9 1634.0,420.2 1635.0,421.4 1635.2,421.4 1636.0,421.1 1637.0,419.9 1638.0,418.2 1639.0,416.0 1640.0,413.7 1641.0,411.5 1642.0,409.6 1643.0,408.3 1644.0,407.7 1644.1,407.7 1645.0,408.2 1646.0,409.6 1647.0,411.6 1648.0,415.9 1649.0,423.2 1650.0,431.7 1650.9,439.1 1651.0,439.9 1652.0,449.0 1653.0,459.6 1654.0,470.2 1655.0,479.4 1656.0,485.5 1656.8,487.2 1657.0,487.1 1658.0,485.2 1659.0,481.3 1660.0,476.4 1661.0,471.4 1661.7,468.5 1662.0,467.3 1663.0,462.8 1664.0,458.1 1665.0,453.9 1666.0,451.3 1666.6,450.8 1667.0,451.0 1668.0,452.8 1669.0,456.1 1670.0,460.7 1671.0,466.0 1672.0,471.6 1672.5,474.4 1673.0,477.5 1674.0,485.2 1675.0,494.2 1676.0,503.4 1676.5,507.8 1677.0,512.4 1678.0,522.9 1679.0,532.9 1680.0,539.8 1680.4,541.1 1681.0,542.1 1682.0,543.5 1683.0,544.5 1684.0,545.3 1685.0,545.9 1686.0,546.5 1687.0,547.3 1688.0,548.3 1688.2,548.5 1689.0,549.5 1690.0,550.7 1691.0,552.1 1692.0,553.7 1693.0,555.6 1693.7,557.1 1694.0,557.8 1695.0,560.8 1696.0,564.5 1697.0,568.9 1698.0,573.8 1699.0,579.2 1699.6,582.6 1700.0,585.0 1701.0,591.7 1702.0,600.1 1702.6,606.2 1703.0,612.0 1704.0,633.6 1705.0,653.1 1705.5,657.2 1706.0,658.3 1707.0,660.1 1708.0,661.0 1708.5,661.1 1709.0,660.7 1710.0,658.2 1711.0,653.9 1712.0,648.8 1713.0,643.8 1714.0,639.8 1715.0,637.7 1715.3,637.6 1716.0,639.2 1717.0,645.5 1718.0,654.1 1719.0,662.1 1720.0,666.7 1720.3,667.0 1721.0,666.7 1722.0,665.6 1723.0,663.8 1724.0,661.5 1725.0,658.8 1726.0,656.1 1727.0,653.5 1727.1,653.3 1728.0,650.7 1729.0,647.1 1730.0,643.1 1731.0,639.2 1732.0,635.9 1733.0,633.6 1734.0,632.7 1735.0,632.7 1736.0,632.7 1737.0,632.7 1738.0,632.7 1738.9,632.7 1739.0,632.7 1740.0,631.8 1741.0,629.5 1742.0,626.1 1743.0,621.7 1744.0,616.6 1744.8,612.1 1745.0,610.7 1746.0,599.6 1747.0,585.4 1747.7,576.7 1748.0,573.5 1749.0,562.9 1750.0,553.7 1750.7,549.2 1751.0,547.8 1752.0,543.9 1753.0,540.9 1754.0,538.3 1755.0,535.5 1755.6,533.5 1756.0,532.0 1757.0,528.2 1758.0,524.2 1759.0,520.0 1760.0,515.9 1760.5,513.9 1761.0,511.9 1762.0,507.5 1763.0,503.1 1764.0,498.8 1765.0,494.9 1766.0,491.5 1766.4,490.3 1767.0,488.7 1768.0,486.2 1769.0,483.9 1770.0,481.8 1771.0,479.9 1772.0,478.1 1773.0,476.4 1774.0,474.9 1774.2,474.6 1775.0,473.4 1776.0,471.8 1777.0,470.3 1778.0,469.2 1779.0,468.7 1779.2,468.7 1780.0,468.9 1781.0,469.4 1782.0,470.3 1783.0,471.4 1784.0,472.5 1784.1,472.6 1785.0,474.1 1786.0,476.4 1787.0,478.8 1788.0,480.7 1789.0,481.5 1790.0,480.2 1791.0,476.8 1792.0,472.4 1793.0,468.0 1793.9,464.8 1794.0,464.5 1795.0,461.7 1796.0,459.0 1797.0,456.7 1797.8,455.0 1798.0,454.6 1799.0,452.8 1800.0,451.1 1801.0,449.5 1802.0,448.1 1803.0,446.8 1803.7,446.1 1804.0,445.8 1805.0,444.9 1806.0,444.0 1807.0,443.2 1808.0,442.5 1809.0,441.8 1810.0,441.1 1811.0,440.6 1812.0,440.0 1813.0,439.5 1813.5,439.3 1814.0,439.1 1815.0,438.7 1816.0,438.2 1817.0,437.9 1818.0,437.5 1819.0,437.1 1820.0,436.8 1821.0,436.5 1822.0,436.2 1823.0,435.9 1824.0,435.6 1825.0,435.4 1826.0,435.2 1827.0,435.0 1827.3,434.9 1828.0,434.8 1829.0,434.6 1830.0,434.4 1831.0,434.2 1832.0,434.0 1833.0,433.8 1834.0,433.6 1835.0,433.5 1836.0,433.4 1837.0,433.2 1838.0,433.1 1839.0,433.1 1840.0,433.0 1841.0,433.0 1842.0,433.0 1843.0,433.0 1844.0,433.1 1845.0,433.2 1846.0,433.3 1847.0,433.4 1848.0,433.5 1849.0,433.7 1850.0,433.9 1851.0,434.0 1852.0,434.2 1853.0,434.4 1854.0,434.7 1855.0,434.9 1856.0,435.1 1856.7,435.3 1857.0,435.4 1858.0,435.7 1859.0,436.1 1860.0,436.6 1861.0,437.1 1862.0,437.8 1863.0,438.5 1864.0,439.2 1865.0,440.0 1866.0,440.9 1867.0,441.8 1868.0,442.7 1868.5,443.2 1869.0,443.7 1870.0,445.1 1871.0,446.8 1872.0,448.7 1873.0,450.7 1874.0,452.5 1875.0,454.2 1876.0,455.7 1876.3,456.0 1877.0,456.8 1878.0,457.9 1879.0,458.9 1880.0,459.8 1881.0,460.5 1882.0,460.9 1882.2,460.9 1883.0,461.0 1884.0,461.1 1885.0,461.2 1886.0,461.2 1887.0,461.3 1888.0,461.3 1889.0,461.3 1890.0,461.4 1891.0,461.4 1892.0,461.5 1893.0,461.6 1894.0,461.8 1895.0,463.5 1896.0,466.8 1897.0,471.7 1898.0,478.7 1899.0,485.9 1900.0,491.4 1900.9,493.3 1901.0,493.3 1902.0,493.0 1903.0,492.4 1904.0,491.4 1905.0,490.2 1906.0,488.8 1907.0,487.3 1908.0,485.9 1909.0,484.4 1910.0,483.1 1911.0,482.0 1912.0,481.1 1913.0,480.6 1913.7,480.5 1914.0,480.5 1915.0,480.6 1916.0,480.9 1917.0,481.4 1918.0,481.9 1919.0,482.6 1920.0,483.3 1921.0,484.1 1922.0,485.0 1923.0,485.9 1923.5,486.4 1924.0,487.0 1925.0,488.9 1926.0,491.3 1927.0,493.9 1928.0,496.3 1929.0,498.2 1930.0,499.1 1930.3,499.2 1931.0,499.1 1932.0,498.6 1933.0,497.8 1934.0,496.8 1935.0,495.8 1936.0,494.8 1937.0,494.0 1937.2,493.9 1938.0,493.4 1939.0,492.8 1940.0,492.1 1941.0,491.5 1942.0,490.9 1943.0,490.3 1944.0,489.7 1945.0,489.1 1946.0,488.6 1947.0,488.2 1948.0,487.9 1949.0,487.6 1950.0,487.5 1951.0,487.4 1952.0,487.9 1953.0,489.3 1954.0,491.0 1955.0,492.6 1956.0,493.8 1956.8,494.2 1957.0,494.2 1958.0,493.3 1959.0,491.5 1960.0,489.1 1961.0,486.4 1962.0,483.9 1962.7,482.5 1963.0,482.0 1964.0,480.1 1965.0,478.4 1966.0,476.6 1967.0,475.0 1968.0,473.5 1968.6,472.6 1969.0,472.1 1970.0,471.1 1971.0,470.3 1972.0,469.4 1973.0,467.9 1973.5,466.8 1974.0,464.3 1975.0,455.0" fill="none" stroke="#000000" stroke-width="2" stroke-linejoin="round" stroke-linecap="round" shape-rendering="crispEdges"/>
<g stroke="#000" fill="none">
<line x1="235" y1="41" x2="235" y2="1317" stroke-width="4"/>
<line x1="1976" y1="41" x2="1976" y2="1317" stroke-width="4"/>
<line x1="233" y1="43.5" x2="1978" y2="43.5" stroke-width="5"/>
<line x1="233" y1="1314.5" x2="1978" y2="1314.5" stroke-width="5"/>
</g>
<g stroke="#000" stroke-linecap="round">
<line x1="209.5" y1="1314.5" x2="235" y2="1314.5" stroke-width="5"/>
<line x1="223" y1="1223.7" x2="235" y2="1223.7" stroke-width="5"/>
<line x1="209.5" y1="1132.9" x2="235" y2="1132.9" stroke-width="5"/>
<line x1="223" y1="1042.1" x2="235" y2="1042.1" stroke-width="5"/>
<line x1="209.5" y1="951.4" x2="235" y2="951.4" stroke-width="5"/>
<line x1="223" y1="860.6" x2="235" y2="860.6" stroke-width="5"/>
<line x1="209.5" y1="769.8" x2="235" y2="769.8" stroke-width="5"/>
<line x1="223" y1="679.0" x2="235" y2="679.0" stroke-width="5"/>
<line x1="209.5" y1="588.2" x2="235" y2="588.2" stroke-width="5"/>
<line x1="223" y1="497.4" x2="235" y2="497.4" stroke-width="5"/>
<line x1="209.5" y1="406.6" x2="235" y2="406.6" stroke-width="5"/>
<line x1="223" y1="315.9" x2="235" y2="315.9" stroke-width="5"/>
<line x1="209.5" y1="225.1" x2="235" y2="225.1" stroke-width="5"/>
<line x1="223" y1="134.3" x2="235" y2="134.3" stroke-width="5"/>
<line x1="209.5" y1="43.5" x2="235" y2="43.5" stroke-width="5"/>
<line x1="235.0" y1="1314" x2="235.0" y2="1341" stroke-width="4"/>
<line x1="360.1" y1="1314" x2="360.1" y2="1328" stroke-width="4"/>
<line x1="485.2" y1="1314" x2="485.2" y2="1341" stroke-width="4"/>
<line x1="610.2" y1="1314" x2="610.2" y2="1328" stroke-width="4"/>
<line x1="735.3" y1="1314" x2="735.3" y2="1341" stroke-width="4"/>
<line x1="860.4" y1="1314" x2="860.4" y2="1328" stroke-width="4"/>
<line x1="985.5" y1="1314" x2="985.5" y2="1341" stroke-width="4"/>
<line x1="1110.6" y1="1314" x2="1110.6" y2="1328" stroke-width="4"/>
<line x1="1235.7" y1="1314" x2="1235.7" y2="1341" stroke-width="4"/>
<line x1="1360.7" y1="1314" x2="1360.7" y2="1328" stroke-width="4"/>
<line x1="1485.8" y1="1314" x2="1485.8" y2="1341" stroke-width="4"/>
<line x1="1610.9" y1="1314" x2="1610.9" y2="1328" stroke-width="4"/>
<line x1="1736.0" y1="1314" x2="1736.0" y2="1341" stroke-width="4"/>
<line x1="1861.1" y1="1314" x2="1861.1" y2="1328" stroke-width="4"/>
</g>
<g font-family="Liberation Serif, serif" font-size="50" fill="#000">
<text x="190.6" y="1329.5" text-anchor="end">70</text>
<text x="190.6" y="1147.9" text-anchor="end">80</text>
<text x="190.6" y="966.4" text-anchor="end">90</text>
<text x="190.6" y="784.8" text-anchor="end">100</text>
<text x="190.6" y="603.2" text-anchor="end">110</text>
<text x="190.6" y="421.6" text-anchor="end">120</text>
<text x="190.6" y="240.1" text-anchor="end">130</text>
<text x="190.6" y="58.5" text-anchor="end">140</text>
<text x="235.5" y="1396.6" text-anchor="middle">4000</text>
<text x="485.7" y="1396.6" text-anchor="middle">3500</text>
<text x="735.8" y="1396.6" text-anchor="middle">3000</text>
<text x="986.0" y="1396.6" text-anchor="middle">2500</text>
<text x="1236.2" y="1396.6" text-anchor="middle">2000</text>
<text x="1486.3" y="1396.6" text-anchor="middle">1500</text>
<text x="1736.5" y="1396.6" text-anchor="middle">1000</text>
</g>
<text x="839" y="1500" font-family="Liberation Serif, serif" font-size="63.5" fill="#000">Wavenumber (cm<tspan x="1290" y="1465" font-size="36">-1</tspan><tspan x="1319.7" y="1500">)</tspan></text>
<text transform="translate(65.5,968.9) rotate(-90)" font-family="Liberation Serif, serif" font-size="64" fill="#000">Transmittance (a.u.)</text>
<line x1="511" y1="113" x2="603" y2="113" stroke="#000000" stroke-width="2" shape-rendering="crispEdges"/>
<text x="610" y="124.5" font-family="Liberation Serif, serif" font-size="39.5" fill="#000">CO</text>
<line x1="511" y1="161" x2="603" y2="161" stroke="#808080" stroke-width="4" shape-rendering="crispEdges"/>
<text x="610" y="173.2" font-family="Liberation Serif, serif" font-size="39.5" fill="#000">CO-CA</text>
<line x1="511" y1="209" x2="603" y2="209" stroke="#FF8000" stroke-width="4" shape-rendering="crispEdges"/>
<text x="610" y="221.6" font-family="Liberation Serif, serif" font-size="39.5" fill="#000">CO-CA-Ag-PSC</text>
<line x1="511" y1="258" x2="603" y2="258" stroke="#990000" stroke-width="4" shape-rendering="crispEdges"/>
<text x="610" y="270.0" font-family="Liberation Serif, serif" font-size="39.5" fill="#000">CO-CA-Ag-JR</text>
<line x1="511" y1="306.5" x2="603" y2="306.5" stroke="#FFC0FF" stroke-width="3" shape-rendering="crispEdges"/>
<text x="610" y="318.5" font-family="Liberation Serif, serif" font-size="39.5" fill="#000">CO-CA-Ag-HL</text>
<line x1="511" y1="355" x2="603" y2="355" stroke="#960088" stroke-width="4" shape-rendering="crispEdges"/>
<text x="610" y="367.0" font-family="Liberation Serif, serif" font-size="39.5" fill="#000">CO-CA-Ag-SN</text>
<ellipse cx="1402.5" cy="671" rx="94.5" ry="413.5" fill="none" stroke="#000" stroke-width="3" stroke-dasharray="4.6 10.05" stroke-dashoffset="2.3" shape-rendering="crispEdges"/>
<polygon points="788.3,509.1 777.7,542.4 793.9,542.4" fill="#000" shape-rendering="crispEdges"/>
<line x1="786.5" y1="542.4" x2="786.5" y2="544.5" stroke="#000" stroke-width="2.2" shape-rendering="crispEdges"/>
<polygon points="1373.2,537.5 1363.6,570.6 1381.6,570.6" fill="#000" shape-rendering="crispEdges"/>
<polygon points="1415.3,542.5 1406.5,574.6 1424.1,574.6" fill="#000" shape-rendering="crispEdges"/>
<polygon points="1549.9,431.8 1540.3,398.3 1558.0,398.3" fill="#000" shape-rendering="crispEdges"/>
<line x1="1549.9" y1="398.3" x2="1549.9" y2="391.8" stroke="#000" stroke-width="2.2" shape-rendering="crispEdges"/>
<polygon points="1518.0,444.0 1508.3,476.8 1524.8,476.8" fill="#000" shape-rendering="crispEdges"/>
<line x1="1516.9" y1="476.8" x2="1516.9" y2="489.4" stroke="#000" stroke-width="2.2" shape-rendering="crispEdges"/>
<polygon points="1581.2,487.0 1572.2,519.4 1588.8,519.4" fill="#000" shape-rendering="crispEdges"/>
<polygon points="1631.9,429.2 1623.8,462.3 1640.9,462.3" fill="#000" shape-rendering="crispEdges"/>
<polygon points="1658.3,422.6 1648.9,390.4 1666.3,390.4" fill="#000" shape-rendering="crispEdges"/>
<line x1="1658.3" y1="390.4" x2="1658.3" y2="374.3" stroke="#000" stroke-width="2.2" shape-rendering="crispEdges"/>
<polygon points="1789.8,453.4 1780.4,419.9 1797.8,419.9" fill="#000" shape-rendering="crispEdges"/>
<line x1="1789.8" y1="419.9" x2="1789.8" y2="403.8" stroke="#000" stroke-width="2.2" shape-rendering="crispEdges"/>
<polygon points="1712.0,595.6 1703.4,562.0 1720.5,562.0" fill="#000" shape-rendering="crispEdges"/>
<line x1="1712.0" y1="562.0" x2="1712.0" y2="547.3" stroke="#000" stroke-width="2.2" shape-rendering="crispEdges"/>
<polygon points="1718.7,669.4 1710.0,703.7 1727.9,703.7" fill="#000" shape-rendering="crispEdges"/>
<g font-family="Liberation Sans, Arial, sans-serif" fill="#000">
<text x="759.4" y="571.2" font-size="30.4">2898</text>
<text x="1511.6" y="380.3" font-size="33.8">1364</text>
<text x="1626.0" y="359.2" font-size="30.6">1156</text>
<text x="1762.3" y="388.0" font-size="33.1">900</text>
<text x="1494.5" y="515.6" font-size="29.9">1427</text>
<text x="1547.3" y="545.0" font-size="29.1">1315</text>
<text x="1586.1" y="496.1" font-size="29.9">1203</text>
<text x="1312.6" y="604.2" font-size="33.8">1720</text>
<text x="1393.6" y="603.4" font-size="33.9">1640</text>
<text x="1685.9" y="534.2" font-size="29.2">1050</text>
<text x="1684.2" y="726.1" font-size="25.4">1031</text>
</g>
</svg>
</body></html>
